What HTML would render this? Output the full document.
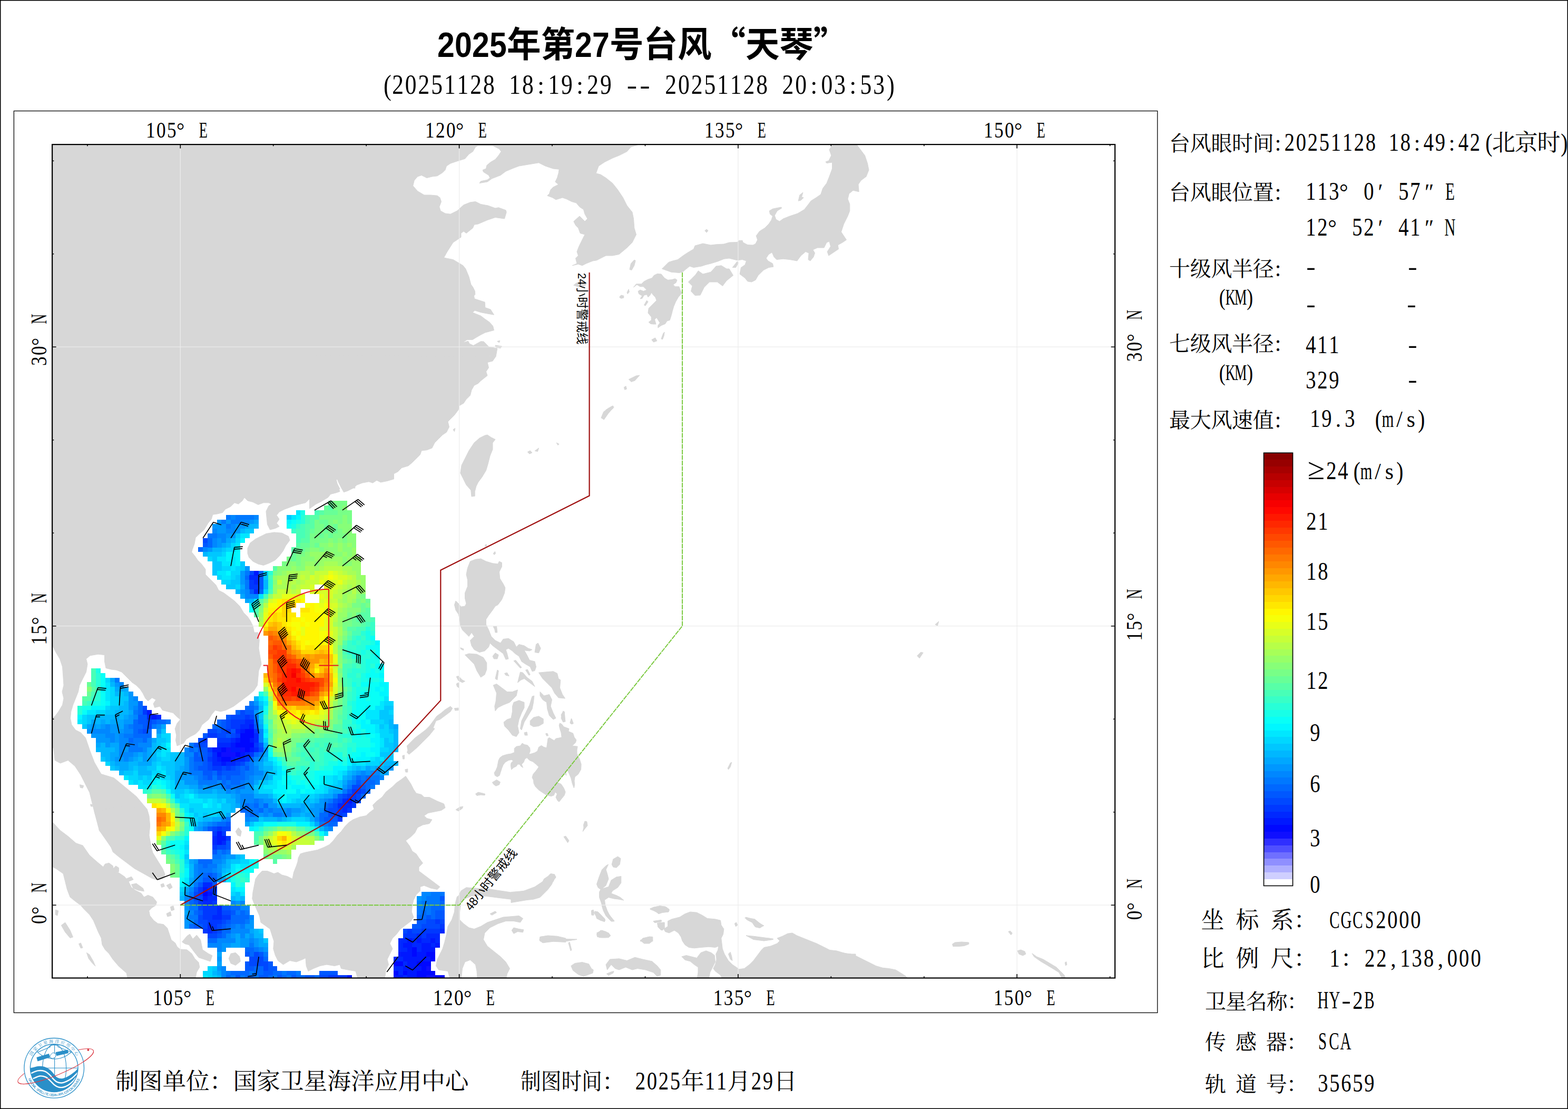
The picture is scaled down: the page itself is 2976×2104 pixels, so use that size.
<!DOCTYPE html><html lang="zh"><head><meta charset="utf-8"><title>2025年第27号台风“天琴”</title><style>html,body{margin:0;padding:0;background:#fff}body{width:2976px;height:2104px;overflow:hidden;position:relative;font-family:"Liberation Serif",serif}</style></head><body><svg width="2976" height="2104" viewBox="0 0 2976 2104" style="position:absolute;left:0;top:0"><rect x="0" y="0" width="2976" height="2104" fill="#fff"/>
<clipPath id="mc"><rect x="99.1" y="274.1" width="2017.1" height="1581.4"/></clipPath>
<g clip-path="url(#mc)">
<path fill="#d7d7d7" stroke="#d7d7d7" stroke-width="1" stroke-linejoin="round" d="M90 260 705 260 705 690 90 690zM700 260 1210 260 1210 275 1197.5 278.8 1190 287.5 1175 295 1162.5 300 1147.5 307.5 1136.2 315 1131.2 328.8 1140 331.2 1150 337.5 1162.5 347.5 1172.5 360 1182.5 375 1190 390 1200 402.5 1202.5 415 1203.8 432.5 1207.5 445 1200 460 1190 470 1175 482.5 1162.5 485 1150 485 1140 490 1132.5 493.8 1125 495 1112.5 500 1105 503.8 1097.5 501.2 1086.2 503.8 1095 500 1092.5 490 1097.5 485 1095 477.5 1098.8 467.5 1102.5 460 1106.2 452.5 1110 445 1101.2 442.5 1097.5 432.5 1092.5 427.5 1088.8 420 1100 410 1110 420 1115 415 1110 406.2 1107.5 397.5 1100 392.5 1093.8 385 1085 382.5 1075 377.5 1067.5 375 1055 378.8 1048.8 375 1038.8 371.2 1042.5 367.5 1045 360 1050 355 1060 350 1053.8 345 1057.5 337.5 1060 328.8 1061.2 321.2 1050 320 1035 315 1022.5 308.8 1000 312.5 985 315 975 318.8 960 325 950 332.5 933.8 338.8 925 345 910 347.5 912.5 343.8 925 341.2 930 337.5 927.5 332.5 917.5 326.2 916.2 322.5 922.5 320 923.8 313.8 931.2 307.5 940 302.5 946.2 295 951.2 287.5 947.5 282.5 935 276.2 907.5 276.2 902.5 278.8 897.5 287.5 890 292.5 882.5 301.2 870 305 855 310 847.5 315 845 322.5 840 327.5 830 333.8 820 335 810 337.5 800 332.5 792.5 335 786.2 342.5 783.8 352.5 792.5 362.5 805 370 817.5 370 830 371.2 835 375 837.5 382.5 833.8 392.5 836.2 400 845 405 855 406.2 867.5 400 880 388.8 892.5 383.8 902.5 382.5 912.5 387.5 926.2 390 940 395 946.2 393.8 960 398.8 961.2 402.5 957.5 415 940 412.5 925 417.5 907.5 425 900 426.2 897.5 432.5 885 442.5 880 438.8 875 442.5 875 450 860 460 848.8 477.5 842.5 488.8 847.5 490 860 492.5 878.8 503.8 883.8 510 890 525 894 540 897.5 544.5 901.2 552 901.8 558.5 899.5 561.2 900.5 566.8 920.2 573.2 920.8 583.5 931 587 937.5 597.2 925 595 913.2 592.8 901.2 589 896.8 592.8 903.2 595.5 912.5 599.2 919.8 604.8 929 611.2 935.5 618.5 937.5 626.5 920.8 631 912.5 635.2 903.8 640.2 896.8 644.5 886.5 644.5 877.2 650.5 888.5 647.2 891.2 652.2 898.5 655.5 912.5 647.8 918 648 928 658.2 943.8 661 941.2 675.8 700 675.8zM1624 272.5 1626.5 275 1634 285 1641.5 295 1646.5 310 1649 322.5 1644 335 1634 342.5 1629 350 1630.2 363.8 1619 361.2 1611.5 367.5 1609 377.5 1612.8 387.5 1612.8 400 1609 410 1601.5 425 1596.5 440 1606.5 455 1599 460 1590.2 465 1591.5 472.5 1584 477.5 1572.8 485 1570.2 477.5 1576.5 467.5 1574 458 1569 460 1564 470 1551.5 470 1542.8 473.8 1546.5 480 1544 487.5 1537.8 495 1534 492.5 1535.2 480 1529 477.5 1520.2 485 1512.8 495 1499 492.5 1486.5 491.2 1474 492.5 1469 487.5 1465.2 478.8 1459 482.5 1454 490 1457.8 495 1466.5 500 1467.8 506.2 1459 507.5 1449 512.5 1439 522.5 1434 531.2 1426.5 535 1419 533.8 1414 527.5 1404 520 1406.5 507.5 1414 502.5 1416.5 495 1409 492.5 1399 493.8 1384 490 1374 491.2 1361.5 496.2 1349 500 1339 502.5 1331.5 505 1316.5 507.5 1309 505 1302.8 510 1295.2 516.2 1289 517.5 1274 516.2 1256.5 510 1269 497.5 1276.5 495 1286.5 492.5 1296.5 485 1304 480 1316.5 472.5 1319 466.2 1334 462 1349 465 1359 463.8 1374 463 1384 460 1399 459.5 1402.8 456.2 1409 456.2 1410.2 460 1414 462 1419 464.5 1429 465 1434 462.5 1437.8 455 1435.2 447.5 1441.5 438.8 1451.5 432.5 1459 425 1464 417.5 1466.5 410 1461.5 406.2 1460.2 400 1466.5 396.2 1482.8 393 1483.5 395 1475.2 400 1470.2 408.8 1472.8 416.2 1479.5 420 1486.5 415 1499 410 1514 405 1526.5 397.5 1534 388 1539 381.2 1549 375 1557.8 368.8 1561.5 357.5 1569 347.5 1574 335 1579.5 320 1579.5 308 1569 309.5 1567 307 1572.8 305 1577.8 295 1574 283.8 1581.5 272.5zM1306.5 535 1320.2 521.2 1325.2 513.8 1334 520 1349 516.2 1359 505 1369 503.8 1379 510 1384 510 1391.5 522.5 1379 532.5 1371.5 542.5 1361.5 535 1346.5 535 1336.5 545 1329 560 1319 560.5 1311.5 552.5 1314 542.5zM1390.2 507.5 1399 496.2 1401.5 498.8 1396.5 507.5zM1515.2 381.2 1517.8 370 1524 365 1521.5 373.8 1525.2 375 1520.2 380zM1337.8 437.5 1341 435 1344 437.5 1341 441.2zM1241.2 522.5 1247.5 519.4 1255 520 1258.1 523.8 1261.2 527.5 1267.5 531.2 1275 530.6 1281.2 528.8 1285 531.2 1283.1 536.2 1277.5 540 1281.2 543.8 1288.8 543.8 1291.2 550 1293.8 556.2 1287.5 563.8 1282.5 572.5 1278.8 581.2 1276.2 590 1274.4 597.5 1271.2 607.5 1266.2 608.8 1262.5 614.4 1255 617.5 1248.8 621.9 1248.8 617.5 1252.5 612.5 1246.2 602.5 1242.5 606.2 1245 615 1240 615 1235 614.4 1231.2 611.2 1236.2 607.5 1236.2 601.2 1230 593.8 1231.2 585 1236.2 580 1241.2 575 1246.2 570 1243.8 563.8 1240 560 1236.2 555 1233.8 560 1230 563.8 1227.5 558.8 1222.5 560 1218.8 566.2 1215 566.9 1218.8 561.2 1212.5 557.5 1211.2 552.5 1215 550 1221.2 552.5 1227.5 550 1221.2 543.8 1215 543.8 1208.8 540 1202.5 545 1207.5 538.8 1217.5 538.8 1222.5 533.8 1230 530 1237.5 527.5zM1195 511.2 1197.5 500 1203.8 493.1 1206.2 494.4 1203.8 503.8 1198.8 512.5zM1088.8 541.2 1093.8 536.9 1105 535.6 1113.8 536.9 1111.2 541.2 1098.8 544.4zM1175.6 563.8 1178.8 560 1183.8 561.2 1183.8 565 1178.8 566.2zM1190 555 1193.1 548.8 1194.4 553.8 1191.2 557.5zM1222.5 578.8 1227.5 570 1230 572.5 1225 580zM1255 642.9 1258.8 632.5 1261.2 630 1260 637.5 1257.5 643.8zM941.2 676 935 685 925 687.5 927.5 697.5 922.5 705 925 712.5 912.5 722.5 907.5 727.5 900 731.2 895 740 892.5 750 885 757.5 880 765 871.2 770 870 777.5 862.5 787.5 855 795 850 800 852.5 810 847.5 820 840 825 832.5 832.5 825 840 820 850 810 853.8 800 855 797.5 862.5 790 870 782.5 877.5 775 883.8 762.5 887.5 755 895 747.5 898.8 747.5 908.8 735 912.5 722.5 915 715 911.2 707.5 916.2 700 913.8 687.5 916.2 677.5 920 670 926.2 660 931.2 652.5 933.8 647.5 925 642.5 915 640 908.8 637.5 911.2 642.5 925 645 932.5 637.5 935 627.5 937.5 622.5 943.8 610 951.2 600 956.2 587.5 965 587.5 675zM925 825 932.5 830 940 833.8 935 840 935 852.5 930 865 926.2 880 922.5 892.5 915 905 907.5 915 903.8 922.5 901.2 932.5 901.2 941.2 895 942 893.8 930 885 920 878.8 907.5 873.8 897.5 876.2 882.5 882.5 870 890 855 900 840 910 831.2 920 826.2zM1001.2 857.5 1006.2 855 1010 858.8 1005 861.2zM1015 855.5 1022.5 850 1020.5 856.5zM1056.2 840 1061.2 842.5 1058.8 844.5zM1141.2 792.5 1150 777.5 1162.5 770 1165 772.5 1155 783.8 1146.2 796.2zM943.8 647.5 948.8 646.2 947.5 650zM940 655 952.5 657 950 660.5 941.2 659zM860 815 863.8 812.5 862.5 818.8zM920.8 1033.8 923.2 1033 923.8 1036 921.2 1036.5zM673.8 926.2 662.5 925 650 915 642.5 905 637.5 907.5 640 917.5 645 927.5 635 932.5 625 937.5 615 942.5 600 943.8 587.5 946.2 580 953.8 570 956.2 560 958.8 550 962.5 540 966.2 530 971.2 525 977.5 530 985 525 992.5 530 998.8 522.5 1002.5 512.5 1005 507.5 995 506.2 982.5 505 970 510 960 515 956.2 510 953.8 500 953.8 490 957.5 480 952.5 470 950 463.8 943.8 460 950 452.5 956.2 445 953.8 437.5 961.2 427.5 966.2 422.5 972.5 412.5 975 403.8 976.2 401.2 985 395 992.5 387.5 1005 377.5 1013.8 371.2 1020 368.8 1032.5 365 1042.5 363.8 1047.5 370 1055 375 1062.5 382.5 1070 390 1080 390 1090 400 1100 410 1110 415 1120 425 1125 435 1132.5 445 1140 455 1150 462.5 1162.5 470 1170 475 1177.5 480 1187.5 482.5 1200 486.2 1212.5 87.5 1212.5 87.5 625 673.8 625 673.8 887.5zM470 1040 475 1030 485 1022.5 495 1017.5 505 1012.5 520 1010 535 1011.2 547.5 1017.5 550 1025 542.5 1035 537.5 1045 530 1055 522.5 1062.5 510 1068.8 500 1072.5 490 1070 480 1065 472.5 1057.5 470 1050zM99 1200 489.8 1200 492.2 1215 491 1230 493.5 1245 496 1260 491 1272.5 489.8 1285 488.5 1300 482.2 1310 473.5 1317.5 463.5 1325 453.5 1332.5 443.5 1340 428.5 1347.5 418.5 1350 408.5 1347.5 402.2 1355 396 1365 383.5 1375 378.5 1385 371 1392.5 361 1397.5 353.5 1402.5 348.5 1410 342.2 1412.5 336 1415 333.5 1405 334.8 1395 332.2 1382.5 336 1372.5 342.2 1365 336 1360 328.5 1352.5 318.5 1350 308.5 1347.5 303.5 1340 293.5 1342.5 291 1335 296 1327.5 288.5 1323.8 281 1330 276 1325 271 1315 266 1307.5 258.5 1300 251 1295 241 1285 231 1275 221 1271.2 211 1270 201 1267.5 198.5 1255 198.5 1242.5 186 1241.2 171 1243.8 163.5 1250 166 1260 163.5 1275 157.2 1287.5 151 1300 148.5 1312.5 143.5 1325 138.5 1337.5 134.8 1350 133.5 1362.5 136 1375 143.5 1385 153.5 1390 162.5 1400 171 1425 179.2 1446.2 192 1468.5 216.2 1475.8 236.5 1492.5 258.8 1511 279 1535 282.8 1547.8 284.5 1566.2 282.8 1584.8 287.2 1605.8 210.5 1607 188.5 1575.5 179.2 1540.5 170 1503.5 153.2 1470.2 142.2 1453.5 129.2 1442.5 114.5 1448 104.2 1442.5 101.5 1418.5 96 1420 96 1362.5 103.5 1360 111 1350 118.5 1337.5 121 1325 118 1312.5 121 1300 119.8 1282.5 118.5 1265 113.5 1250 106 1237.5 99 1223.8zM225.4 1529.4 279 1534.9 282.7 1547.9 284.5 1566.4 282.7 1584.8 284.5 1599.6 290.1 1618.1 299.3 1632.9 308.6 1647.7 313.2 1658.8 310.4 1666.2 299.3 1669.9 288.2 1666.2 271.6 1656.9 255 1647.7 240.2 1636.6 225.4 1625.5 214.3 1616.3 210.6 1607 199.5 1588.5 188.4 1575.6 186.6 1560.8 179.2 1540.5zM96 1559 100.6 1560.8 114.5 1575.6 129.3 1586.7 144.1 1599.6 157 1604 169.9 1622.5 184.7 1635.5 195.8 1644.7 199.5 1639.1 206.9 1637.3 214.3 1642.8 216.1 1653.9 225.4 1655.8 236.5 1663.2 243.9 1672.4 249.4 1683.5 256.8 1689.1 267.9 1694.6 273.4 1702 280.8 1698.3 290.1 1702 297.5 1711.2 295.6 1717.7 288.2 1722.3 282.7 1727.9 284.5 1737.1 291.9 1746.4 299.3 1751.9 310.4 1753.8 317.8 1761.1 321.5 1772.2 325.2 1783.3 332.6 1788.9 336.3 1796.3 341.8 1800.9 354.8 1801.8 364 1809.2 369.6 1818.4 377 1825.8 378.8 1835.1 373.3 1844.3 371.4 1853.6 373.3 1864.7 243.9 1864.7 240.2 1846.2 225.4 1833.2 214.3 1820.3 206.9 1809.2 199.5 1801.8 194 1792.6 192.1 1779.6 186.6 1768.5 177.3 1746.4 169.9 1735.3 158.8 1724.2 153.3 1717.7 142.2 1709.4 133 1702 127.4 1687.2 123.7 1672.4 120 1657.6 107.1 1648.4 96 1642.8zM116.3 1755.6 123.7 1750.1 133 1764.8 138.5 1777.8 133 1779.6 123.7 1768.5zM149.6 1790.7 153.3 1788.9 157 1798.1 153.3 1799zM164.4 1807.4 169.9 1811.1 177.3 1824 181 1833.2 175.5 1827.7 168.1 1818.4zM105.2 1726 110.8 1727.9 108.9 1737.1 105.2 1735.3zM345.5 1787 354.8 1775.9 360.3 1772.2 365.9 1781.5 373.3 1774.1 380.7 1783.3 384.4 1801.8 395.4 1809.2 402.8 1812.9 399.1 1824 388.1 1820.3 377 1816.6 369.6 1807.4 358.5 1792.6 351.1 1790.7zM438 1809.2 447.2 1807.4 454.6 1814.8 456.4 1824 447.2 1831.4 438 1827.7 434.3 1818.4zM304.9 1678 310.4 1676.1 312.3 1681.7 306.7 1683.5zM316 1679.8 323.4 1676.1 327.1 1683.5 321.5 1687.2zM316 1733.4 323.4 1729.7 325.2 1737.1 317.8 1739zM323.4 1720.5 328.9 1718.6 330.8 1726 325.2 1727.9zM214.3 1648.4 219.8 1642.8 225.4 1646.5 225.4 1653.9 218 1655.8zM240.2 1666.9 249.4 1663.2 253.1 1668.7 243.9 1672.4zM249.4 1678 258.7 1676.1 271.6 1685.4 273.4 1690.9 262.4 1689.1 253.1 1685.4zM447.2 1577.4 452.7 1570.1 458.3 1577.4 456.4 1586.7 450.9 1584.8zM151.5 1488.7 158.8 1490.6 157 1495.2 152.4 1494.3zM171.8 1525.7 175.5 1526.6 175.1 1530.3 172.2 1529.4zM892.5 1065 902.5 1061.2 912.5 1060 922.5 1065 935 1068.8 945 1070 947.5 1065 952.5 1067.5 952.5 1075 947.5 1085 948.8 1097.5 955 1107.5 958.8 1115 957.5 1125 952.5 1137.5 945 1147.5 940 1150 935 1157.5 927.5 1167.5 922.5 1175 922.5 1185 927.5 1195 932.5 1207.5 940 1215 950 1220 955 1212.5 965 1211.2 975 1217.5 980 1227.5 985 1222.5 995 1225 1002.5 1230 1010 1232.5 1005 1235 995 1233.8 1000 1242.5 1005 1252.5 1015 1255 1017.5 1265 1015 1272.5 1010 1273.8 1006.2 1265 997.5 1260 990 1255 985 1245 977.5 1240 972.5 1235 965 1230 960 1232.5 962.5 1240 965 1250 960 1251.2 955 1240 945 1232.5 935 1225 930 1220 927.5 1227.5 920 1235 910 1237.5 900 1232.5 895 1225 892.5 1215 900 1207.5 895 1200 890 1207.5 882.5 1200 877.5 1195 873.8 1187.5 872.5 1175 870 1165 865 1157.5 862.5 1147.5 865 1140 870 1145 875 1151.2 882.5 1150 885 1145 882.5 1135 882.5 1125 887.5 1112.5 887.5 1100 885 1090 887.5 1077.5zM1015 1237.5 1017.5 1222.5 1021.2 1220 1026.2 1230 1022.5 1238.8zM882.5 1242.5 890 1240 905 1241.2 917.5 1247.5 923.8 1257.5 923.8 1270 920 1280 912.5 1285 905 1272.5 900 1260 890 1250zM935 1245 940 1238.8 946.2 1242.5 943.8 1250 937.5 1250zM982.5 1295 987.5 1275 992.5 1276.2 1000 1285 1010 1292.5 1015 1302.5 1005 1295 995 1287.5 988.8 1290zM1022.5 1276.2 1035 1275 1050 1273.8 1057.5 1277.5 1060 1287.5 1063.8 1290 1062.5 1305 1067.5 1317.5 1072.5 1325 1060 1323.8 1052.5 1315 1047.5 1305 1040 1297.5 1030 1287.5zM1025 1312.5 1032.5 1320 1042.5 1317.5 1047.5 1327.5 1045 1340 1050 1352.5 1055 1362.5 1050 1365 1042.5 1357.5 1038.8 1345 1037.5 1332.5 1030 1327.5 1025 1320zM936.2 1300 942.5 1297.5 952.5 1305 962.5 1312.5 972.5 1312.5 982.5 1308.8 980 1320 972.5 1327.5 967.5 1332.5 955 1337.5 945 1342.5 940 1348.8 938.8 1340 941.2 1330 942.5 1315zM975 1332.5 985 1328.8 995 1332.5 995 1342.5 990 1352.5 985 1365 982.5 1377.5 985 1390 980 1397.5 972.5 1395 965 1385 957.5 1377.5 956.2 1370 962.5 1365 970 1362.5 972.5 1350 972.5 1340zM1010 1321.2 1013.8 1320 1012.5 1332.5 1010 1345 1002.5 1357.5 995 1370 990 1385 987.5 1382.5 990 1367.5 997.5 1352.5 1005 1337.5zM1006.2 1367.5 1012.5 1361.2 1022.5 1358.8 1031.2 1363.8 1031.2 1372.5 1022.5 1377.5 1012.5 1378.8 1006.2 1375zM772.5 1415 780 1407.5 787.5 1400 797.5 1392.5 807.5 1385 815 1377.5 822.5 1367.5 828.8 1358.8 837.5 1352.5 845 1346.2 855 1340 858.8 1343.8 855 1350 845 1357.5 835 1365 827.5 1367.5 822.5 1380 815 1390 805 1400 795 1407.5 785 1415 777.5 1421.2 773.8 1422.5zM866.2 1283.8 870 1282.5 877.5 1290 882.5 1292.5 877.5 1295 870 1291.2zM866.2 1297.5 870 1295 871.2 1305 867.5 1302.5zM862.5 1343.8 870 1343 870 1347.5 863.8 1348zM940 1287.5 943.8 1271.2 946.2 1272.5 943.8 1290zM957.5 1277.5 962.5 1276.2 966.2 1282.5 960 1281.2zM975 1253.8 978.8 1252.5 990 1266.2 987.5 1267.5zM997.5 1271.2 1001.2 1270 1006.2 1280 1003.8 1281.2zM1065 1362.5 1068.8 1348.8 1071.2 1351.2 1072.5 1367.5 1068.8 1370zM1082.5 1372.5 1085 1363.8 1088 1372.5 1085 1373.8zM995 1390 1000 1388.8 1001.2 1395 996.2 1395zM936.2 1188.8 942.5 1187.5 943.8 1200 940 1200 938.8 1193.8zM936.2 1050 939.5 1046.2 940.5 1050 938 1052.5zM873.8 1228.8 880 1231.2 879.5 1233.8 874.5 1231.2zM1062.5 1371.9 1066.2 1373.8 1070 1378.8 1080 1382.5 1078.8 1387.5 1087.5 1391.2 1090 1398.8 1093.8 1403.8 1092.5 1408.8 1086.2 1415 1096.2 1416.2 1095 1422.5 1095 1430 1100 1440 1103.1 1450 1102.5 1460 1097.5 1468.8 1091.2 1473.8 1090 1481.2 1090.6 1488.8 1089.4 1495 1086.2 1486.2 1083.8 1476.2 1080 1467.5 1076.2 1460 1073.8 1463.8 1075 1471.2 1071.2 1467.5 1066.2 1473.8 1061.2 1480 1058.8 1485 1065 1487.5 1070 1495 1073.1 1502.5 1071.2 1508.8 1066.2 1515 1061.2 1521.2 1058.1 1518.8 1055 1512.5 1057.5 1506.2 1053.8 1502.5 1051.2 1508.8 1046.2 1510.6 1037.5 1508.8 1030 1503.8 1022.5 1498.8 1016.2 1492.5 1013.1 1486.2 1012.5 1480 1010 1475 1011.9 1468.8 1016.2 1463.8 1020 1458.8 1022.5 1455 1017.5 1450 1011.2 1445 1005 1442.5 1000 1437.5 996.2 1440 993.8 1446.2 990 1450 992.5 1456.2 988.8 1453.8 986.2 1450 982.5 1450 980 1453.8 975 1456.2 970.6 1460 969.4 1452.5 970 1447.5 973.8 1443.8 971.2 1441.2 965 1442.5 958.8 1446.2 955 1451.2 952.5 1457.5 950 1465 948.1 1471.2 943.8 1473.8 939.4 1471.2 938.1 1466.2 941.2 1461.2 943.8 1455 945 1448.8 946.2 1442.5 948.8 1437.5 953.8 1433.8 962.5 1431.2 970 1430 976.2 1427.5 976.2 1420 980 1416.2 987.5 1415 991.2 1410 995 1412.5 1001.2 1413.8 1005.6 1418.8 1006.2 1425 1003.8 1431.2 1008.8 1430 1015 1428.1 1020 1425 1022.5 1417.5 1027.5 1414.4 1032.5 1417.5 1037.5 1418.8 1038.8 1410 1040 1401.2 1042.5 1399.4 1047.5 1402.5 1051.9 1405 1055 1401.2 1061.2 1400 1066.2 1398.8 1065 1390 1062.5 1382.5 1061.2 1376.2zM1035.6 1391.9 1038.8 1391.2 1040.6 1395.6 1037.5 1396.2zM934.4 1484.4 942.5 1479.4 949.4 1483.8 947.5 1488.8 941.2 1491.2 936.9 1488.1zM902.5 1506.2 907.5 1503.1 913.8 1504.4 920.6 1506.2 920 1508.8 912.5 1508.1 905 1509.4zM1065 1356.2 1068.8 1350 1071.2 1350 1071.9 1362.5 1073.1 1368.8 1068.8 1370 1066.9 1363.8zM1081.9 1371.2 1084.4 1363.1 1088.1 1372.5 1085 1373.8zM772.5 1427.5 776.2 1417.5 785 1407.5 795 1400 807.5 1390 820 1380 825 1382.5 815 1395 802.5 1407.5 792.5 1417.5 782.5 1426.2 776.2 1431.2zM763.8 1433.8 767.5 1432.5 767.5 1440 764.5 1440zM768.8 1460 773.8 1458.8 773.8 1465 770 1465zM865 1536.2 872.5 1531.2 878.8 1530 877.5 1533.8 870 1538.8zM1132.5 1677.5 1137.5 1662.5 1142.5 1650 1150 1642.5 1154.5 1640 1150 1650 1152.5 1657.5 1155 1667.5 1150 1680 1142.5 1686.2 1155 1682.5 1160 1670 1170 1663.8 1178.8 1662.5 1178.8 1675 1172.5 1683.8 1162.5 1690 1160 1695 1170 1698.8 1177.5 1702.5 1183.8 1708 1175 1706.2 1165 1705 1155 1702.5 1147.5 1707.5 1148.8 1717.5 1152.5 1730 1160 1740 1166.2 1747.5 1160 1747.5 1150 1735 1143.8 1722.5 1141.2 1712.5 1137.5 1702.5 1137.5 1692.5 1140 1687.5 1135 1683.8zM1161.2 1640 1163.8 1630 1172.5 1625 1178 1628.8 1176.2 1640 1170 1646.2 1163.8 1645zM1107.5 1565 1110 1558 1113.8 1558.8 1115 1566.2 1110 1572.5 1106.2 1577.5 1108 1570zM1070 1587.5 1073.8 1586.2 1080 1595 1077.5 1598.8zM1128.8 1728.8 1135 1730 1141.2 1737.5 1147.5 1742.5 1147.5 1747.5 1140 1746.2 1132.5 1742.5zM1122.5 1727.5 1126.2 1726.2 1127 1735 1123 1735zM1132.5 1772.5 1140 1765 1150 1767.5 1158.8 1775 1155 1778.8 1142.5 1778.8 1133.8 1777.5zM1025 1777.5 1037.5 1775.8 1050 1777.5 1062.5 1781.2 1095 1782 1075 1785.8 1025 1785.8zM1233.8 1725 1240 1721.2 1252.5 1718.8 1262.5 1720 1270 1725 1268.8 1730 1257.5 1731.2 1250 1732.5 1240 1727.5zM1240 1747.5 1255 1745.5 1255 1748.8 1242.5 1750.5zM1247.5 1751.2 1260 1750 1261.2 1761.2 1255 1765 1248.8 1758.8zM1215 1785.8 1220 1780 1232.5 1777 1238.8 1777.5 1238.8 1785.8zM1413.8 1741.2 1422.5 1742.5 1432.5 1745 1442.5 1752.5 1450 1756.2 1440 1760 1432.5 1757.5 1427.5 1750 1417.5 1745zM1394.5 1752 1397.5 1750 1399.5 1755 1396.2 1757.5zM1416.2 1775 1430 1777.5 1445 1780 1460 1780 1467.5 1782.5 1450 1785 1430 1782.5zM1381.2 1457.5 1386.2 1447.5 1388.8 1446.2 1386.2 1455 1382.5 1460zM770 1472.5 775 1480 780 1487.5 785 1497.5 790 1505 800 1507.5 805 1512.5 815 1512.5 830 1520 842.5 1525 845 1532.5 837.5 1537.5 825 1540 812.5 1542.5 805 1547.5 810 1552.5 820 1555 815 1562.5 802.5 1565 792.5 1570 787.5 1580 780 1587.5 770 1595 777.5 1605 782.5 1615 790 1620 795 1627.5 802.5 1637.5 795 1645 795 1652.5 805 1660 815 1667.5 825 1675 835 1682.5 830 1687.5 817.5 1685 805 1680 797.5 1682.5 797.5 1690 790 1697.5 785 1707.5 782.5 1717.5 781.2 1730 785 1740 780 1747.5 770 1755 760 1762.5 752.5 1772.5 745 1780 740 1790 745 1800 740 1810 735 1820 737.5 1830 732.5 1840 730 1860 680 1860 675 1842.5 660 1840 647.5 1837.5 645 1830 635 1832.5 620 1830 607.5 1832.5 595 1837.5 585 1842.5 581.2 1832.5 580 1817.5 575 1820 562.5 1825 550 1822.5 537.5 1830 527.5 1822.5 522.5 1812.5 518.8 1800 520 1785.8 512.5 1762.5 495 1750 492.5 1737.5 482.5 1715 478.8 1705 480 1692.5 482.5 1680 485 1667.5 490 1660 497.5 1652.5 507.5 1652.5 520 1657.5 527.5 1655 535 1660 545 1662.5 555 1667.5 557.5 1655 562.5 1642.5 565 1635 566.2 1627.5 570 1620 577.5 1617.5 590 1615 602.5 1612.5 615 1607.5 625 1602.5 632.5 1595 640 1585 647.5 1577.5 655 1567.5 662.5 1560 670 1555 682.5 1550 695 1547.5 700 1542.5 710 1535 707.5 1527.5 715 1520 725 1512.5 732.5 1502.5 745 1492.5 752.5 1485 760 1480zM870 1700 875 1690 885 1683.8 900 1685 925 1686.2 950 1690 975 1693.8 995 1690 1015 1682.5 1030 1672.5 1042.5 1662.5 1055 1662.5 1050 1672.5 1037.5 1685 1025 1695 1010 1702.5 990 1707.5 970 1706.2 950 1703.8 930 1701.2 910 1698.8 895 1700 882.5 1705 875 1712.5 872.5 1730 872.5 1745 880 1752.5 890 1760 900 1762.5 912.5 1757.5 925 1750 940 1745 955 1740 970 1738.8 985 1737.5 992.5 1742.5 987.5 1750 975 1747.5 960 1747.5 945 1752.5 930 1760 920 1770 917.5 1782.5 925 1795 937.5 1805 950 1815 960 1825 967.5 1837.5 962.5 1847.5 960 1860 906.2 1860 905 1842.5 902.5 1830 892.5 1821.2 882.5 1825 877.5 1837.5 875 1860 855 1860 850 1842.5 832.5 1840 827.5 1832.5 830 1820 835 1810 840 1800 843.8 1787.5 847.5 1772.5 850 1757.5 857.5 1745 862.5 1730 863.8 1715 867.5 1701.2zM1025 1777.5 1040 1775 1057.5 1776.2 1073.8 1780 1073.8 1787.5 1050 1786.2 1030 1788.8 1023.8 1783.8zM930 1733.8 940 1728.8 942.5 1731.2 933.8 1736.2zM971.2 1765 975 1760 985 1762.5 993.8 1763.8 992.5 1768.8 982.5 1767.5 975 1771.2zM970 1692.5 1000 1690 1012.5 1686.2 1022.5 1680 1030 1672.5 1032.5 1667.5 1040 1662.5 1045 1657.5 1052.5 1658.8 1055 1665 1050 1670 1047.5 1677.5 1040 1687.5 1032.5 1695 1025 1702.5 1012.5 1706.2 1000 1707.5 970 1712.5zM1267.5 1747.5 1275 1743.8 1290 1740 1300 1733.8 1310 1730 1322.5 1731.2 1332.5 1736.2 1342.5 1742.5 1357.5 1743.8 1367.5 1746.2 1368.8 1755 1373.8 1762.5 1372.5 1772.5 1368.8 1780 1370 1790 1371.2 1800 1375 1810 1382.5 1822.5 1390 1830 1397.5 1835 1402.5 1838.8 1412.5 1837.5 1422.5 1830 1430 1822.5 1437.5 1812.5 1445 1802.5 1450 1797.5 1462.5 1795 1475 1790 1480 1785 1475 1780 1485 1776.2 1495 1771.2 1503.8 1770 1512.5 1775 1525 1780 1537.5 1785 1550 1790 1562.5 1796.2 1575 1802.5 1587.5 1803.8 1600 1807.5 1610 1810 1624 1810 1624 1860 1372.5 1860 1367.5 1850 1357.5 1842.5 1353.8 1837.5 1357.5 1830 1360 1820 1358.8 1810 1362.5 1802.5 1363.8 1795 1357.5 1797.5 1345 1796.2 1330 1797.5 1317.5 1798.8 1307.5 1797.5 1300 1792.5 1295 1785 1292.5 1777.5 1287.5 1770 1280 1765 1270 1770 1262.5 1767.5 1260 1762.5 1267.5 1757.5zM1293.8 1815 1302.5 1812.5 1312.5 1815 1322.5 1817.5 1330 1807.5 1340 1803.8 1350 1807.5 1356.2 1812.5 1357.5 1825 1352.5 1835 1347.5 1845 1345 1860 1322.5 1860 1325 1845 1325 1835 1317.5 1830 1310 1823.8 1300 1821.2zM1150 1830 1157.5 1820 1175 1818.8 1190 1822.5 1205 1816.2 1220 1820 1237.5 1823.8 1247.5 1832.5 1253.8 1840 1253.8 1850 1247.5 1852.5 1240 1845 1225 1840 1210 1837.5 1200 1840 1187.5 1835 1175 1840 1167.5 1837.5 1160 1830 1152.5 1840zM1083.8 1832.5 1091.2 1827.5 1105 1825.5 1117.5 1828.8 1122.5 1837.5 1126.2 1840 1125 1846.2 1117.5 1848.8 1107.5 1852.5 1097.5 1848.8 1087.5 1841.2zM1151.2 1847.5 1160 1843.8 1165 1842.5 1163.8 1846.2 1155 1850.5zM1132.5 1770 1142.5 1765 1155 1770 1158.8 1775 1150 1778.8 1137.5 1778.8zM1215 1783.8 1225 1780 1237.5 1777.5 1238.8 1785 1232.5 1790 1222.5 1790zM1248.8 1752.5 1261.2 1750 1261.2 1760 1257.5 1765 1251.2 1760zM1240 1748 1255 1745.5 1255.5 1748 1242.5 1750.5zM1233.8 1723.8 1242.5 1721.2 1252.5 1718.8 1265 1721.2 1270.5 1726.2 1268.8 1730 1257.5 1731.2 1250 1733.8 1241.2 1726.2zM1125 1727.5 1130 1732.5 1136.2 1731.2 1141.2 1736.2 1148.8 1745 1147.5 1748.8 1140 1746.2 1132.5 1740zM1122.5 1727.5 1126.2 1727 1127 1736.2 1123 1736.2zM1142.5 1718.8 1148.8 1717.5 1152.5 1727.5 1157.5 1737.5 1165 1748 1160 1748 1150 1737.5 1145 1727.5zM1050 1778.8 1060 1782.5 1075 1782 1095 1782.5 1075 1785 1060 1785.5 1050 1783.8zM1078.8 1788.8 1081.2 1787.5 1085 1802.5 1083 1803.8zM1415 1740 1425 1742.5 1432.5 1743.8 1440 1750 1448.8 1756.2 1442.5 1760.5 1433.8 1758.8 1430 1751.2 1420 1746.2zM1394.5 1752.5 1397.5 1750.8 1399.5 1755 1397 1757.5zM1416.2 1775 1430 1776.2 1450 1778.8 1467.5 1781.2 1450 1783.8 1435 1780zM1382.5 1810 1386.2 1806.2 1388.8 1815 1390 1822.5 1386.2 1820zM1595 1807.5 1615 1810 1625 1813.8 1637.5 1820 1650 1826.2 1662.5 1832.5 1675 1836.2 1687.5 1837.5 1700 1840 1710 1846.2 1720 1852.5 1725 1860 1595 1860zM1807.5 1791.2 1812.5 1788 1825 1787 1838.8 1788 1838.8 1791.2 1830 1794.5 1820 1795.5 1808.8 1795.5zM1913.8 1767.5 1917.5 1766.2 1921.2 1770.5 1918.8 1773.8zM1931.2 1803.8 1937.5 1802 1945 1805 1947 1810 1941.2 1813 1933.8 1810zM1958.8 1808.8 1967.5 1815 1980 1820 1992.5 1827.5 2005 1835 2012.5 1842.5 2020 1850 2023.8 1860 2017.5 1860 2010 1845 2000 1838.8 1987.5 1831.2 1975 1823.8 1962.5 1815zM2021.2 1826.2 2023.8 1824.5 2025 1830 2022.5 1832zM1193.5 719.8 1207.2 713 1214 712 1204.9 722.1 1198 724.4zM1184.4 734.8 1188 732.6 1189.4 738 1185.7 739.4zM1141 792.8 1145.6 781.4 1154.7 774.5 1163.8 770 1163.8 774.5 1152.4 785 1145.6 795zM1774.9 1184.9 1781.7 1179 1779.4 1187.2zM1740.7 1244.2 1747.5 1237.4 1752.1 1238.3 1745.2 1248.8zM1236.8 644.6 1243.6 640.9 1246.8 646.8 1240.4 649.1z"/>
<line x1="342.3" y1="274.1" x2="342.3" y2="1855.5" stroke="#ececec" stroke-width="1.2"/>
<line x1="871.6" y1="274.1" x2="871.6" y2="1855.5" stroke="#ececec" stroke-width="1.2"/>
<line x1="1400.9" y1="274.1" x2="1400.9" y2="1855.5" stroke="#ececec" stroke-width="1.2"/>
<line x1="1930.2" y1="274.1" x2="1930.2" y2="1855.5" stroke="#ececec" stroke-width="1.2"/>
<line x1="99.1" y1="1717.2" x2="2116.2" y2="1717.2" stroke="#ececec" stroke-width="1.2"/>
<line x1="99.1" y1="1187.7" x2="2116.2" y2="1187.7" stroke="#ececec" stroke-width="1.2"/>
<line x1="99.1" y1="658.2" x2="2116.2" y2="658.2" stroke="#ececec" stroke-width="1.2"/>
<g shape-rendering="crispEdges"><path fill="#00e7ff" d="M147 1365H155.9V1373.9H147zM693.9 1356.1H720.5V1365H693.9zM164.6 1347.3H182.4V1356.2H164.6zM693.9 1347.3H720.5V1356.2H693.9zM711.6 1338.5H729.3V1347.4H711.6zM711.6 1373.8H720.5V1382.7H711.6zM499.8 1329.7H508.8V1338.6H499.8zM720.4 1329.7H729.3V1338.6H720.4zM199.9 1320.8H208.8V1329.8H199.9zM491 1320.8H499.9V1329.8H491zM729.2 1320.8H738.1V1329.8H729.2zM499.8 1382.6H508.8V1391.5H499.8zM711.6 1382.6H720.5V1391.5H711.6zM199.9 1312H208.8V1320.9H199.9zM199.9 1303.2H208.8V1312.1H199.9zM199.9 1294.4H208.8V1303.3H199.9zM305.8 1417.9H323.5V1426.8H305.8zM720.4 1409.1H729.3V1418H720.4zM720.4 1400.2H729.3V1409.2H720.4zM508.7 1435.6H517.6V1444.5H508.7zM702.7 1435.6H711.7V1444.5H702.7zM720.4 1435.6H729.3V1444.5H720.4zM305.8 1426.7H314.7V1435.7H305.8zM517.5 1444.4H526.4V1453.3H517.5zM676.3 1444.4H694V1453.3H676.3zM296.9 1453.2H305.9V1462.1H296.9zM526.3 1453.2H535.2V1462.1H526.3zM305.8 1462H314.7V1471H305.8zM526.3 1462H535.2V1471H526.3zM641 1462H649.9V1471H641zM235.2 1470.9H244.1V1479.8H235.2zM288.1 1470.9H305.9V1479.8H288.1zM517.5 1470.9H535.2V1479.8H517.5zM614.5 1470.9H632.3V1479.8H614.5zM641 1470.9H649.9V1479.8H641zM244 1479.7H252.9V1488.6H244zM261.7 1479.7H270.6V1488.6H261.7zM314.6 1479.7H323.5V1488.6H314.6zM517.5 1479.7H526.4V1488.6H517.5zM614.5 1479.7H632.3V1488.6H614.5zM261.7 1488.5H288.2V1497.4H261.7zM314.6 1488.5H323.5V1497.4H314.6zM499.8 1488.5H526.4V1497.4H499.8zM605.7 1488.5H614.6V1497.4H605.7zM561.6 1497.3H570.5V1506.2H561.6zM596.9 1497.3H614.6V1506.2H596.9zM332.2 1515H341.2V1523.9H332.2zM358.7 1515H385.3V1523.9H358.7zM394 1515H402.9V1523.9H394zM526.3 1515H535.2V1523.9H526.3zM544 1515H552.9V1523.9H544zM349.9 1506.2H358.8V1515.1H349.9zM526.3 1506.2H535.2V1515.1H526.3zM544 1506.2H570.5V1515.1H544zM341.1 1523.8H358.8V1532.7H341.1zM394 1523.8H402.9V1532.7H394zM411.6 1523.8H420.5V1532.7H411.6zM349.9 1594.4H358.8V1603.3H349.9zM358.7 1559.1H367.6V1568H358.7zM482.2 1559.1H499.9V1568H482.2zM358.7 1541.5H367.6V1550.4H358.7zM349.9 1532.6H358.8V1541.5H349.9zM349.9 1612H358.8V1621H349.9zM429.3 1656.2H438.2V1665.1H429.3zM438.1 1647.4H447V1656.3H438.1zM349.9 1638.5H358.8V1647.5H349.9zM438.1 1638.5H447V1647.5H438.1zM455.7 1638.5H473.5V1647.5H455.7zM455.7 1691.5H464.7V1700.4H455.7zM438.1 1682.7H447V1691.6H438.1zM349.9 1665H358.8V1673.9H349.9zM429.3 1665H438.2V1673.9H429.3zM385.2 1850.3H394.1V1859.2H385.2zM446.9 1029.6H455.8V1038.5H446.9zM411.6 1056.1H429.4V1065H411.6zM438.1 1056.1H447V1065H438.1zM455.7 1012H473.5V1020.9H455.7zM411.6 1082.6H429.4V1091.5H411.6zM438.1 1073.7H447V1082.7H438.1zM420.4 1064.9H447V1073.8H420.4zM420.4 1091.4H438.2V1100.3H420.4zM552.8 976.7H561.7V985.6H552.8zM491 1126.7H499.9V1135.6H491zM482.2 1135.5H491.1V1144.4H482.2zM561.6 967.8H570.5V976.8H561.6z"/><path fill="#00d7ff" d="M155.8 1365H164.7V1373.9H155.8zM702.7 1365H729.3V1373.9H702.7zM155.8 1356.1H164.7V1365H155.8zM182.3 1347.3H200V1356.2H182.3zM738 1347.3H747V1356.2H738zM199.9 1338.5H208.8V1347.4H199.9zM729.2 1373.8H738.1V1382.7H729.2zM208.7 1329.7H226.5V1338.6H208.7zM729.2 1329.7H747V1338.6H729.2zM208.7 1320.8H226.5V1329.8H208.7zM720.4 1382.6H738.1V1391.5H720.4zM208.7 1312H217.6V1320.9H208.7zM208.7 1303.2H217.6V1312.1H208.7zM305.8 1391.4H323.5V1400.3H305.8zM720.4 1391.4H747V1400.3H720.4zM199.9 1285.5H208.8V1294.5H199.9zM720.4 1417.9H738.1V1426.8H720.4zM305.8 1409.1H314.7V1418H305.8zM314.6 1400.2H323.5V1409.2H314.6zM499.8 1400.2H508.8V1409.2H499.8zM738 1400.2H747V1409.2H738zM305.8 1435.6H323.5V1444.5H305.8zM711.6 1435.6H720.5V1444.5H711.6zM296.9 1426.7H305.9V1435.7H296.9zM314.6 1426.7H323.5V1435.7H314.6zM199.9 1444.4H208.8V1453.3H199.9zM296.9 1444.4H305.9V1453.3H296.9zM667.5 1444.4H676.4V1453.3H667.5zM693.9 1444.4H720.5V1453.3H693.9zM305.8 1453.2H314.7V1462.1H305.8zM517.5 1453.2H526.4V1462.1H517.5zM658.6 1453.2H667.6V1462.1H658.6zM252.8 1462H261.8V1471H252.8zM288.1 1462H305.9V1471H288.1zM649.8 1462H658.7V1471H649.8zM244 1470.9H261.8V1479.8H244zM270.5 1470.9H279.4V1479.8H270.5zM305.8 1470.9H323.5V1479.8H305.8zM632.2 1470.9H641.1V1479.8H632.2zM252.8 1479.7H261.8V1488.6H252.8zM270.5 1479.7H288.2V1488.6H270.5zM323.4 1479.7H332.3V1488.6H323.4zM508.7 1479.7H517.6V1488.6H508.7zM632.2 1479.7H641.1V1488.6H632.2zM323.4 1488.5H332.3V1497.4H323.4zM491 1488.5H499.9V1497.4H491zM614.5 1488.5H623.4V1497.4H614.5zM323.4 1497.3H332.3V1506.2H323.4zM349.9 1497.3H358.8V1506.2H349.9zM491 1497.3H517.6V1506.2H491zM614.5 1497.3H623.4V1506.2H614.5zM341.1 1515H358.8V1523.9H341.1zM385.2 1515H394.1V1523.9H385.2zM402.8 1515H411.7V1523.9H402.8zM420.4 1515H429.4V1523.9H420.4zM552.8 1515H561.7V1523.9H552.8zM570.4 1515H579.3V1523.9H570.4zM341.1 1506.2H350V1515.1H341.1zM367.5 1506.2H376.4V1515.1H367.5zM517.5 1506.2H526.4V1515.1H517.5zM570.4 1506.2H597V1515.1H570.4zM358.7 1523.8H385.3V1532.7H358.7zM402.8 1523.8H411.7V1532.7H402.8zM614.5 1576.8H623.4V1585.7H614.5zM588.1 1559.1H597V1568H588.1zM367.5 1550.3H376.4V1559.2H367.5zM552.8 1550.3H579.3V1559.2H552.8zM376.3 1541.5H385.3V1550.4H376.3zM394 1541.5H411.7V1550.4H394zM367.5 1532.6H420.5V1541.5H367.5zM349.9 1603.2H358.8V1612.1H349.9zM349.9 1629.7H358.8V1638.6H349.9zM455.7 1629.7H473.5V1638.6H455.7zM438.1 1691.5H447V1700.4H438.1zM341.1 1682.7H350V1691.6H341.1zM349.9 1673.8H358.8V1682.8H349.9zM429.3 1038.4H447V1047.3H429.3zM394 1850.3H402.9V1859.2H394zM385.2 1841.5H402.9V1850.4H385.2zM420.4 1047.2H429.4V1056.2H420.4zM438.1 1029.6H447V1038.5H438.1zM446.9 1020.8H455.8V1029.7H446.9zM394 1832.7H402.9V1841.6H394zM394 1056.1H402.9V1065H394zM438.1 1082.6H455.8V1091.5H438.1zM499.8 1082.6H508.8V1091.5H499.8zM420.4 1073.7H438.2V1082.7H420.4zM446.9 1073.7H455.8V1082.7H446.9zM411.6 1091.4H420.5V1100.3H411.6zM438.1 1091.4H447V1100.3H438.1zM420.4 1100.2H438.2V1109.1H420.4zM446.9 1109H455.8V1118H446.9zM499.8 1117.9H508.8V1126.8H499.8z"/><path fill="#00c7ff" d="M164.6 1365H173.5V1373.9H164.6zM729.2 1365H738.1V1373.9H729.2zM164.6 1356.1H182.4V1365H164.6zM491 1356.1H499.9V1365H491zM720.4 1356.1H747V1365H720.4zM199.9 1347.3H217.6V1356.2H199.9zM491 1347.3H499.9V1356.2H491zM720.4 1347.3H738.1V1356.2H720.4zM208.7 1338.5H226.5V1347.4H208.7zM729.2 1338.5H747V1347.4H729.2zM155.8 1373.8H164.7V1382.7H155.8zM720.4 1373.8H729.3V1382.7H720.4zM226.4 1329.7H235.3V1338.6H226.4zM491 1329.7H499.9V1338.6H491zM226.4 1320.8H244.1V1329.8H226.4zM305.8 1382.6H314.7V1391.5H305.8zM738 1382.6H747V1391.5H738zM226.4 1312H235.3V1320.9H226.4zM296.9 1417.9H305.9V1426.8H296.9zM738 1417.9H747V1426.8H738zM296.9 1409.1H305.9V1418H296.9zM729.2 1409.1H747V1418H729.2zM296.9 1400.2H314.7V1409.2H296.9zM729.2 1400.2H738.1V1409.2H729.2zM191.1 1435.6H200V1444.5H191.1zM296.9 1435.6H305.9V1444.5H296.9zM323.4 1435.6H332.3V1444.5H323.4zM729.2 1435.6H747V1444.5H729.2zM323.4 1426.7H341.2V1435.7H323.4zM720.4 1426.7H747V1435.7H720.4zM288.1 1444.4H297V1453.3H288.1zM305.8 1444.4H332.3V1453.3H305.8zM499.8 1444.4H517.6V1453.3H499.8zM720.4 1444.4H729.3V1453.3H720.4zM208.7 1453.2H217.6V1462.1H208.7zM252.8 1453.2H261.8V1462.1H252.8zM279.3 1453.2H297V1462.1H279.3zM314.6 1453.2H332.3V1462.1H314.6zM667.5 1453.2H676.4V1462.1H667.5zM685.1 1453.2H694V1462.1H685.1zM235.2 1462H252.9V1471H235.2zM314.6 1462H332.3V1471H314.6zM508.7 1462H526.4V1471H508.7zM261.7 1470.9H270.6V1479.8H261.7zM279.3 1470.9H288.2V1479.8H279.3zM323.4 1470.9H332.3V1479.8H323.4zM491 1479.7H508.8V1488.6H491zM641 1479.7H649.9V1488.6H641zM482.2 1488.5H491.1V1497.4H482.2zM623.3 1488.5H649.9V1497.4H623.3zM332.2 1497.3H350V1506.2H332.2zM358.7 1497.3H367.6V1506.2H358.7zM411.6 1515H420.5V1523.9H411.6zM561.6 1515H570.5V1523.9H561.6zM588.1 1515H597V1523.9H588.1zM332.2 1506.2H341.2V1515.1H332.2zM376.3 1506.2H411.7V1515.1H376.3zM596.9 1506.2H605.8V1515.1H596.9zM420.4 1523.8H438.2V1532.7H420.4zM367.5 1559.1H376.4V1568H367.5zM473.4 1559.1H482.3V1568H473.4zM376.3 1550.3H385.3V1559.2H376.3zM491 1550.3H499.9V1559.2H491zM544 1550.3H552.9V1559.2H544zM579.2 1550.3H588.2V1559.2H579.2zM367.5 1541.5H376.4V1550.4H367.5zM385.2 1541.5H394.1V1550.4H385.2zM411.6 1541.5H429.4V1550.4H411.6zM358.7 1532.6H367.6V1541.5H358.7zM420.4 1532.6H438.2V1541.5H420.4zM438.1 1629.7H455.8V1638.6H438.1zM349.9 1620.9H358.8V1629.8H349.9zM455.7 1620.9H464.7V1629.8H455.7zM420.4 1656.2H429.4V1665.1H420.4zM429.3 1647.4H438.2V1656.3H429.3zM446.9 1700.3H455.8V1709.2H446.9zM341.1 1691.5H350V1700.4H341.1zM446.9 1691.5H455.8V1700.4H446.9zM420.4 1038.4H429.4V1047.3H420.4zM402.8 1850.3H411.7V1859.2H402.8zM491 1762.1H499.9V1771H491zM394 1047.2H420.5V1056.2H394zM402.8 1832.7H411.7V1841.6H402.8zM499.8 1779.7H508.8V1788.6H499.8zM402.8 1056.1H411.7V1065H402.8zM446.9 1012H455.8V1020.9H446.9zM402.8 1082.6H411.7V1091.5H402.8zM402.8 1073.7H420.5V1082.7H402.8zM455.7 1073.7H464.7V1082.7H455.7zM402.8 1064.9H420.5V1073.8H402.8zM455.7 1064.9H464.7V1073.8H455.7zM464.6 1003.1H482.3V1012H464.6zM446.9 1091.4H455.8V1100.3H446.9zM499.8 1091.4H508.8V1100.3H499.8zM438.1 1100.2H455.8V1109.1H438.1zM429.3 1109H447V1118H429.3zM544 976.7H552.9V985.6H544z"/><path fill="#00a7ff" d="M173.4 1365H182.4V1373.9H173.4zM191.1 1365H200V1373.9H191.1zM208.7 1365H235.3V1373.9H208.7zM217.5 1356.1H226.5V1365H217.5zM235.2 1356.1H244.1V1365H235.2zM244 1347.3H252.9V1356.2H244zM164.6 1373.8H173.5V1382.7H164.6zM182.3 1373.8H191.2V1382.7H182.3zM226.4 1373.8H235.3V1382.7H226.4zM305.8 1373.8H314.7V1382.7H305.8zM491 1373.8H499.9V1382.7H491zM746.9 1373.8H755.8V1382.7H746.9zM217.5 1303.2H244.1V1312.1H217.5zM208.7 1285.5H217.6V1294.5H208.7zM217.5 1417.9H226.5V1426.8H217.5zM279.3 1417.9H288.2V1426.8H279.3zM182.3 1409.1H191.2V1418H182.3zM208.7 1409.1H226.5V1418H208.7zM288.1 1400.2H297V1409.2H288.1zM208.7 1435.6H217.6V1444.5H208.7zM252.8 1435.6H261.8V1444.5H252.8zM279.3 1435.6H288.2V1444.5H279.3zM208.7 1426.7H226.5V1435.7H208.7zM261.7 1426.7H270.6V1435.7H261.7zM279.3 1426.7H288.2V1435.7H279.3zM499.8 1426.7H508.8V1435.7H499.8zM217.5 1444.4H244.1V1453.3H217.5zM261.7 1444.4H288.2V1453.3H261.7zM491 1444.4H499.9V1453.3H491zM226.4 1453.2H244.1V1462.1H226.4zM341.1 1453.2H350V1462.1H341.1zM491 1453.2H499.9V1462.1H491zM693.9 1453.2H702.8V1462.1H693.9zM711.6 1453.2H720.5V1462.1H711.6zM729.2 1453.2H738.1V1462.1H729.2zM332.2 1462H350V1471H332.2zM499.8 1462H508.8V1471H499.8zM667.5 1462H676.4V1471H667.5zM720.4 1462H738.1V1471H720.4zM332.2 1470.9H341.2V1479.8H332.2zM499.8 1470.9H508.8V1479.8H499.8zM658.6 1470.9H667.6V1479.8H658.6zM332.2 1479.7H341.2V1488.6H332.2zM482.2 1479.7H491.1V1488.6H482.2zM649.8 1479.7H658.7V1488.6H649.8zM358.7 1488.5H376.4V1497.4H358.7zM376.3 1497.3H402.9V1506.2H376.3zM411.6 1497.3H429.4V1506.2H411.6zM632.2 1497.3H649.9V1506.2H632.2zM438.1 1506.2H447V1515.1H438.1zM482.2 1506.2H508.8V1515.1H482.2zM614.5 1506.2H632.3V1515.1H614.5zM446.9 1523.8H455.8V1532.7H446.9zM570.4 1523.8H579.3V1532.7H570.4zM588.1 1523.8H597V1532.7H588.1zM367.5 1567.9H376.4V1576.8H367.5zM376.3 1559.1H385.3V1568H376.3zM464.6 1559.1H473.5V1568H464.6zM596.9 1559.1H605.8V1568H596.9zM402.8 1550.3H420.5V1559.2H402.8zM526.3 1550.3H535.2V1559.2H526.3zM588.1 1550.3H597V1559.2H588.1zM429.3 1541.5H438.2V1550.4H429.3zM552.8 1541.5H570.5V1550.4H552.8zM579.2 1541.5H597V1550.4H579.2zM570.4 1532.6H579.3V1541.5H570.4zM358.7 1629.7H367.6V1638.6H358.7zM420.4 1638.5H429.4V1647.5H420.4zM349.9 1682.7H358.8V1691.6H349.9zM358.7 1673.8H367.6V1682.8H358.7zM358.7 1665H367.6V1673.9H358.7zM420.4 1665H429.4V1673.9H420.4zM349.9 1726.8H358.8V1735.7H349.9zM411.6 1841.5H420.5V1850.4H411.6zM473.4 1762.1H482.3V1771H473.4zM420.4 1029.6H429.4V1038.5H420.4zM429.3 1020.8H438.2V1029.7H429.3zM438.1 1788.5H455.8V1797.5H438.1zM491 1788.5H508.8V1797.5H491zM446.9 1779.7H455.8V1788.6H446.9zM491 1779.7H499.9V1788.6H491zM446.9 1770.9H455.8V1779.8H446.9zM464.6 1770.9H473.5V1779.8H464.6zM464.6 994.3H473.5V1003.2H464.6zM411.6 1823.9H420.5V1832.8H411.6zM411.6 1806.2H420.5V1815.1H411.6zM482.2 985.5H491.1V994.4H482.2zM455.7 1109H464.7V1118H455.7zM455.7 1126.7H464.7V1135.6H455.7zM464.6 1135.5H473.5V1144.4H464.6z"/><path fill="#00b7ff" d="M182.3 1365H191.2V1373.9H182.3zM199.9 1365H208.8V1373.9H199.9zM491 1365H499.9V1373.9H491zM738 1365H747V1373.9H738zM182.3 1356.1H217.6V1365H182.3zM226.4 1356.1H235.3V1365H226.4zM217.5 1347.3H244.1V1356.2H217.5zM226.4 1338.5H244.1V1347.4H226.4zM491 1338.5H499.9V1347.4H491zM738 1373.8H747V1382.7H738zM235.2 1329.7H244.1V1338.6H235.2zM482.2 1320.8H491.1V1329.8H482.2zM746.9 1382.6H755.8V1391.5H746.9zM217.5 1312H226.5V1320.9H217.5zM235.2 1312H244.1V1320.9H235.2zM208.7 1294.4H217.6V1303.3H208.7zM296.9 1391.4H305.9V1400.3H296.9zM746.9 1391.4H755.8V1400.3H746.9zM182.3 1417.9H217.6V1426.8H182.3zM288.1 1417.9H297V1426.8H288.1zM746.9 1417.9H755.8V1426.8H746.9zM191.1 1409.1H200V1418H191.1zM288.1 1409.1H297V1418H288.1zM499.8 1409.1H508.8V1418H499.8zM746.9 1409.1H755.8V1418H746.9zM746.9 1400.2H755.8V1409.2H746.9zM199.9 1435.6H208.8V1444.5H199.9zM261.7 1435.6H270.6V1444.5H261.7zM288.1 1435.6H297V1444.5H288.1zM332.2 1435.6H350V1444.5H332.2zM499.8 1435.6H508.8V1444.5H499.8zM191.1 1426.7H208.8V1435.7H191.1zM288.1 1426.7H297V1435.7H288.1zM341.1 1426.7H350V1435.7H341.1zM208.7 1444.4H217.6V1453.3H208.7zM244 1444.4H261.8V1453.3H244zM332.2 1444.4H350V1453.3H332.2zM729.2 1444.4H755.8V1453.3H729.2zM217.5 1453.2H226.5V1462.1H217.5zM244 1453.2H252.9V1462.1H244zM261.7 1453.2H279.4V1462.1H261.7zM332.2 1453.2H341.2V1462.1H332.2zM499.8 1453.2H517.6V1462.1H499.8zM676.3 1453.2H685.2V1462.1H676.3zM702.7 1453.2H711.7V1462.1H702.7zM720.4 1453.2H729.3V1462.1H720.4zM226.4 1462H235.3V1471H226.4zM261.7 1462H288.2V1471H261.7zM658.6 1462H667.6V1471H658.6zM508.7 1470.9H517.6V1479.8H508.7zM649.8 1470.9H658.7V1479.8H649.8zM341.1 1479.7H350V1488.6H341.1zM332.2 1488.5H358.8V1497.4H332.2zM367.5 1497.3H376.4V1506.2H367.5zM402.8 1497.3H411.7V1506.2H402.8zM482.2 1497.3H491.1V1506.2H482.2zM623.3 1497.3H632.3V1506.2H623.3zM429.3 1515H447V1523.9H429.3zM517.5 1515H526.4V1523.9H517.5zM579.2 1515H588.2V1523.9H579.2zM596.9 1515H605.8V1523.9H596.9zM411.6 1506.2H438.2V1515.1H411.6zM508.7 1506.2H517.6V1515.1H508.7zM605.7 1506.2H614.6V1515.1H605.7zM438.1 1523.8H447V1532.7H438.1zM526.3 1523.8H570.5V1532.7H526.3zM579.2 1523.8H588.2V1532.7H579.2zM605.7 1567.9H614.6V1576.8H605.7zM385.2 1550.3H402.9V1559.2H385.2zM499.8 1550.3H526.4V1559.2H499.8zM535.1 1550.3H544.1V1559.2H535.1zM570.4 1541.5H579.3V1550.4H570.4zM438.1 1532.6H447V1541.5H438.1zM579.2 1532.6H588.2V1541.5H579.2zM429.3 1629.7H438.2V1638.6H429.3zM446.9 1620.9H455.8V1629.8H446.9zM358.7 1656.2H367.6V1665.1H358.7zM358.7 1647.4H367.6V1656.3H358.7zM420.4 1647.4H429.4V1656.3H420.4zM358.7 1638.5H367.6V1647.5H358.7zM429.3 1638.5H438.2V1647.5H429.3zM341.1 1700.3H350V1709.2H341.1zM438.1 1700.3H447V1709.2H438.1zM455.7 1700.3H464.7V1709.2H455.7zM402.8 1038.4H420.5V1047.3H402.8zM411.6 1850.3H420.5V1859.2H411.6zM402.8 1841.5H411.7V1850.4H402.8zM482.2 1762.1H491.1V1771H482.2zM385.2 1047.2H394.1V1056.2H385.2zM429.3 1029.6H438.2V1038.5H429.3zM438.1 1020.8H447V1029.7H438.1zM482.2 1770.9H499.9V1779.8H482.2zM455.7 1003.1H464.7V1012H455.7zM473.4 994.3H491.1V1003.2H473.4zM499.8 1100.2H508.8V1109.1H499.8zM499.8 1109H508.8V1118H499.8zM446.9 1117.9H455.8V1126.8H446.9zM473.4 1135.5H482.3V1144.4H473.4z"/><path fill="#0097ff" d="M235.2 1365H252.9V1373.9H235.2zM244 1356.1H252.9V1365H244zM482.2 1347.3H491.1V1356.2H482.2zM244 1338.5H252.9V1347.4H244zM173.4 1373.8H182.4V1382.7H173.4zM191.1 1373.8H200V1382.7H191.1zM208.7 1373.8H226.5V1382.7H208.7zM244 1329.7H261.8V1338.6H244zM482.2 1329.7H491.1V1338.6H482.2zM244 1320.8H252.9V1329.8H244zM164.6 1382.6H173.5V1391.5H164.6zM208.7 1382.6H235.3V1391.5H208.7zM296.9 1382.6H305.9V1391.5H296.9zM244 1312H252.9V1320.9H244zM217.5 1294.4H226.5V1303.3H217.5zM173.4 1391.4H200V1400.3H173.4zM217.5 1391.4H226.5V1400.3H217.5zM235.2 1417.9H244.1V1426.8H235.2zM499.8 1417.9H508.8V1426.8H499.8zM199.9 1409.1H208.8V1418H199.9zM182.3 1400.2H208.8V1409.2H182.3zM217.5 1400.2H226.5V1409.2H217.5zM217.5 1435.6H235.3V1444.5H217.5zM244 1435.6H252.9V1444.5H244zM270.5 1435.6H279.4V1444.5H270.5zM349.9 1435.6H358.8V1444.5H349.9zM491 1435.6H499.9V1444.5H491zM252.8 1426.7H261.8V1435.7H252.8zM270.5 1426.7H279.4V1435.7H270.5zM349.9 1444.4H358.8V1453.3H349.9zM482.2 1444.4H491.1V1453.3H482.2zM349.9 1453.2H358.8V1462.1H349.9zM738 1453.2H747V1462.1H738zM349.9 1462H358.8V1471H349.9zM676.3 1462H685.2V1471H676.3zM693.9 1462H702.8V1471H693.9zM341.1 1470.9H367.6V1479.8H341.1zM482.2 1470.9H499.9V1479.8H482.2zM349.9 1479.7H376.4V1488.6H349.9zM385.2 1488.5H394.1V1497.4H385.2zM402.8 1488.5H420.5V1497.4H402.8zM464.6 1488.5H482.3V1497.4H464.6zM649.8 1488.5H658.7V1497.4H649.8zM438.1 1497.3H447V1506.2H438.1zM455.7 1497.3H482.3V1506.2H455.7zM446.9 1515H455.8V1523.9H446.9zM499.8 1515H517.6V1523.9H499.8zM605.7 1515H614.6V1523.9H605.7zM446.9 1506.2H455.8V1515.1H446.9zM508.7 1523.8H526.4V1532.7H508.7zM596.9 1523.8H614.6V1532.7H596.9zM376.3 1567.9H385.3V1576.8H376.3zM614.5 1567.9H623.4V1576.8H614.5zM385.2 1559.1H394.1V1568H385.2zM473.4 1550.3H491.1V1559.2H473.4zM491 1541.5H499.9V1550.4H491zM508.7 1541.5H517.6V1550.4H508.7zM596.9 1541.5H605.8V1550.4H596.9zM535.1 1532.6H544.1V1541.5H535.1zM552.8 1532.6H570.5V1541.5H552.8zM588.1 1532.6H605.8V1541.5H588.1zM367.5 1629.7H376.4V1638.6H367.5zM420.4 1629.7H429.4V1638.6H420.4zM429.3 1620.9H447V1629.8H429.3zM411.6 1647.4H420.5V1656.3H411.6zM411.6 1638.5H420.5V1647.5H411.6zM791 1700.3H799.9V1709.2H791zM349.9 1691.5H358.8V1700.4H349.9zM411.6 1665H420.5V1673.9H411.6zM349.9 1753.2H358.8V1762.2H349.9zM464.6 1753.2H482.3V1762.2H464.6zM349.9 1744.4H358.8V1753.3H349.9zM473.4 1744.4H482.3V1753.3H473.4zM349.9 1735.6H358.8V1744.5H349.9zM349.9 1718H358.8V1726.9H349.9zM446.9 1709.1H455.8V1718H446.9zM394 1038.4H402.9V1047.3H394zM411.6 1029.6H420.5V1038.5H411.6zM411.6 1020.8H420.5V1029.7H411.6zM411.6 1832.7H420.5V1841.6H411.6zM420.4 1788.5H438.2V1797.5H420.4zM455.7 1788.5H473.5V1797.5H455.7zM482.2 1788.5H491.1V1797.5H482.2zM455.7 1779.7H473.5V1788.6H455.7zM482.2 1779.7H491.1V1788.6H482.2zM438.1 1770.9H447V1779.8H438.1zM473.4 1770.9H482.3V1779.8H473.4zM429.3 1012H447V1020.9H429.3zM455.7 1082.6H464.7V1091.5H455.7zM464.6 1073.7H473.5V1082.7H464.6zM411.6 1003.1H429.4V1012H411.6zM446.9 1003.1H455.8V1012H446.9zM402.8 994.3H429.4V1003.2H402.8zM446.9 994.3H464.7V1003.2H446.9zM411.6 1815H420.5V1824H411.6zM420.4 1797.4H429.4V1806.3H420.4zM499.8 1797.4H508.8V1806.3H499.8zM455.7 1091.4H464.7V1100.3H455.7zM411.6 985.5H420.5V994.4H411.6zM429.3 985.5H438.2V994.4H429.3zM473.4 985.5H482.3V994.4H473.4zM455.7 1100.2H464.7V1109.1H455.7zM455.7 1117.9H464.7V1126.8H455.7z"/><path fill="#0068ff" d="M252.8 1365H261.8V1373.9H252.8zM296.9 1365H314.7V1373.9H296.9zM411.6 1365H420.5V1373.9H411.6zM482.2 1365H491.1V1373.9H482.2zM261.7 1347.3H270.6V1356.2H261.7zM446.9 1347.3H455.8V1356.2H446.9zM261.7 1338.5H270.6V1347.4H261.7zM464.6 1338.5H482.3V1347.4H464.6zM252.8 1373.8H270.6V1382.7H252.8zM402.8 1373.8H420.5V1382.7H402.8zM261.7 1329.7H270.6V1338.6H261.7zM252.8 1382.6H261.8V1391.5H252.8zM279.3 1382.6H288.2V1391.5H279.3zM252.8 1391.4H288.2V1400.3H252.8zM358.7 1417.9H367.6V1426.8H358.7zM244 1400.2H252.9V1409.2H244zM270.5 1400.2H279.4V1409.2H270.5zM473.4 1435.6H482.3V1444.5H473.4zM376.3 1426.7H385.3V1435.7H376.3zM482.2 1426.7H491.1V1435.7H482.2zM367.5 1444.4H385.3V1453.3H367.5zM464.6 1444.4H473.5V1453.3H464.6zM367.5 1453.2H376.4V1462.1H367.5zM455.7 1453.2H464.7V1462.1H455.7zM402.8 1462H411.7V1471H402.8zM455.7 1462H464.7V1471H455.7zM385.2 1470.9H394.1V1479.8H385.2zM420.4 1470.9H429.4V1479.8H420.4zM438.1 1470.9H464.7V1479.8H438.1zM676.3 1470.9H685.2V1479.8H676.3zM693.9 1470.9H702.8V1479.8H693.9zM420.4 1479.7H429.4V1488.6H420.4zM438.1 1479.7H455.8V1488.6H438.1zM685.1 1479.7H711.7V1488.6H685.1zM429.3 1488.5H438.2V1497.4H429.3zM693.9 1488.5H702.8V1497.4H693.9zM693.9 1497.3H702.8V1506.2H693.9zM685.1 1506.2H694V1515.1H685.1zM464.6 1523.8H473.5V1532.7H464.6zM482.2 1523.8H491.1V1532.7H482.2zM499.8 1523.8H508.8V1532.7H499.8zM614.5 1523.8H623.4V1532.7H614.5zM411.6 1559.1H429.4V1568H411.6zM623.3 1559.1H641.1V1568H623.3zM605.7 1550.3H614.6V1559.2H605.7zM473.4 1541.5H482.3V1550.4H473.4zM605.7 1541.5H623.4V1550.4H605.7zM455.7 1532.6H473.5V1541.5H455.7zM491 1532.6H499.9V1541.5H491zM420.4 1612H429.4V1621H420.4zM376.3 1629.7H402.9V1638.6H376.3zM385.2 1656.2H394.1V1665.1H385.2zM402.8 1656.2H411.7V1665.1H402.8zM385.2 1638.5H394.1V1647.5H385.2zM358.7 1700.3H367.6V1709.2H358.7zM358.7 1753.2H367.6V1762.2H358.7zM429.3 1753.2H438.2V1762.2H429.3zM367.5 1744.4H376.4V1753.3H367.5zM438.1 1744.4H464.7V1753.3H438.1zM438.1 1735.6H473.5V1744.5H438.1zM791 1735.6H808.7V1744.5H791zM817.4 1735.6H826.3V1744.5H817.4zM367.5 1726.8H376.4V1735.7H367.5zM455.7 1726.8H464.7V1735.7H455.7zM799.8 1726.8H808.7V1735.7H799.8zM817.4 1726.8H826.3V1735.7H817.4zM438.1 1718H455.8V1726.9H438.1zM817.4 1718H844V1726.9H817.4zM358.7 1709.1H367.6V1718H358.7zM835.1 1709.1H844V1718H835.1zM376.3 1038.4H385.3V1047.3H376.3zM429.3 1850.3H438.2V1859.2H429.3zM464.6 1850.3H482.3V1859.2H464.6zM508.7 1850.3H517.6V1859.2H508.7zM535.1 1850.3H544.1V1859.2H535.1zM561.6 1850.3H579.3V1859.2H561.6zM596.9 1850.3H605.8V1859.2H596.9zM438.1 1841.5H473.5V1850.4H438.1zM482.2 1841.5H499.9V1850.4H482.2zM517.5 1841.5H535.2V1850.4H517.5zM544 1841.5H561.7V1850.4H544zM420.4 1762.1H438.2V1771H420.4zM394 1029.6H402.9V1038.5H394zM394 1020.8H402.9V1029.7H394zM482.2 1832.7H499.9V1841.6H482.2zM394 1779.7H411.7V1788.6H394zM420.4 1770.9H429.4V1779.8H420.4zM491 1082.6H499.9V1091.5H491zM499.8 1815H508.8V1824H499.8zM473.4 1806.2H482.3V1815.1H473.4zM464.6 1797.4H482.3V1806.3H464.6zM464.6 1091.4H473.5V1100.3H464.6zM491 1117.9H499.9V1126.8H491z"/><path fill="#0058ff" d="M261.7 1365H279.4V1373.9H261.7zM288.1 1365H297V1373.9H288.1zM420.4 1365H429.4V1373.9H420.4zM261.7 1356.1H279.4V1365H261.7zM429.3 1356.1H438.2V1365H429.3zM464.6 1347.3H482.3V1356.2H464.6zM270.5 1373.8H279.4V1382.7H270.5zM420.4 1373.8H429.4V1382.7H420.4zM482.2 1373.8H491.1V1382.7H482.2zM261.7 1382.6H270.6V1391.5H261.7zM411.6 1382.6H420.5V1391.5H411.6zM438.1 1382.6H447V1391.5H438.1zM385.2 1391.4H394.1V1400.3H385.2zM429.3 1391.4H438.2V1400.3H429.3zM376.3 1417.9H394.1V1426.8H376.3zM367.5 1409.1H376.4V1418H367.5zM491 1409.1H499.9V1418H491zM367.5 1435.6H394.1V1444.5H367.5zM367.5 1426.7H376.4V1435.7H367.5zM385.2 1426.7H394.1V1435.7H385.2zM385.2 1444.4H394.1V1453.3H385.2zM376.3 1453.2H394.1V1462.1H376.3zM446.9 1453.2H455.8V1462.1H446.9zM464.6 1453.2H473.5V1462.1H464.6zM385.2 1462H402.9V1471H385.2zM420.4 1462H455.8V1471H420.4zM394 1470.9H402.9V1479.8H394zM411.6 1470.9H420.5V1479.8H411.6zM429.3 1470.9H438.2V1479.8H429.3zM676.3 1479.7H685.2V1488.6H676.3zM685.1 1488.5H694V1497.4H685.1zM658.6 1497.3H667.6V1506.2H658.6zM632.2 1515H641.1V1523.9H632.2zM641 1506.2H649.9V1515.1H641zM623.3 1523.8H632.3V1532.7H623.3zM429.3 1594.4H438.2V1603.3H429.3zM394 1567.9H402.9V1576.8H394zM429.3 1559.1H438.2V1568H429.3zM614.5 1550.3H641.1V1559.2H614.5zM614.5 1532.6H623.4V1541.5H614.5zM402.8 1612H411.7V1621H402.8zM429.3 1603.2H438.2V1612.1H429.3zM394 1656.2H402.9V1665.1H394zM835.1 1700.3H844V1709.2H835.1zM367.5 1682.7H376.4V1691.6H367.5zM376.3 1673.8H385.3V1682.8H376.3zM402.8 1673.8H411.7V1682.8H402.8zM385.2 1665H411.7V1673.9H385.2zM367.5 1753.2H385.3V1762.2H367.5zM420.4 1753.2H429.4V1762.2H420.4zM782.1 1753.2H799.9V1762.2H782.1zM429.3 1744.4H438.2V1753.3H429.3zM791 1744.4H808.7V1753.3H791zM808.6 1735.6H817.5V1744.5H808.6zM826.2 1735.6H844V1744.5H826.2zM376.3 1726.8H385.3V1735.7H376.3zM438.1 1726.8H447V1735.7H438.1zM826.2 1726.8H844V1735.7H826.2zM420.4 1718H438.2V1726.9H420.4zM367.5 1709.1H376.4V1718H367.5zM446.9 1850.3H455.8V1859.2H446.9zM491 1850.3H508.8V1859.2H491zM526.3 1850.3H535.2V1859.2H526.3zM552.8 1850.3H561.7V1859.2H552.8zM579.2 1850.3H597V1859.2H579.2zM499.8 1841.5H517.6V1850.4H499.8zM605.7 1841.5H641.1V1850.4H605.7zM385.2 1029.6H394.1V1038.5H385.2zM464.6 1832.7H482.3V1841.6H464.6zM508.7 1832.7H526.4V1841.6H508.7zM411.6 1770.9H420.5V1779.8H411.6zM464.6 1823.9H473.5V1832.8H464.6zM508.7 1823.9H517.6V1832.8H508.7zM464.6 1806.2H473.5V1815.1H464.6zM491 1806.2H499.9V1815.1H491zM491 1091.4H499.9V1100.3H491zM491 1100.2H499.9V1109.1H491zM491 1109H499.9V1118H491zM473.4 1117.9H482.3V1126.8H473.4z"/><path fill="#0048ff" d="M279.3 1365H288.2V1373.9H279.3zM429.3 1365H438.2V1373.9H429.3zM438.1 1356.1H464.7V1365H438.1zM473.4 1356.1H482.3V1365H473.4zM455.7 1347.3H464.7V1356.2H455.7zM270.5 1338.5H279.4V1347.4H270.5zM279.3 1373.8H288.2V1382.7H279.3zM429.3 1373.8H438.2V1382.7H429.3zM270.5 1382.6H279.4V1391.5H270.5zM394 1382.6H411.7V1391.5H394zM420.4 1382.6H429.4V1391.5H420.4zM411.6 1391.4H429.4V1400.3H411.6zM438.1 1391.4H447V1400.3H438.1zM491 1417.9H499.9V1426.8H491zM376.3 1409.1H394.1V1418H376.3zM376.3 1400.2H385.3V1409.2H376.3zM394 1426.7H402.9V1435.7H394zM394 1444.4H402.9V1453.3H394zM455.7 1444.4H464.7V1453.3H455.7zM394 1453.2H402.9V1462.1H394zM420.4 1453.2H429.4V1462.1H420.4zM438.1 1453.2H447V1462.1H438.1zM411.6 1462H420.5V1471H411.6zM667.5 1488.5H685.2V1497.4H667.5zM685.1 1497.3H694V1506.2H685.1zM641 1515H649.9V1523.9H641zM676.3 1515H685.2V1523.9H676.3zM649.8 1506.2H658.7V1515.1H649.8zM676.3 1506.2H685.2V1515.1H676.3zM632.2 1523.8H641.1V1532.7H632.2zM402.8 1567.9H411.7V1576.8H402.8zM420.4 1567.9H438.2V1576.8H420.4zM623.3 1541.5H641.1V1550.4H623.3zM649.8 1541.5H658.7V1550.4H649.8zM623.3 1532.6H641.1V1541.5H623.3zM411.6 1603.2H429.4V1612.1H411.6zM367.5 1700.3H385.3V1709.2H367.5zM367.5 1691.5H376.4V1700.4H367.5zM402.8 1691.5H411.7V1700.4H402.8zM385.2 1753.2H394.1V1762.2H385.2zM411.6 1753.2H420.5V1762.2H411.6zM799.8 1753.2H835.2V1762.2H799.8zM376.3 1744.4H394.1V1753.3H376.3zM420.4 1744.4H429.4V1753.3H420.4zM808.6 1744.4H826.3V1753.3H808.6zM835.1 1744.4H844V1753.3H835.1zM376.3 1735.6H385.3V1744.5H376.3zM420.4 1726.8H438.2V1735.7H420.4zM376.3 1718H385.3V1726.9H376.3zM605.7 1850.3H623.4V1859.2H605.7zM411.6 1762.1H420.5V1771H411.6zM764.5 1762.1H773.4V1771H764.5zM782.1 1762.1H799.9V1771H782.1zM385.2 1020.8H394.1V1029.7H385.2zM499.8 1832.7H508.8V1841.6H499.8zM394 1770.9H411.7V1779.8H394zM473.4 1082.6H482.3V1091.5H473.4zM473.4 1823.9H508.8V1832.8H473.4zM473.4 1815H499.9V1824H473.4zM482.2 1806.2H491.1V1815.1H482.2z"/><path fill="#0078ff" d="M314.6 1365H323.5V1373.9H314.6zM482.2 1356.1H491.1V1365H482.2zM252.8 1347.3H261.8V1356.2H252.8zM482.2 1338.5H491.1V1347.4H482.2zM244 1373.8H252.9V1382.7H244zM288.1 1373.8H297V1382.7H288.1zM473.4 1329.7H482.3V1338.6H473.4zM235.2 1391.4H252.9V1400.3H235.2zM217.5 1285.5H226.5V1294.5H217.5zM244 1417.9H270.6V1426.8H244zM367.5 1417.9H376.4V1426.8H367.5zM244 1409.1H261.8V1418H244zM358.7 1409.1H367.6V1418H358.7zM252.8 1400.2H270.6V1409.2H252.8zM358.7 1435.6H367.6V1444.5H358.7zM491 1426.7H499.9V1435.7H491zM358.7 1444.4H367.6V1453.3H358.7zM473.4 1444.4H482.3V1453.3H473.4zM358.7 1453.2H367.6V1462.1H358.7zM473.4 1453.2H482.3V1462.1H473.4zM358.7 1462H385.3V1471H358.7zM464.6 1462H482.3V1471H464.6zM376.3 1470.9H385.3V1479.8H376.3zM402.8 1470.9H411.7V1479.8H402.8zM464.6 1470.9H473.5V1479.8H464.6zM685.1 1470.9H694V1479.8H685.1zM702.7 1470.9H720.5V1479.8H702.7zM376.3 1479.7H411.7V1488.6H376.3zM429.3 1479.7H438.2V1488.6H429.3zM455.7 1479.7H464.7V1488.6H455.7zM667.5 1479.7H676.4V1488.6H667.5zM711.6 1479.7H720.5V1488.6H711.6zM420.4 1488.5H429.4V1497.4H420.4zM438.1 1488.5H464.7V1497.4H438.1zM658.6 1488.5H667.6V1497.4H658.6zM702.7 1488.5H711.7V1497.4H702.7zM649.8 1497.3H658.7V1506.2H649.8zM482.2 1515H491.1V1523.9H482.2zM623.3 1515H632.3V1523.9H623.3zM473.4 1523.8H482.3V1532.7H473.4zM385.2 1567.9H394.1V1576.8H385.2zM402.8 1559.1H411.7V1568H402.8zM605.7 1559.1H623.4V1568H605.7zM429.3 1550.3H438.2V1559.2H429.3zM464.6 1541.5H473.5V1550.4H464.6zM482.2 1541.5H491.1V1550.4H482.2zM517.5 1541.5H535.2V1550.4H517.5zM473.4 1532.6H491.1V1541.5H473.4zM508.7 1532.6H517.6V1541.5H508.7zM411.6 1612H420.5V1621H411.6zM429.3 1612H438.2V1621H429.3zM402.8 1620.9H420.5V1629.8H402.8zM376.3 1656.2H385.3V1665.1H376.3zM376.3 1647.4H402.9V1656.3H376.3zM376.3 1638.5H385.3V1647.5H376.3zM394 1638.5H411.7V1647.5H394zM808.6 1700.3H835.2V1709.2H808.6zM358.7 1691.5H367.6V1700.4H358.7zM817.4 1691.5H844V1700.4H817.4zM367.5 1673.8H376.4V1682.8H367.5zM376.3 1665H385.3V1673.9H376.3zM438.1 1753.2H447V1762.2H438.1zM455.7 1753.2H464.7V1762.2H455.7zM464.6 1744.4H473.5V1753.3H464.6zM358.7 1735.6H376.4V1744.5H358.7zM446.9 1726.8H455.8V1735.7H446.9zM464.6 1726.8H473.5V1735.7H464.6zM791 1726.8H799.9V1735.7H791zM808.6 1726.8H817.5V1735.7H808.6zM358.7 1718H376.4V1726.9H358.7zM791 1718H817.5V1726.9H791zM799.8 1709.1H835.2V1718H799.8zM438.1 1850.3H447V1859.2H438.1zM455.7 1850.3H464.7V1859.2H455.7zM482.2 1850.3H491.1V1859.2H482.2zM517.5 1850.3H526.4V1859.2H517.5zM544 1850.3H552.9V1859.2H544zM429.3 1841.5H438.2V1850.4H429.3zM473.4 1841.5H482.3V1850.4H473.4zM535.1 1841.5H544.1V1850.4H535.1zM561.6 1841.5H570.5V1850.4H561.6zM473.4 1788.5H482.3V1797.5H473.4zM394 1012H411.7V1020.9H394zM464.6 1082.6H473.5V1091.5H464.6zM429.3 994.3H438.2V1003.2H429.3zM499.8 1806.2H508.8V1815.1H499.8zM482.2 1797.4H491.1V1806.3H482.2zM420.4 985.5H429.4V994.4H420.4zM438.1 985.5H455.8V994.4H438.1zM464.6 1100.2H473.5V1109.1H464.6zM464.6 1109H473.5V1118H464.6zM429.3 976.7H438.2V985.6H429.3zM446.9 976.7H482.3V985.6H446.9z"/><path fill="#0038ff" d="M438.1 1365H464.7V1373.9H438.1zM464.6 1356.1H473.5V1365H464.6zM270.5 1347.3H279.4V1356.2H270.5zM438.1 1373.8H455.8V1382.7H438.1zM429.3 1382.6H438.2V1391.5H429.3zM482.2 1382.6H491.1V1391.5H482.2zM394 1391.4H411.7V1400.3H394zM446.9 1391.4H455.8V1400.3H446.9zM394 1417.9H402.9V1426.8H394zM482.2 1409.1H491.1V1418H482.2zM385.2 1400.2H394.1V1409.2H385.2zM411.6 1400.2H438.2V1409.2H411.6zM394 1435.6H402.9V1444.5H394zM464.6 1435.6H473.5V1444.5H464.6zM473.4 1426.7H482.3V1435.7H473.4zM446.9 1444.4H455.8V1453.3H446.9zM402.8 1453.2H420.5V1462.1H402.8zM429.3 1453.2H438.2V1462.1H429.3zM667.5 1497.3H685.2V1506.2H667.5zM667.5 1515H676.4V1523.9H667.5zM658.6 1506.2H676.4V1515.1H658.6zM667.5 1523.8H676.4V1532.7H667.5zM429.3 1585.6H438.2V1594.5H429.3zM402.8 1576.8H411.7V1585.7H402.8zM420.4 1576.8H429.4V1585.7H420.4zM411.6 1567.9H420.5V1576.8H411.6zM641 1550.3H649.9V1559.2H641zM641 1541.5H649.9V1550.4H641zM641 1532.6H649.9V1541.5H641zM658.6 1532.6H667.6V1541.5H658.6zM402.8 1603.2H411.7V1612.1H402.8zM376.3 1691.5H385.3V1700.4H376.3zM376.3 1682.7H385.3V1691.6H376.3zM402.8 1682.7H411.7V1691.6H402.8zM402.8 1753.2H411.7V1762.2H402.8zM835.1 1753.2H844V1762.2H835.1zM394 1744.4H420.5V1753.3H394zM826.2 1744.4H835.2V1753.3H826.2zM385.2 1735.6H402.9V1744.5H385.2zM420.4 1735.6H438.2V1744.5H420.4zM385.2 1726.8H411.7V1735.7H385.2zM385.2 1718H411.7V1726.9H385.2zM376.3 1709.1H385.3V1718H376.3zM402.8 1709.1H411.7V1718H402.8zM623.3 1850.3H658.7V1859.2H623.3zM385.2 1762.1H394.1V1771H385.2zM402.8 1762.1H411.7V1771H402.8zM773.3 1762.1H782.2V1771H773.3zM799.8 1762.1H835.2V1771H799.8zM764.5 1770.9H791.1V1779.8H764.5zM799.8 1770.9H808.7V1779.8H799.8zM473.4 1100.2H482.3V1109.1H473.4zM473.4 1109H491.1V1118H473.4z"/><path fill="#0028ff" d="M464.6 1365H482.3V1373.9H464.6zM279.3 1356.1H288.2V1365H279.3zM296.9 1356.1H305.9V1365H296.9zM455.7 1373.8H473.5V1382.7H455.7zM446.9 1382.6H455.8V1391.5H446.9zM482.2 1391.4H491.1V1400.3H482.2zM482.2 1417.9H491.1V1426.8H482.2zM411.6 1409.1H438.2V1418H411.6zM438.1 1400.2H447V1409.2H438.1zM482.2 1400.2H491.1V1409.2H482.2zM402.8 1435.6H411.7V1444.5H402.8zM446.9 1435.6H464.7V1444.5H446.9zM402.8 1426.7H411.7V1435.7H402.8zM464.6 1426.7H473.5V1435.7H464.6zM402.8 1444.4H420.5V1453.3H402.8zM429.3 1444.4H447V1453.3H429.3zM649.8 1515H658.7V1523.9H649.8zM641 1523.8H667.6V1532.7H641zM402.8 1594.4H411.7V1603.3H402.8zM420.4 1594.4H429.4V1603.3H420.4zM402.8 1585.6H411.7V1594.5H402.8zM649.8 1532.6H658.7V1541.5H649.8zM394 1700.3H411.7V1709.2H394zM394 1682.7H402.9V1691.6H394zM385.2 1673.8H402.9V1682.8H385.2zM394 1753.2H402.9V1762.2H394zM402.8 1735.6H420.5V1744.5H402.8zM411.6 1726.8H420.5V1735.7H411.6zM411.6 1718H420.5V1726.9H411.6zM385.2 1709.1H402.9V1718H385.2zM764.5 1850.3H773.4V1859.2H764.5zM755.7 1841.5H764.6V1850.4H755.7zM394 1762.1H402.9V1771H394zM835.1 1762.1H844V1771H835.1zM746.9 1832.7H764.6V1841.6H746.9zM755.7 1788.5H764.6V1797.5H755.7zM782.1 1788.5H799.9V1797.5H782.1zM817.4 1788.5H826.3V1797.5H817.4zM755.7 1779.7H773.4V1788.6H755.7zM782.1 1779.7H791.1V1788.6H782.1zM799.8 1779.7H817.5V1788.6H799.8zM826.2 1779.7H835.2V1788.6H826.2zM791 1770.9H799.9V1779.8H791zM808.6 1770.9H835.2V1779.8H808.6zM764.5 1823.9H773.4V1832.8H764.5zM746.9 1815H764.6V1824H746.9zM755.7 1797.4H773.4V1806.3H755.7zM791 1797.4H799.9V1806.3H791zM473.4 1091.4H491.1V1100.3H473.4zM482.2 1100.2H491.1V1109.1H482.2zM482.2 1117.9H491.1V1126.8H482.2z"/><path fill="#28ffd7" d="M499.8 1365H508.8V1373.9H499.8zM658.6 1356.1H667.6V1365H658.6zM147 1347.3H155.9V1356.2H147zM147 1338.5H155.9V1347.4H147zM658.6 1373.8H676.4V1382.7H658.6zM658.6 1329.7H667.6V1338.6H658.6zM182.3 1320.8H191.2V1329.8H182.3zM667.5 1320.8H676.4V1329.8H667.5zM182.3 1312H191.2V1320.9H182.3zM667.5 1312H676.4V1320.9H667.5zM667.5 1303.2H676.4V1312.1H667.5zM693.9 1303.2H702.8V1312.1H693.9zM182.3 1294.4H191.2V1303.3H182.3zM676.3 1294.4H685.2V1303.3H676.3zM649.8 1391.4H667.6V1400.3H649.8zM182.3 1285.5H191.2V1294.5H182.3zM667.5 1285.5H685.2V1294.5H667.5zM182.3 1276.7H191.2V1285.6H182.3zM658.6 1276.7H676.4V1285.6H658.6zM667.5 1267.9H694V1276.8H667.5zM667.5 1417.9H676.4V1426.8H667.5zM658.6 1409.1H676.4V1418H658.6zM526.3 1435.6H535.2V1444.5H526.3zM614.5 1435.6H632.3V1444.5H614.5zM649.8 1435.6H658.7V1444.5H649.8zM614.5 1426.7H641.1V1435.7H614.5zM588.1 1444.4H597V1453.3H588.1zM614.5 1444.4H623.4V1453.3H614.5zM570.4 1453.2H579.3V1462.1H570.4zM588.1 1453.2H597V1462.1H588.1zM605.7 1453.2H614.6V1462.1H605.7zM544 1462H552.9V1471H544zM561.6 1462H588.2V1471H561.6zM570.4 1470.9H579.3V1479.8H570.4zM288.1 1488.5H297V1497.4H288.1zM270.5 1497.3H279.4V1506.2H270.5zM314.6 1594.4H323.5V1603.3H314.6zM332.2 1585.6H350V1594.5H332.2zM349.9 1576.8H358.8V1585.7H349.9zM349.9 1567.9H358.8V1576.8H349.9zM491 1567.9H499.9V1576.8H491zM588.1 1567.9H597V1576.8H588.1zM341.1 1532.6H350V1541.5H341.1zM323.4 1612H332.3V1621H323.4zM341.1 1629.7H350V1638.6H341.1zM455.7 1656.2H464.7V1665.1H455.7zM341.1 1647.4H350V1656.3H341.1zM341.1 1638.5H350V1647.5H341.1zM446.9 1673.8H455.8V1682.8H446.9zM446.9 1665H455.8V1673.9H446.9zM464.6 1665H473.5V1673.9H464.6zM508.7 1082.6H517.6V1091.5H508.7zM570.4 985.5H579.3V994.4H570.4zM570.4 976.7H579.3V985.6H570.4zM482.2 1144.3H491.1V1153.2H482.2zM685.1 1197.3H694V1206.2H685.1zM702.7 1197.3H711.7V1206.2H702.7zM693.9 1188.5H702.8V1197.4H693.9zM685.1 1259.1H694V1268H685.1zM702.7 1259.1H711.7V1268H702.7zM685.1 1250.2H694V1259.2H685.1zM667.5 1241.4H702.8V1250.3H667.5zM658.6 1232.6H685.2V1241.5H658.6zM693.9 1232.6H711.7V1241.5H693.9zM676.3 1223.8H694V1232.7H676.3zM667.5 1214.9H676.4V1223.8H667.5zM685.1 1214.9H702.8V1223.8H685.1zM676.3 1206.1H685.2V1215H676.3z"/><path fill="#58ffa7" d="M508.7 1365H517.6V1373.9H508.7zM641 1356.1H649.9V1365H641zM632.2 1373.8H649.9V1382.7H632.2zM649.8 1329.7H658.7V1338.6H649.8zM155.8 1320.8H173.5V1329.8H155.8zM649.8 1320.8H658.7V1329.8H649.8zM508.7 1382.6H517.6V1391.5H508.7zM632.2 1382.6H649.9V1391.5H632.2zM649.8 1312H658.7V1320.9H649.8zM173.4 1303.2H182.4V1312.1H173.4zM614.5 1391.4H641.1V1400.3H614.5zM561.6 1417.9H570.5V1426.8H561.6zM508.7 1409.1H517.6V1418H508.7zM579.2 1409.1H588.2V1418H579.2zM632.2 1409.1H641.1V1418H632.2zM508.7 1400.2H517.6V1409.2H508.7zM579.2 1400.2H597V1409.2H579.2zM552.8 1426.7H561.7V1435.7H552.8zM544 1444.4H561.7V1453.3H544zM288.1 1497.3H305.9V1506.2H288.1zM305.8 1594.4H314.7V1603.3H305.8zM482.2 1594.4H491.1V1603.3H482.2zM605.7 1585.6H614.6V1594.5H605.7zM508.7 1567.9H517.6V1576.8H508.7zM561.6 1567.9H579.3V1576.8H561.6zM341.1 1550.3H350V1559.2H341.1zM305.8 1612H314.7V1621H305.8zM517.5 1629.7H526.4V1638.6H517.5zM323.4 1620.9H332.3V1629.8H323.4zM552.8 1038.4H561.7V1047.3H552.8zM561.6 1029.6H570.5V1038.5H561.6zM570.4 1020.8H588.2V1029.7H570.4zM579.2 1012H588.2V1020.9H579.2zM517.5 1073.7H526.4V1082.7H517.5zM579.2 1003.1H588.2V1012H579.2zM579.2 994.3H597V1003.2H579.2zM588.1 985.5H597V994.4H588.1zM588.1 976.7H605.8V985.6H588.1zM491 1135.5H499.9V1144.4H491zM693.9 1153.2H702.8V1162.1H693.9zM482.2 1162H491.1V1170.9H482.2zM685.1 1162H702.8V1170.9H685.1zM685.1 1179.6H694V1188.5H685.1zM676.3 1170.8H702.8V1179.7H676.3zM658.6 1188.5H676.4V1197.4H658.6zM658.6 1250.2H667.6V1259.2H658.6zM649.8 1241.4H658.7V1250.3H649.8zM649.8 1214.9H658.7V1223.8H649.8zM658.6 1206.1H667.6V1215H658.6zM605.7 967.8H614.6V976.8H605.7zM623.3 959H632.3V967.9H623.3z"/><path fill="#a7ff58" d="M517.5 1365H526.4V1373.9H517.5zM623.3 1356.1H632.3V1365H623.3zM623.3 1347.3H632.3V1356.2H623.3zM588.1 1373.8H597V1382.7H588.1zM605.7 1373.8H614.6V1382.7H605.7zM526.3 1382.6H535.2V1391.5H526.3zM552.8 1382.6H579.3V1391.5H552.8zM588.1 1382.6H597V1391.5H588.1zM641 1303.2H649.9V1312.1H641zM526.3 1391.4H552.9V1400.3H526.3zM517.5 1409.1H526.4V1418H517.5zM535.1 1400.2H544.1V1409.2H535.1zM499.8 1594.4H508.8V1603.3H499.8zM499.8 1585.6H508.8V1594.5H499.8zM332.2 1550.3H341.2V1559.2H332.2zM517.5 1612H526.4V1621H517.5zM544 1612H552.9V1621H544zM552.8 1603.2H561.7V1612.1H552.8zM544 1082.6H570.5V1091.5H544zM588.1 1082.6H597V1091.5H588.1zM658.6 1082.6H676.4V1091.5H658.6zM579.2 1073.7H597V1082.7H579.2zM605.7 1073.7H614.6V1082.7H605.7zM649.8 1073.7H667.6V1082.7H649.8zM614.5 1064.9H641.1V1073.8H614.5zM526.3 1091.4H552.9V1100.3H526.3zM535.1 1100.2H544.1V1109.1H535.1zM561.6 1100.2H570.5V1109.1H561.6zM676.3 1100.2H685.2V1109.1H676.3zM526.3 1109H544.1V1118H526.3zM552.8 1109H561.7V1118H552.8zM658.6 1109H667.6V1118H658.6zM649.8 1117.9H658.7V1126.8H649.8zM658.6 1126.7H676.4V1135.6H658.6zM641 1135.5H649.9V1144.4H641zM658.6 1135.5H667.6V1144.4H658.6zM641 1153.2H649.9V1162.1H641zM649.8 1144.3H658.7V1153.2H649.8zM632.2 1179.6H641.1V1188.5H632.2zM491 1170.8H499.9V1179.7H491zM641 1197.3H649.9V1206.2H641zM641 1188.5H649.9V1197.4H641z"/><path fill="#b7ff48" d="M526.3 1365H535.2V1373.9H526.3zM526.3 1373.8H535.2V1382.7H526.3zM544 1373.8H552.9V1382.7H544zM579.2 1373.8H588.2V1382.7H579.2zM632.2 1320.8H641.1V1329.8H632.2zM535.1 1382.6H552.9V1391.5H535.1zM526.3 1409.1H535.2V1418H526.3zM526.3 1400.2H535.2V1409.2H526.3zM305.8 1515H314.7V1523.9H305.8zM588.1 1594.4H597V1603.3H588.1zM579.2 1585.6H597V1594.5H579.2zM552.8 1576.8H561.7V1585.7H552.8zM332.2 1567.9H341.2V1576.8H332.2zM323.4 1532.6H332.3V1541.5H323.4zM508.7 1603.2H526.4V1612.1H508.7zM570.4 1082.6H588.2V1091.5H570.4zM649.8 1082.6H658.7V1091.5H649.8zM614.5 1073.7H649.9V1082.7H614.5zM561.6 1091.4H570.5V1100.3H561.6zM579.2 1091.4H588.2V1100.3H579.2zM667.5 1091.4H676.4V1100.3H667.5zM544 1100.2H561.7V1109.1H544zM570.4 1100.2H579.3V1109.1H570.4zM658.6 1100.2H676.4V1109.1H658.6zM544 1109H552.9V1118H544zM561.6 1109H570.5V1118H561.6zM649.8 1109H658.7V1118H649.8zM667.5 1109H676.4V1118H667.5zM552.8 1117.9H561.7V1126.8H552.8zM641 1117.9H649.9V1126.8H641zM667.5 1117.9H676.4V1126.8H667.5zM632.2 1126.7H649.9V1135.6H632.2zM499.8 1144.3H508.8V1153.2H499.8zM641 1144.3H649.9V1153.2H641zM491 1179.6H499.9V1188.5H491zM632.2 1170.8H641.1V1179.7H632.2zM632.2 1232.6H641.1V1241.5H632.2zM632.2 1223.8H641.1V1232.7H632.2zM632.2 1214.9H641.1V1223.8H632.2z"/><path fill="#c7ff38" d="M535.1 1365H544.1V1373.9H535.1zM596.9 1365H614.6V1373.9H596.9zM526.3 1356.1H535.2V1365H526.3zM614.5 1356.1H623.4V1365H614.5zM517.5 1347.3H526.4V1356.2H517.5zM623.3 1338.5H632.3V1347.4H623.3zM535.1 1373.8H544.1V1382.7H535.1zM552.8 1373.8H579.3V1382.7H552.8zM623.3 1329.7H632.3V1338.6H623.3zM508.7 1312H517.6V1320.9H508.7zM279.3 1515H305.9V1523.9H279.3zM314.6 1523.8H323.5V1532.7H314.6zM552.8 1594.4H588.2V1603.3H552.8zM508.7 1585.6H517.6V1594.5H508.7zM561.6 1585.6H579.3V1594.5H561.6zM314.6 1576.8H323.5V1585.7H314.6zM517.5 1576.8H526.4V1585.7H517.5zM332.2 1559.1H341.2V1568H332.2zM544 1603.2H552.9V1612.1H544zM596.9 1082.6H623.4V1091.5H596.9zM641 1082.6H649.9V1091.5H641zM570.4 1091.4H579.3V1100.3H570.4zM596.9 1091.4H605.8V1100.3H596.9zM658.6 1091.4H667.6V1100.3H658.6zM526.3 1100.2H535.2V1109.1H526.3zM579.2 1100.2H605.8V1109.1H579.2zM649.8 1100.2H658.7V1109.1H649.8zM570.4 1109H588.2V1118H570.4zM641 1109H649.9V1118H641zM526.3 1117.9H552.9V1126.8H526.3zM561.6 1117.9H570.5V1126.8H561.6zM632.2 1117.9H641.1V1126.8H632.2zM517.5 1126.7H535.2V1135.6H517.5zM623.3 1135.5H641.1V1144.4H623.3zM632.2 1153.2H641.1V1162.1H632.2zM632.2 1162H641.1V1170.9H632.2zM632.2 1197.3H641.1V1206.2H632.2zM632.2 1188.5H641.1V1197.4H632.2zM632.2 1259.1H641.1V1268H632.2zM632.2 1206.1H641.1V1215H632.2z"/><path fill="#d7ff28" d="M544 1365H552.9V1373.9H544zM561.6 1365H570.5V1373.9H561.6zM579.2 1365H597V1373.9H579.2zM605.7 1356.1H614.6V1365H605.7zM614.5 1347.3H623.4V1356.2H614.5zM614.5 1338.5H623.4V1347.4H614.5zM623.3 1320.8H632.3V1329.8H623.3zM632.2 1312H641.1V1320.9H632.2zM632.2 1303.2H641.1V1312.1H632.2zM499.8 1294.4H508.8V1303.3H499.8zM632.2 1267.9H641.1V1276.8H632.2zM508.7 1594.4H517.6V1603.3H508.7zM552.8 1585.6H561.7V1594.5H552.8zM535.1 1603.2H544.1V1612.1H535.1zM632.2 1082.6H641.1V1091.5H632.2zM588.1 1091.4H597V1100.3H588.1zM605.7 1091.4H614.6V1100.3H605.7zM641 1091.4H658.7V1100.3H641zM614.5 1100.2H641.1V1109.1H614.5zM588.1 1109H597V1118H588.1zM623.3 1109H641.1V1118H623.3zM588.1 1117.9H597V1126.8H588.1zM605.7 1117.9H632.3V1126.8H605.7zM614.5 1126.7H632.3V1135.6H614.5zM508.7 1135.5H517.6V1144.4H508.7zM605.7 1135.5H614.6V1144.4H605.7zM499.8 1153.2H508.8V1162.1H499.8zM623.3 1144.3H641.1V1153.2H623.3zM623.3 1162H632.3V1170.9H623.3zM623.3 1179.6H632.3V1188.5H623.3zM623.3 1170.8H632.3V1179.7H623.3zM623.3 1188.5H632.3V1197.4H623.3zM623.3 1206.1H632.3V1215H623.3z"/><path fill="#e7ff18" d="M552.8 1365H561.7V1373.9H552.8zM570.4 1365H579.3V1373.9H570.4zM579.2 1356.1H605.8V1365H579.2zM605.7 1347.3H614.6V1356.2H605.7zM517.5 1338.5H526.4V1347.4H517.5zM632.2 1294.4H641.1V1303.3H632.2zM632.2 1276.7H641.1V1285.6H632.2zM517.5 1594.4H526.4V1603.3H517.5zM296.9 1585.6H305.9V1594.5H296.9zM517.5 1585.6H526.4V1594.5H517.5zM544 1576.8H552.9V1585.7H544zM323.4 1541.5H332.3V1550.4H323.4zM526.3 1603.2H535.2V1612.1H526.3zM623.3 1082.6H632.3V1091.5H623.3zM614.5 1091.4H623.4V1100.3H614.5zM632.2 1091.4H641.1V1100.3H632.2zM605.7 1100.2H614.6V1109.1H605.7zM641 1100.2H649.9V1109.1H641zM614.5 1109H623.4V1118H614.5zM596.9 1117.9H605.8V1126.8H596.9zM535.1 1126.7H579.3V1135.6H535.1zM605.7 1126.7H614.6V1135.6H605.7zM517.5 1135.5H526.4V1144.4H517.5zM614.5 1135.5H623.4V1144.4H614.5zM614.5 1153.2H632.3V1162.1H614.5zM605.7 1144.3H614.6V1153.2H605.7zM499.8 1162H508.8V1170.9H499.8zM614.5 1179.6H623.4V1188.5H614.5zM499.8 1170.8H508.8V1179.7H499.8zM614.5 1170.8H623.4V1179.7H614.5zM570.4 1197.3H579.3V1206.2H570.4zM623.3 1197.3H632.3V1206.2H623.3zM570.4 1188.5H579.3V1197.4H570.4zM605.7 1188.5H623.4V1197.4H605.7zM632.2 1250.2H641.1V1259.2H632.2zM632.2 1241.4H641.1V1250.3H632.2zM623.3 1214.9H632.3V1223.8H623.3z"/><path fill="#97ff68" d="M614.5 1365H623.4V1373.9H614.5zM517.5 1356.1H526.4V1365H517.5zM517.5 1373.8H526.4V1382.7H517.5zM596.9 1373.8H605.8V1382.7H596.9zM632.2 1329.7H641.1V1338.6H632.2zM508.7 1320.8H517.6V1329.8H508.7zM579.2 1382.6H588.2V1391.5H579.2zM499.8 1303.2H508.8V1312.1H499.8zM641 1294.4H649.9V1303.3H641zM517.5 1391.4H526.4V1400.3H517.5zM526.3 1417.9H544.1V1426.8H526.3zM535.1 1409.1H544.1V1418H535.1zM517.5 1400.2H526.4V1409.2H517.5zM296.9 1594.4H305.9V1603.3H296.9zM508.7 1576.8H517.6V1585.7H508.7zM561.6 1576.8H570.5V1585.7H561.6zM508.7 1612H517.6V1621H508.7zM526.3 1612H544.1V1621H526.3zM499.8 1603.2H508.8V1612.1H499.8zM641 1038.4H649.9V1047.3H641zM667.5 1038.4H676.4V1047.3H667.5zM588.1 1047.2H632.3V1056.2H588.1zM649.8 1047.2H658.7V1056.2H649.8zM667.5 1047.2H676.4V1056.2H667.5zM623.3 1029.6H632.3V1038.5H623.3zM641 1029.6H649.9V1038.5H641zM658.6 1029.6H667.6V1038.5H658.6zM596.9 1056.1H649.9V1065H596.9zM658.6 1056.1H685.2V1065H658.6zM535.1 1082.6H544.1V1091.5H535.1zM676.3 1082.6H685.2V1091.5H676.3zM552.8 1073.7H561.7V1082.7H552.8zM596.9 1073.7H605.8V1082.7H596.9zM667.5 1073.7H685.2V1082.7H667.5zM579.2 1064.9H597V1073.8H579.2zM605.7 1064.9H614.6V1073.8H605.7zM641 1064.9H649.9V1073.8H641zM667.5 1064.9H685.2V1073.8H667.5zM517.5 1091.4H526.4V1100.3H517.5zM552.8 1091.4H561.7V1100.3H552.8zM676.3 1091.4H694V1100.3H676.3zM685.1 1100.2H694V1109.1H685.1zM517.5 1109H526.4V1118H517.5zM676.3 1109H694V1118H676.3zM517.5 1117.9H526.4V1126.8H517.5zM658.6 1117.9H667.6V1126.8H658.6zM676.3 1117.9H694V1126.8H676.3zM508.7 1126.7H517.6V1135.6H508.7zM649.8 1126.7H658.7V1135.6H649.8zM649.8 1135.5H658.7V1144.4H649.8zM667.5 1135.5H676.4V1144.4H667.5zM649.8 1153.2H658.7V1162.1H649.8zM658.6 1144.3H667.6V1153.2H658.6zM491 1162H499.9V1170.9H491zM641 1162H658.7V1170.9H641zM641 1179.6H649.9V1188.5H641zM641 1170.8H649.9V1179.7H641zM641 1259.1H649.9V1268H641zM641 1214.9H649.9V1223.8H641zM641 1206.1H649.9V1215H641z"/><path fill="#87ff78" d="M623.3 1365H632.3V1373.9H623.3zM508.7 1356.1H517.6V1365H508.7zM508.7 1347.3H517.6V1356.2H508.7zM632.2 1338.5H641.1V1347.4H632.2zM614.5 1373.8H632.3V1382.7H614.5zM517.5 1382.6H526.4V1391.5H517.5zM605.7 1382.6H614.6V1391.5H605.7zM641 1312H649.9V1320.9H641zM164.6 1303.2H173.5V1312.1H164.6zM552.8 1391.4H570.5V1400.3H552.8zM641 1285.5H649.9V1294.5H641zM641 1276.7H649.9V1285.6H641zM517.5 1417.9H526.4V1426.8H517.5zM544 1417.9H552.9V1426.8H544zM544 1409.1H552.9V1418H544zM544 1400.2H552.9V1409.2H544zM535.1 1426.7H544.1V1435.7H535.1zM288.1 1506.2H305.9V1515.1H288.1zM305.8 1585.6H314.7V1594.5H305.8zM596.9 1585.6H605.8V1594.5H596.9zM323.4 1576.8H332.3V1585.7H323.4zM570.4 1576.8H579.3V1585.7H570.4zM526.3 1567.9H535.2V1576.8H526.3zM544 1567.9H552.9V1576.8H544zM341.1 1559.1H350V1568H341.1zM499.8 1612H508.8V1621H499.8zM508.7 1620.9H517.6V1629.8H508.7zM544 1620.9H552.9V1629.8H544zM323.4 1647.4H332.3V1656.3H323.4zM323.4 1638.5H332.3V1647.5H323.4zM588.1 1038.4H605.8V1047.3H588.1zM614.5 1038.4H641.1V1047.3H614.5zM649.8 1038.4H667.6V1047.3H649.8zM579.2 1047.2H588.2V1056.2H579.2zM632.2 1047.2H649.9V1056.2H632.2zM658.6 1047.2H667.6V1056.2H658.6zM605.7 1029.6H623.4V1038.5H605.7zM632.2 1029.6H641.1V1038.5H632.2zM649.8 1029.6H658.7V1038.5H649.8zM667.5 1029.6H676.4V1038.5H667.5zM623.3 1020.8H632.3V1029.7H623.3zM641 1020.8H649.9V1029.7H641zM658.6 1020.8H676.4V1029.7H658.6zM570.4 1056.1H597V1065H570.4zM649.8 1056.1H658.7V1065H649.8zM658.6 1012H676.4V1020.9H658.6zM526.3 1082.6H535.2V1091.5H526.3zM526.3 1073.7H552.9V1082.7H526.3zM561.6 1073.7H579.3V1082.7H561.6zM544 1064.9H561.7V1073.8H544zM570.4 1064.9H579.3V1073.8H570.4zM596.9 1064.9H605.8V1073.8H596.9zM649.8 1064.9H667.6V1073.8H649.8zM649.8 1003.1H667.6V1012H649.8zM641 994.3H667.6V1003.2H641zM632.2 985.5H641.1V994.4H632.2zM649.8 985.5H658.7V994.4H649.8zM517.5 1100.2H526.4V1109.1H517.5zM649.8 976.7H658.7V985.6H649.8zM676.3 1126.7H685.2V1135.6H676.3zM499.8 1135.5H508.8V1144.4H499.8zM685.1 1135.5H694V1144.4H685.1zM491 1153.2H499.9V1162.1H491zM658.6 1153.2H685.2V1162.1H658.6zM667.5 1162H676.4V1170.9H667.5zM649.8 1170.8H658.7V1179.7H649.8zM649.8 1197.3H658.7V1206.2H649.8zM641 1250.2H649.9V1259.2H641zM641 1241.4H649.9V1250.3H641zM641 1232.6H649.9V1241.5H641zM649.8 959H658.7V967.9H649.8z"/><path fill="#78ff87" d="M632.2 1365H641.1V1373.9H632.2zM632.2 1356.1H641.1V1365H632.2zM632.2 1347.3H641.1V1356.2H632.2zM508.7 1338.5H517.6V1347.4H508.7zM641 1338.5H649.9V1347.4H641zM641 1329.7H649.9V1338.6H641zM641 1320.8H649.9V1329.8H641zM596.9 1382.6H605.8V1391.5H596.9zM614.5 1382.6H632.3V1391.5H614.5zM570.4 1391.4H588.2V1400.3H570.4zM596.9 1391.4H605.8V1400.3H596.9zM641 1267.9H649.9V1276.8H641zM552.8 1409.1H561.7V1418H552.8zM552.8 1400.2H570.5V1409.2H552.8zM526.3 1426.7H535.2V1435.7H526.3zM544 1426.7H552.9V1435.7H544zM314.6 1515H323.5V1523.9H314.6zM279.3 1506.2H288.2V1515.1H279.3zM305.8 1506.2H314.7V1515.1H305.8zM323.4 1523.8H332.3V1532.7H323.4zM491 1594.4H499.9V1603.3H491zM491 1585.6H499.9V1594.5H491zM499.8 1576.8H508.8V1585.7H499.8zM579.2 1576.8H597V1585.7H579.2zM341.1 1567.9H350V1576.8H341.1zM535.1 1567.9H544.1V1576.8H535.1zM552.8 1567.9H561.7V1576.8H552.8zM332.2 1541.5H341.2V1550.4H332.2zM332.2 1532.6H341.2V1541.5H332.2zM314.6 1629.7H323.5V1638.6H314.6zM535.1 1620.9H544.1V1629.8H535.1zM323.4 1656.2H332.3V1665.1H323.4zM579.2 1038.4H588.2V1047.3H579.2zM605.7 1038.4H614.6V1047.3H605.7zM561.6 1047.2H579.3V1056.2H561.6zM588.1 1029.6H597V1038.5H588.1zM588.1 1020.8H623.4V1029.7H588.1zM632.2 1020.8H641.1V1029.7H632.2zM649.8 1020.8H658.7V1029.7H649.8zM544 1056.1H552.9V1065H544zM561.6 1056.1H570.5V1065H561.6zM588.1 1012H605.8V1020.9H588.1zM614.5 1012H623.4V1020.9H614.5zM632.2 1012H658.7V1020.9H632.2zM517.5 1082.6H526.4V1091.5H517.5zM535.1 1064.9H544.1V1073.8H535.1zM561.6 1064.9H570.5V1073.8H561.6zM596.9 1003.1H614.6V1012H596.9zM623.3 1003.1H632.3V1012H623.3zM641 1003.1H649.9V1012H641zM596.9 994.3H614.6V1003.2H596.9zM623.3 994.3H632.3V1003.2H623.3zM596.9 985.5H605.8V994.4H596.9zM623.3 985.5H632.3V994.4H623.3zM641 985.5H649.9V994.4H641zM658.6 985.5H667.6V994.4H658.6zM605.7 976.7H649.9V985.6H605.7zM658.6 976.7H667.6V985.6H658.6zM685.1 1126.7H694V1135.6H685.1zM676.3 1135.5H685.2V1144.4H676.3zM491 1144.3H499.9V1153.2H491zM667.5 1144.3H685.2V1153.2H667.5zM693.9 1144.3H702.8V1153.2H693.9zM658.6 1162H667.6V1170.9H658.6zM649.8 1179.6H667.6V1188.5H649.8zM658.6 1170.8H667.6V1179.7H658.6zM649.8 1188.5H658.7V1197.4H649.8zM641 1223.8H649.9V1232.7H641zM649.8 1206.1H658.7V1215H649.8zM641 967.8H667.6V976.8H641zM632.2 959H649.9V967.9H632.2zM632.2 950.2H658.7V959.1H632.2z"/><path fill="#68ff97" d="M641 1365H649.9V1373.9H641zM641 1347.3H649.9V1356.2H641zM508.7 1373.8H517.6V1382.7H508.7zM508.7 1329.7H517.6V1338.6H508.7zM164.6 1312H173.5V1320.9H164.6zM649.8 1303.2H658.7V1312.1H649.8zM164.6 1294.4H173.5V1303.3H164.6zM588.1 1391.4H597V1400.3H588.1zM605.7 1391.4H614.6V1400.3H605.7zM552.8 1417.9H561.7V1426.8H552.8zM570.4 1400.2H579.3V1409.2H570.4zM544 1435.6H570.5V1444.5H544zM517.5 1426.7H526.4V1435.7H517.5zM332.2 1576.8H341.2V1585.7H332.2zM517.5 1567.9H526.4V1576.8H517.5zM323.4 1629.7H332.3V1638.6H323.4zM314.6 1620.9H323.5V1629.8H314.6zM499.8 1620.9H508.8V1629.8H499.8zM517.5 1620.9H535.2V1629.8H517.5zM332.2 1656.2H341.2V1665.1H332.2zM332.2 1647.4H341.2V1656.3H332.2zM332.2 1638.5H341.2V1647.5H332.2zM561.6 1038.4H579.3V1047.3H561.6zM552.8 1047.2H561.7V1056.2H552.8zM570.4 1029.6H588.2V1038.5H570.4zM596.9 1029.6H605.8V1038.5H596.9zM552.8 1056.1H561.7V1065H552.8zM605.7 1012H614.6V1020.9H605.7zM623.3 1012H632.3V1020.9H623.3zM588.1 1003.1H597V1012H588.1zM614.5 1003.1H623.4V1012H614.5zM632.2 1003.1H641.1V1012H632.2zM614.5 994.3H623.4V1003.2H614.5zM632.2 994.3H641.1V1003.2H632.2zM605.7 985.5H623.4V994.4H605.7zM693.9 1135.5H702.8V1144.4H693.9zM685.1 1153.2H694V1162.1H685.1zM685.1 1144.3H694V1153.2H685.1zM676.3 1162H685.2V1170.9H676.3zM667.5 1179.6H685.2V1188.5H667.5zM667.5 1170.8H676.4V1179.7H667.5zM658.6 1197.3H667.6V1206.2H658.6zM649.8 1250.2H658.7V1259.2H649.8zM614.5 967.8H641.1V976.8H614.5zM614.5 959H623.4V967.9H614.5zM623.3 950.2H632.3V959.1H623.3z"/><path fill="#38ffc7" d="M649.8 1365H667.6V1373.9H649.8zM499.8 1356.1H508.8V1365H499.8zM658.6 1347.3H667.6V1356.2H658.6zM658.6 1338.5H667.6V1347.4H658.6zM649.8 1373.8H658.7V1382.7H649.8zM164.6 1329.7H173.5V1338.6H164.6zM173.4 1320.8H182.4V1329.8H173.4zM658.6 1320.8H667.6V1329.8H658.6zM658.6 1382.6H667.6V1391.5H658.6zM658.6 1312H667.6V1320.9H658.6zM182.3 1303.2H191.2V1312.1H182.3zM658.6 1294.4H667.6V1303.3H658.6zM641 1391.4H649.9V1400.3H641zM658.6 1285.5H667.6V1294.5H658.6zM676.3 1276.7H685.2V1285.6H676.3zM658.6 1267.9H667.6V1276.8H658.6zM588.1 1417.9H597V1426.8H588.1zM605.7 1417.9H614.6V1426.8H605.7zM632.2 1417.9H658.7V1426.8H632.2zM596.9 1409.1H605.8V1418H596.9zM614.5 1409.1H623.4V1418H614.5zM649.8 1409.1H658.7V1418H649.8zM641 1400.2H649.9V1409.2H641zM658.6 1400.2H667.6V1409.2H658.6zM579.2 1435.6H597V1444.5H579.2zM605.7 1435.6H614.6V1444.5H605.7zM632.2 1435.6H641.1V1444.5H632.2zM570.4 1426.7H579.3V1435.7H570.4zM605.7 1426.7H614.6V1435.7H605.7zM649.8 1426.7H658.7V1435.7H649.8zM535.1 1444.4H544.1V1453.3H535.1zM596.9 1444.4H614.6V1453.3H596.9zM544 1453.2H552.9V1462.1H544zM561.6 1453.2H570.5V1462.1H561.6zM579.2 1453.2H588.2V1462.1H579.2zM596.9 1453.2H605.8V1462.1H596.9zM552.8 1462H561.7V1471H552.8zM279.3 1497.3H288.2V1506.2H279.3zM323.4 1515H332.3V1523.9H323.4zM579.2 1567.9H588.2V1576.8H579.2zM349.9 1559.1H358.8V1568H349.9zM314.6 1612H323.5V1621H314.6zM332.2 1620.9H341.2V1629.8H332.2zM446.9 1656.2H455.8V1665.1H446.9zM455.7 1665H464.7V1673.9H455.7zM552.8 1003.1H561.7V1012H552.8zM561.6 994.3H570.5V1003.2H561.6zM508.7 1100.2H517.6V1109.1H508.7zM508.7 1109H517.6V1118H508.7zM702.7 1179.6H711.7V1188.5H702.7zM702.7 1188.5H711.7V1197.4H702.7zM667.5 1259.1H676.4V1268H667.5zM676.3 1250.2H685.2V1259.2H676.3zM658.6 1223.8H676.4V1232.7H658.6zM658.6 1214.9H667.6V1223.8H658.6zM676.3 1214.9H685.2V1223.8H676.3zM667.5 1206.1H676.4V1215H667.5zM685.1 1206.1H694V1215H685.1z"/><path fill="#18ffe7" d="M667.5 1365H676.4V1373.9H667.5zM499.8 1347.3H508.8V1356.2H499.8zM155.8 1338.5H173.5V1347.4H155.8zM667.5 1338.5H676.4V1347.4H667.5zM676.3 1373.8H685.2V1382.7H676.3zM173.4 1329.7H191.2V1338.6H173.4zM667.5 1329.7H676.4V1338.6H667.5zM693.9 1320.8H702.8V1329.8H693.9zM667.5 1382.6H676.4V1391.5H667.5zM685.1 1382.6H694V1391.5H685.1zM491 1312H499.9V1320.9H491zM676.3 1312H685.2V1320.9H676.3zM676.3 1303.2H694V1312.1H676.3zM667.5 1294.4H676.4V1303.3H667.5zM667.5 1391.4H676.4V1400.3H667.5zM685.1 1391.4H694V1400.3H685.1zM685.1 1285.5H720.5V1294.5H685.1zM685.1 1276.7H694V1285.6H685.1zM182.3 1267.9H191.2V1276.8H182.3zM693.9 1267.9H702.8V1276.8H693.9zM711.6 1267.9H720.5V1276.8H711.6zM508.7 1417.9H517.6V1426.8H508.7zM658.6 1417.9H667.6V1426.8H658.6zM676.3 1409.1H702.8V1418H676.3zM667.5 1400.2H702.8V1409.2H667.5zM641 1435.6H649.9V1444.5H641zM641 1426.7H649.9V1435.7H641zM658.6 1426.7H667.6V1435.7H658.6zM623.3 1444.4H641.1V1453.3H623.3zM649.8 1444.4H658.7V1453.3H649.8zM535.1 1453.2H544.1V1462.1H535.1zM614.5 1453.2H632.3V1462.1H614.5zM588.1 1462H597V1471H588.1zM552.8 1470.9H570.5V1479.8H552.8zM579.2 1470.9H597V1479.8H579.2zM561.6 1479.7H570.5V1488.6H561.6zM579.2 1479.7H588.2V1488.6H579.2zM296.9 1488.5H305.9V1497.4H296.9zM526.3 1559.1H561.7V1568H526.3zM349.9 1550.3H358.8V1559.2H349.9zM332.2 1612H341.2V1621H332.2zM314.6 1603.2H323.5V1612.1H314.6zM482.2 1629.7H491.1V1638.6H482.2zM341.1 1656.2H350V1665.1H341.1zM438.1 1656.2H447V1665.1H438.1zM464.6 1656.2H473.5V1665.1H464.6zM482.2 1638.5H491.1V1647.5H482.2zM455.7 1673.8H464.7V1682.8H455.7zM438.1 1665H447V1673.9H438.1zM552.8 994.3H561.7V1003.2H552.8zM561.6 985.5H570.5V994.4H561.6zM693.9 1197.3H702.8V1206.2H693.9zM693.9 1259.1H702.8V1268H693.9zM693.9 1250.2H720.5V1259.2H693.9zM702.7 1241.4H711.7V1250.3H702.7zM685.1 1232.6H694V1241.5H685.1zM702.7 1214.9H711.7V1223.8H702.7zM693.9 1206.1H702.8V1215H693.9zM570.4 967.8H579.3V976.8H570.4z"/><path fill="#08fff7" d="M676.3 1365H685.2V1373.9H676.3zM693.9 1365H702.8V1373.9H693.9zM667.5 1356.1H694V1365H667.5zM155.8 1347.3H164.7V1356.2H155.8zM667.5 1347.3H694V1356.2H667.5zM499.8 1338.5H508.8V1347.4H499.8zM676.3 1338.5H694V1347.4H676.3zM702.7 1338.5H711.7V1347.4H702.7zM499.8 1373.8H508.8V1382.7H499.8zM191.1 1329.7H200V1338.6H191.1zM676.3 1329.7H720.5V1338.6H676.3zM191.1 1320.8H200V1329.8H191.1zM499.8 1320.8H508.8V1329.8H499.8zM676.3 1320.8H694V1329.8H676.3zM702.7 1320.8H729.3V1329.8H702.7zM676.3 1382.6H685.2V1391.5H676.3zM191.1 1312H200V1320.9H191.1zM685.1 1312H720.5V1320.9H685.1zM702.7 1303.2H711.7V1312.1H702.7zM720.4 1303.2H729.3V1312.1H720.4zM191.1 1294.4H200V1303.3H191.1zM685.1 1294.4H720.5V1303.3H685.1zM676.3 1391.4H685.2V1400.3H676.3zM693.9 1391.4H711.7V1400.3H693.9zM191.1 1285.5H200V1294.5H191.1zM720.4 1285.5H729.3V1294.5H720.4zM191.1 1276.7H200V1285.6H191.1zM693.9 1276.7H720.5V1285.6H693.9zM702.7 1267.9H711.7V1276.8H702.7zM720.4 1267.9H729.3V1276.8H720.4zM676.3 1417.9H702.8V1426.8H676.3zM702.7 1409.1H711.7V1418H702.7zM667.5 1435.6H676.4V1444.5H667.5zM508.7 1426.7H517.6V1435.7H508.7zM667.5 1426.7H685.2V1435.7H667.5zM693.9 1426.7H711.7V1435.7H693.9zM526.3 1444.4H535.2V1453.3H526.3zM641 1444.4H649.9V1453.3H641zM596.9 1462H632.3V1471H596.9zM535.1 1470.9H552.9V1479.8H535.1zM596.9 1470.9H605.8V1479.8H596.9zM296.9 1479.7H305.9V1488.6H296.9zM535.1 1479.7H544.1V1488.6H535.1zM552.8 1479.7H561.7V1488.6H552.8zM570.4 1479.7H579.3V1488.6H570.4zM588.1 1479.7H605.8V1488.6H588.1zM305.8 1488.5H314.7V1497.4H305.8zM544 1488.5H552.9V1497.4H544zM579.2 1488.5H588.2V1497.4H579.2zM314.6 1497.3H323.5V1506.2H314.6zM544 1497.3H561.7V1506.2H544zM570.4 1497.3H579.3V1506.2H570.4zM323.4 1506.2H332.3V1515.1H323.4zM535.1 1506.2H544.1V1515.1H535.1zM323.4 1594.4H350V1603.3H323.4zM605.7 1576.8H614.6V1585.7H605.7zM358.7 1567.9H367.6V1576.8H358.7zM482.2 1567.9H491.1V1576.8H482.2zM499.8 1559.1H526.4V1568H499.8zM341.1 1612H350V1621H341.1zM323.4 1603.2H341.2V1612.1H323.4zM341.1 1620.9H350V1629.8H341.1zM446.9 1647.4H482.3V1656.3H446.9zM473.4 1638.5H482.3V1647.5H473.4zM341.1 1665H350V1673.9H341.1zM544 994.3H552.9V1003.2H544zM552.8 985.5H561.7V994.4H552.8zM473.4 1153.2H482.3V1162.1H473.4zM711.6 1259.1H720.5V1268H711.6zM711.6 1241.4H720.5V1250.3H711.6zM711.6 1232.6H720.5V1241.5H711.6zM693.9 1223.8H720.5V1232.7H693.9zM702.7 1206.1H711.7V1215H702.7z"/><path fill="#00f7ff" d="M685.1 1365H694V1373.9H685.1zM147 1356.1H155.9V1365H147zM173.4 1338.5H200V1347.4H173.4zM693.9 1338.5H702.8V1347.4H693.9zM685.1 1373.8H711.7V1382.7H685.1zM199.9 1329.7H208.8V1338.6H199.9zM693.9 1382.6H711.7V1391.5H693.9zM720.4 1312H738.1V1320.9H720.4zM191.1 1303.2H200V1312.1H191.1zM711.6 1303.2H720.5V1312.1H711.6zM729.2 1303.2H738.1V1312.1H729.2zM720.4 1294.4H738.1V1303.3H720.4zM499.8 1391.4H508.8V1400.3H499.8zM711.6 1391.4H720.5V1400.3H711.6zM720.4 1276.7H729.3V1285.6H720.4zM702.7 1417.9H720.5V1426.8H702.7zM314.6 1409.1H323.5V1418H314.6zM711.6 1409.1H720.5V1418H711.6zM702.7 1400.2H720.5V1409.2H702.7zM517.5 1435.6H526.4V1444.5H517.5zM658.6 1435.6H667.6V1444.5H658.6zM676.3 1435.6H702.8V1444.5H676.3zM685.1 1426.7H694V1435.7H685.1zM711.6 1426.7H720.5V1435.7H711.6zM658.6 1444.4H667.6V1453.3H658.6zM632.2 1453.2H658.7V1462.1H632.2zM535.1 1462H544.1V1471H535.1zM632.2 1462H641.1V1471H632.2zM605.7 1470.9H614.6V1479.8H605.7zM288.1 1479.7H297V1488.6H288.1zM305.8 1479.7H314.7V1488.6H305.8zM526.3 1479.7H535.2V1488.6H526.3zM544 1479.7H552.9V1488.6H544zM605.7 1479.7H614.6V1488.6H605.7zM526.3 1488.5H544.1V1497.4H526.3zM552.8 1488.5H579.3V1497.4H552.8zM588.1 1488.5H605.8V1497.4H588.1zM517.5 1497.3H544.1V1506.2H517.5zM579.2 1497.3H597V1506.2H579.2zM535.1 1515H544.1V1523.9H535.1zM358.7 1506.2H367.6V1515.1H358.7zM385.2 1523.8H394.1V1532.7H385.2zM349.9 1585.6H358.8V1594.5H349.9zM473.4 1567.9H482.3V1576.8H473.4zM596.9 1567.9H605.8V1576.8H596.9zM561.6 1559.1H588.2V1568H561.6zM358.7 1550.3H367.6V1559.2H358.7zM349.9 1541.5H358.8V1550.4H349.9zM341.1 1603.2H350V1612.1H341.1zM473.4 1629.7H482.3V1638.6H473.4zM349.9 1656.2H358.8V1665.1H349.9zM349.9 1647.4H358.8V1656.3H349.9zM446.9 1638.5H455.8V1647.5H446.9zM446.9 1682.7H464.7V1691.6H446.9zM341.1 1673.8H350V1682.8H341.1zM438.1 1673.8H447V1682.8H438.1zM446.9 1038.4H455.8V1047.3H446.9zM429.3 1047.2H455.8V1056.2H429.3zM455.7 1020.8H464.7V1029.7H455.7zM429.3 1056.1H438.2V1065H429.3zM446.9 1056.1H455.8V1065H446.9zM429.3 1082.6H438.2V1091.5H429.3zM446.9 1064.9H455.8V1073.8H446.9zM544 985.5H552.9V994.4H544zM561.6 976.7H570.5V985.6H561.6zM473.4 1144.3H482.3V1153.2H473.4zM720.4 1259.1H729.3V1268H720.4zM711.6 1214.9H720.5V1223.8H711.6z"/><path fill="#0087ff" d="M252.8 1356.1H261.8V1365H252.8zM252.8 1338.5H261.8V1347.4H252.8zM199.9 1373.8H208.8V1382.7H199.9zM235.2 1373.8H244.1V1382.7H235.2zM296.9 1373.8H305.9V1382.7H296.9zM252.8 1320.8H261.8V1329.8H252.8zM173.4 1382.6H208.8V1391.5H173.4zM235.2 1382.6H252.9V1391.5H235.2zM491 1382.6H499.9V1391.5H491zM226.4 1294.4H235.3V1303.3H226.4zM199.9 1391.4H217.6V1400.3H199.9zM226.4 1391.4H235.3V1400.3H226.4zM491 1391.4H499.9V1400.3H491zM226.4 1417.9H235.3V1426.8H226.4zM270.5 1417.9H279.4V1426.8H270.5zM349.9 1417.9H358.8V1426.8H349.9zM226.4 1409.1H244.1V1418H226.4zM261.7 1409.1H288.2V1418H261.7zM208.7 1400.2H217.6V1409.2H208.7zM226.4 1400.2H244.1V1409.2H226.4zM279.3 1400.2H288.2V1409.2H279.3zM491 1400.2H499.9V1409.2H491zM235.2 1435.6H244.1V1444.5H235.2zM482.2 1435.6H491.1V1444.5H482.2zM226.4 1426.7H252.9V1435.7H226.4zM349.9 1426.7H367.6V1435.7H349.9zM482.2 1453.2H491.1V1462.1H482.2zM482.2 1462H499.9V1471H482.2zM685.1 1462H694V1471H685.1zM702.7 1462H720.5V1471H702.7zM367.5 1470.9H376.4V1479.8H367.5zM473.4 1470.9H482.3V1479.8H473.4zM667.5 1470.9H676.4V1479.8H667.5zM720.4 1470.9H729.3V1479.8H720.4zM411.6 1479.7H420.5V1488.6H411.6zM464.6 1479.7H482.3V1488.6H464.6zM658.6 1479.7H667.6V1488.6H658.6zM376.3 1488.5H385.3V1497.4H376.3zM394 1488.5H402.9V1497.4H394zM429.3 1497.3H438.2V1506.2H429.3zM446.9 1497.3H455.8V1506.2H446.9zM455.7 1515H482.3V1523.9H455.7zM491 1515H499.9V1523.9H491zM614.5 1515H623.4V1523.9H614.5zM455.7 1506.2H482.3V1515.1H455.7zM632.2 1506.2H641.1V1515.1H632.2zM455.7 1523.8H464.7V1532.7H455.7zM491 1523.8H499.9V1532.7H491zM623.3 1567.9H632.3V1576.8H623.3zM394 1559.1H402.9V1568H394zM420.4 1550.3H429.4V1559.2H420.4zM464.6 1550.3H473.5V1559.2H464.6zM596.9 1550.3H605.8V1559.2H596.9zM499.8 1541.5H508.8V1550.4H499.8zM535.1 1541.5H552.9V1550.4H535.1zM499.8 1532.6H508.8V1541.5H499.8zM517.5 1532.6H535.2V1541.5H517.5zM544 1532.6H552.9V1541.5H544zM605.7 1532.6H614.6V1541.5H605.7zM402.8 1629.7H420.5V1638.6H402.8zM420.4 1620.9H429.4V1629.8H420.4zM367.5 1656.2H376.4V1665.1H367.5zM411.6 1656.2H420.5V1665.1H411.6zM367.5 1647.4H376.4V1656.3H367.5zM402.8 1647.4H411.7V1656.3H402.8zM367.5 1638.5H376.4V1647.5H367.5zM349.9 1700.3H358.8V1709.2H349.9zM799.8 1700.3H808.7V1709.2H799.8zM799.8 1691.5H817.5V1700.4H799.8zM358.7 1682.7H367.6V1691.6H358.7zM367.5 1665H376.4V1673.9H367.5zM446.9 1753.2H455.8V1762.2H446.9zM358.7 1744.4H367.6V1753.3H358.7zM473.4 1735.6H482.3V1744.5H473.4zM358.7 1726.8H367.6V1735.7H358.7zM455.7 1718H473.5V1726.9H455.7zM349.9 1709.1H358.8V1718H349.9zM438.1 1709.1H447V1718H438.1zM455.7 1709.1H464.7V1718H455.7zM791 1709.1H799.9V1718H791zM385.2 1038.4H394.1V1047.3H385.2zM420.4 1850.3H429.4V1859.2H420.4zM420.4 1841.5H429.4V1850.4H420.4zM438.1 1762.1H473.5V1771H438.1zM402.8 1029.6H411.7V1038.5H402.8zM402.8 1020.8H411.7V1029.7H402.8zM420.4 1020.8H429.4V1029.7H420.4zM420.4 1832.7H429.4V1841.6H420.4zM394 1788.5H420.5V1797.5H394zM411.6 1779.7H447V1788.6H411.6zM473.4 1779.7H482.3V1788.6H473.4zM429.3 1770.9H438.2V1779.8H429.3zM455.7 1770.9H464.7V1779.8H455.7zM411.6 1012H429.4V1020.9H411.6zM402.8 1003.1H411.7V1012H402.8zM429.3 1003.1H447V1012H429.3zM438.1 994.3H447V1003.2H438.1zM411.6 1797.4H420.5V1806.3H411.6zM491 1797.4H499.9V1806.3H491zM455.7 985.5H473.5V994.4H455.7zM438.1 976.7H447V985.6H438.1zM482.2 976.7H491.1V985.6H482.2zM464.6 1117.9H473.5V1126.8H464.6zM464.6 1126.7H491.1V1135.6H464.6z"/><path fill="#0018ff" d="M288.1 1356.1H297V1365H288.1zM279.3 1347.3H288.2V1356.2H279.3zM473.4 1373.8H482.3V1382.7H473.4zM455.7 1382.6H464.7V1391.5H455.7zM402.8 1417.9H420.5V1426.8H402.8zM438.1 1417.9H455.8V1426.8H438.1zM473.4 1417.9H482.3V1426.8H473.4zM438.1 1409.1H447V1418H438.1zM446.9 1400.2H455.8V1409.2H446.9zM473.4 1400.2H482.3V1409.2H473.4zM411.6 1435.6H420.5V1444.5H411.6zM438.1 1435.6H447V1444.5H438.1zM455.7 1426.7H464.7V1435.7H455.7zM420.4 1444.4H429.4V1453.3H420.4zM658.6 1515H667.6V1523.9H658.6zM411.6 1594.4H420.5V1603.3H411.6zM411.6 1585.6H429.4V1594.5H411.6zM411.6 1576.8H420.5V1585.7H411.6zM385.2 1700.3H394.1V1709.2H385.2zM394 1691.5H402.9V1700.4H394zM385.2 1682.7H394.1V1691.6H385.2zM658.6 1850.3H667.6V1859.2H658.6zM746.9 1850.3H764.6V1859.2H746.9zM773.3 1850.3H791.1V1859.2H773.3zM773.3 1841.5H791.1V1850.4H773.3zM764.5 1832.7H799.9V1841.6H764.5zM764.5 1788.5H782.2V1797.5H764.5zM799.8 1788.5H817.5V1797.5H799.8zM826.2 1788.5H835.2V1797.5H826.2zM773.3 1779.7H782.2V1788.6H773.3zM791 1779.7H799.9V1788.6H791zM817.4 1779.7H826.3V1788.6H817.4zM482.2 1082.6H491.1V1091.5H482.2zM773.3 1823.9H791.1V1832.8H773.3zM764.5 1815H817.5V1824H764.5zM755.7 1806.2H782.2V1815.1H755.7zM791 1806.2H808.7V1815.1H791zM773.3 1797.4H782.2V1806.3H773.3zM799.8 1797.4H826.3V1806.3H799.8z"/><path fill="#f7ff08" d="M535.1 1356.1H579.3V1365H535.1zM526.3 1347.3H535.2V1356.2H526.3zM517.5 1329.7H526.4V1338.6H517.5zM614.5 1329.7H623.4V1338.6H614.5zM508.7 1303.2H517.6V1312.1H508.7zM632.2 1285.5H641.1V1294.5H632.2zM305.8 1523.8H314.7V1532.7H305.8zM544 1594.4H552.9V1603.3H544zM305.8 1576.8H314.7V1585.7H305.8zM526.3 1576.8H544.1V1585.7H526.3zM323.4 1567.9H332.3V1576.8H323.4zM623.3 1091.4H632.3V1100.3H623.3zM596.9 1153.2H614.6V1162.1H596.9zM508.7 1144.3H526.4V1153.2H508.7zM579.2 1144.3H588.2V1153.2H579.2zM596.9 1144.3H605.8V1153.2H596.9zM614.5 1144.3H623.4V1153.2H614.5zM605.7 1162H623.4V1170.9H605.7zM499.8 1179.6H508.8V1188.5H499.8zM552.8 1179.6H570.5V1188.5H552.8zM579.2 1179.6H588.2V1188.5H579.2zM570.4 1170.8H579.3V1179.7H570.4zM552.8 1197.3H561.7V1206.2H552.8zM605.7 1197.3H623.4V1206.2H605.7zM561.6 1188.5H570.5V1197.4H561.6zM623.3 1223.8H632.3V1232.7H623.3zM579.2 1214.9H588.2V1223.8H579.2zM614.5 1214.9H623.4V1223.8H614.5zM561.6 1206.1H570.5V1215H561.6zM605.7 1206.1H614.6V1215H605.7z"/><path fill="#48ffb7" d="M649.8 1356.1H658.7V1365H649.8zM649.8 1347.3H658.7V1356.2H649.8zM649.8 1338.5H658.7V1347.4H649.8zM155.8 1329.7H164.7V1338.6H155.8zM649.8 1382.6H658.7V1391.5H649.8zM173.4 1312H182.4V1320.9H173.4zM499.8 1312H508.8V1320.9H499.8zM658.6 1303.2H667.6V1312.1H658.6zM173.4 1294.4H182.4V1303.3H173.4zM649.8 1294.4H658.7V1303.3H649.8zM508.7 1391.4H517.6V1400.3H508.7zM173.4 1285.5H182.4V1294.5H173.4zM649.8 1285.5H658.7V1294.5H649.8zM173.4 1276.7H182.4V1285.6H173.4zM649.8 1276.7H658.7V1285.6H649.8zM173.4 1267.9H182.4V1276.8H173.4zM649.8 1267.9H658.7V1276.8H649.8zM570.4 1417.9H588.2V1426.8H570.4zM596.9 1417.9H605.8V1426.8H596.9zM614.5 1417.9H632.3V1426.8H614.5zM561.6 1409.1H579.3V1418H561.6zM588.1 1409.1H597V1418H588.1zM605.7 1409.1H614.6V1418H605.7zM623.3 1409.1H632.3V1418H623.3zM641 1409.1H649.9V1418H641zM596.9 1400.2H641.1V1409.2H596.9zM649.8 1400.2H658.7V1409.2H649.8zM535.1 1435.6H544.1V1444.5H535.1zM570.4 1435.6H579.3V1444.5H570.4zM596.9 1435.6H605.8V1444.5H596.9zM561.6 1426.7H570.5V1435.7H561.6zM579.2 1426.7H605.8V1435.7H579.2zM561.6 1444.4H588.2V1453.3H561.6zM552.8 1453.2H561.7V1462.1H552.8zM305.8 1497.3H314.7V1506.2H305.8zM314.6 1506.2H323.5V1515.1H314.6zM332.2 1523.8H341.2V1532.7H332.2zM314.6 1585.6H332.3V1594.5H314.6zM482.2 1585.6H491.1V1594.5H482.2zM341.1 1576.8H350V1585.7H341.1zM482.2 1576.8H499.9V1585.7H482.2zM596.9 1576.8H605.8V1585.7H596.9zM499.8 1567.9H508.8V1576.8H499.8zM341.1 1541.5H350V1550.4H341.1zM305.8 1603.2H314.7V1612.1H305.8zM332.2 1629.7H341.2V1638.6H332.2zM561.6 1020.8H570.5V1029.7H561.6zM561.6 1012H579.3V1020.9H561.6zM561.6 1003.1H579.3V1012H561.6zM570.4 994.3H579.3V1003.2H570.4zM508.7 1091.4H517.6V1100.3H508.7zM579.2 985.5H588.2V994.4H579.2zM579.2 976.7H588.2V985.6H579.2zM508.7 1117.9H517.6V1126.8H508.7zM499.8 1126.7H508.8V1135.6H499.8zM482.2 1153.2H491.1V1162.1H482.2zM693.9 1179.6H702.8V1188.5H693.9zM702.7 1170.8H711.7V1179.7H702.7zM667.5 1197.3H685.2V1206.2H667.5zM676.3 1188.5H694V1197.4H676.3zM649.8 1259.1H667.6V1268H649.8zM676.3 1259.1H685.2V1268H676.3zM667.5 1250.2H676.4V1259.2H667.5zM658.6 1241.4H667.6V1250.3H658.6zM649.8 1232.6H658.7V1241.5H649.8zM649.8 1223.8H658.7V1232.7H649.8zM596.9 967.8H605.8V976.8H596.9z"/><path fill="#fff700" d="M535.1 1347.3H544.1V1356.2H535.1zM561.6 1347.3H570.5V1356.2H561.6zM588.1 1347.3H597V1356.2H588.1zM605.7 1338.5H614.6V1347.4H605.7zM614.5 1320.8H623.4V1329.8H614.5zM596.9 1267.9H605.8V1276.8H596.9zM296.9 1523.8H305.9V1532.7H296.9zM526.3 1594.4H535.2V1603.3H526.3zM544 1585.6H552.9V1594.5H544zM314.6 1567.9H323.5V1576.8H314.6zM323.4 1550.3H332.3V1559.2H323.4zM314.6 1532.6H323.5V1541.5H314.6zM526.3 1135.5H535.2V1144.4H526.3zM552.8 1135.5H561.7V1144.4H552.8zM570.4 1135.5H579.3V1144.4H570.4zM508.7 1153.2H535.2V1162.1H508.7zM588.1 1153.2H597V1162.1H588.1zM526.3 1144.3H535.2V1153.2H526.3zM588.1 1144.3H597V1153.2H588.1zM570.4 1162H605.8V1170.9H570.4zM544 1179.6H552.9V1188.5H544zM570.4 1179.6H579.3V1188.5H570.4zM588.1 1179.6H614.6V1188.5H588.1zM552.8 1170.8H570.5V1179.7H552.8zM579.2 1170.8H614.6V1179.7H579.2zM561.6 1197.3H570.5V1206.2H561.6zM579.2 1197.3H605.8V1206.2H579.2zM552.8 1188.5H561.7V1197.4H552.8zM579.2 1188.5H605.8V1197.4H579.2zM623.3 1232.6H632.3V1241.5H623.3zM570.4 1223.8H579.3V1232.7H570.4zM596.9 1223.8H605.8V1232.7H596.9zM570.4 1214.9H579.3V1223.8H570.4zM588.1 1214.9H614.6V1223.8H588.1zM570.4 1206.1H605.8V1215H570.4zM614.5 1206.1H623.4V1215H614.5z"/><path fill="#ffe700" d="M544 1347.3H561.7V1356.2H544zM579.2 1347.3H588.2V1356.2H579.2zM596.9 1347.3H605.8V1356.2H596.9zM623.3 1312H632.3V1320.9H623.3zM288.1 1523.8H297V1532.7H288.1zM535.1 1594.4H544.1V1603.3H535.1zM323.4 1559.1H332.3V1568H323.4zM535.1 1135.5H552.9V1144.4H535.1zM561.6 1135.5H570.5V1144.4H561.6zM570.4 1153.2H588.2V1162.1H570.4zM508.7 1162H517.6V1170.9H508.7zM526.3 1162H535.2V1170.9H526.3zM544 1162H561.7V1170.9H544zM535.1 1179.6H544.1V1188.5H535.1zM508.7 1170.8H517.6V1179.7H508.7zM526.3 1170.8H552.9V1179.7H526.3zM544 1188.5H552.9V1197.4H544zM623.3 1259.1H632.3V1268H623.3zM579.2 1223.8H597V1232.7H579.2zM561.6 1214.9H570.5V1223.8H561.6zM552.8 1206.1H561.7V1215H552.8z"/><path fill="#ffd700" d="M570.4 1347.3H579.3V1356.2H570.4zM526.3 1338.5H535.2V1347.4H526.3zM552.8 1338.5H561.7V1347.4H552.8zM605.7 1329.7H614.6V1338.6H605.7zM508.7 1294.4H517.6V1303.3H508.7zM499.8 1285.5H508.8V1294.5H499.8zM623.3 1267.9H632.3V1276.8H623.3zM526.3 1585.6H535.2V1594.5H526.3zM296.9 1576.8H305.9V1585.7H296.9zM535.1 1153.2H552.9V1162.1H535.1zM535.1 1144.3H552.9V1153.2H535.1zM517.5 1162H526.4V1170.9H517.5zM535.1 1162H544.1V1170.9H535.1zM517.5 1170.8H526.4V1179.7H517.5zM544 1197.3H552.9V1206.2H544zM499.8 1188.5H508.8V1197.4H499.8zM596.9 1259.1H605.8V1268H596.9zM570.4 1232.6H597V1241.5H570.4zM561.6 1223.8H570.5V1232.7H561.6zM605.7 1223.8H623.4V1232.7H605.7z"/><path fill="#ffb700" d="M535.1 1338.5H544.1V1347.4H535.1zM561.6 1338.5H588.2V1347.4H561.6zM517.5 1312H526.4V1320.9H517.5zM614.5 1312H623.4V1320.9H614.5zM623.3 1285.5H632.3V1294.5H623.3zM499.8 1276.7H508.8V1285.6H499.8zM623.3 1276.7H632.3V1285.6H623.3zM588.1 1267.9H597V1276.8H588.1zM535.1 1585.6H544.1V1594.5H535.1zM305.8 1567.9H314.7V1576.8H305.8zM314.6 1550.3H323.5V1559.2H314.6zM314.6 1541.5H323.5V1550.4H314.6zM305.8 1532.6H314.7V1541.5H305.8zM517.5 1179.6H526.4V1188.5H517.5zM614.5 1259.1H623.4V1268H614.5zM605.7 1250.2H614.6V1259.2H605.7zM605.7 1232.6H614.6V1241.5H605.7zM552.8 1223.8H561.7V1232.7H552.8z"/><path fill="#ffc700" d="M544 1338.5H552.9V1347.4H544zM596.9 1338.5H605.8V1347.4H596.9zM517.5 1320.8H526.4V1329.8H517.5zM605.7 1320.8H614.6V1329.8H605.7zM623.3 1303.2H632.3V1312.1H623.3zM605.7 1267.9H614.6V1276.8H605.7zM552.8 1144.3H561.7V1153.2H552.8zM508.7 1179.6H517.6V1188.5H508.7zM526.3 1179.6H535.2V1188.5H526.3zM526.3 1188.5H544.1V1197.4H526.3zM605.7 1259.1H614.6V1268H605.7zM623.3 1250.2H632.3V1259.2H623.3zM623.3 1241.4H632.3V1250.3H623.3zM596.9 1232.6H605.8V1241.5H596.9zM614.5 1232.6H623.4V1241.5H614.5zM552.8 1214.9H561.7V1223.8H552.8zM544 1206.1H552.9V1215H544z"/><path fill="#ffa700" d="M588.1 1338.5H597V1347.4H588.1zM596.9 1329.7H605.8V1338.6H596.9zM623.3 1294.4H632.3V1303.3H623.3zM596.9 1276.7H605.8V1285.6H596.9zM296.9 1567.9H305.9V1576.8H296.9zM314.6 1559.1H323.5V1568H314.6zM296.9 1532.6H305.9V1541.5H296.9zM535.1 1197.3H544.1V1206.2H535.1zM508.7 1188.5H526.4V1197.4H508.7zM588.1 1259.1H597V1268H588.1zM614.5 1250.2H623.4V1259.2H614.5zM570.4 1241.4H579.3V1250.3H570.4zM588.1 1241.4H597V1250.3H588.1zM561.6 1232.6H570.5V1241.5H561.6zM544 1214.9H552.9V1223.8H544z"/><path fill="#ff8700" d="M526.3 1329.7H535.2V1338.6H526.3zM579.2 1329.7H597V1338.6H579.2zM614.5 1303.2H623.4V1312.1H614.5zM508.7 1285.5H517.6V1294.5H508.7zM588.1 1276.7H597V1285.6H588.1zM296.9 1541.5H314.7V1550.4H296.9zM517.5 1197.3H526.4V1206.2H517.5zM579.2 1250.2H588.2V1259.2H579.2zM535.1 1206.1H544.1V1215H535.1z"/><path fill="#ff7800" d="M535.1 1329.7H579.3V1338.6H535.1zM588.1 1320.8H605.8V1329.8H588.1zM517.5 1294.4H526.4V1303.3H517.5zM614.5 1294.4H623.4V1303.3H614.5zM508.7 1276.7H517.6V1285.6H508.7zM614.5 1276.7H623.4V1285.6H614.5zM508.7 1267.9H517.6V1276.8H508.7zM579.2 1267.9H588.2V1276.8H579.2zM296.9 1559.1H305.9V1568H296.9zM305.8 1550.3H314.7V1559.2H305.8zM508.7 1197.3H517.6V1206.2H508.7zM508.7 1259.1H517.6V1268H508.7zM579.2 1259.1H588.2V1268H579.2zM508.7 1250.2H517.6V1259.2H508.7zM544 1232.6H552.9V1241.5H544zM544 1223.8H552.9V1232.7H544zM535.1 1214.9H544.1V1223.8H535.1zM526.3 1206.1H535.2V1215H526.3z"/><path fill="#ff6800" d="M526.3 1320.8H535.2V1329.8H526.3zM579.2 1320.8H588.2V1329.8H579.2zM605.7 1303.2H614.6V1312.1H605.7zM517.5 1285.5H526.4V1294.5H517.5zM614.5 1285.5H623.4V1294.5H614.5zM517.5 1276.7H526.4V1285.6H517.5zM296.9 1550.3H305.9V1559.2H296.9zM570.4 1259.1H579.3V1268H570.4zM570.4 1250.2H579.3V1259.2H570.4zM552.8 1241.4H561.7V1250.3H552.8zM535.1 1223.8H544.1V1232.7H535.1zM508.7 1214.9H517.6V1223.8H508.7zM517.5 1206.1H526.4V1215H517.5z"/><path fill="#ff3800" d="M535.1 1320.8H552.9V1329.8H535.1zM561.6 1320.8H570.5V1329.8H561.6zM596.9 1303.2H605.8V1312.1H596.9zM526.3 1285.5H535.2V1294.5H526.3zM579.2 1285.5H588.2V1294.5H579.2zM570.4 1276.7H579.3V1285.6H570.4zM526.3 1267.9H544.1V1276.8H526.3zM526.3 1259.1H544.1V1268H526.3zM544 1250.2H552.9V1259.2H544zM517.5 1241.4H544.1V1250.3H517.5zM526.3 1232.6H544.1V1241.5H526.3zM517.5 1223.8H526.4V1232.7H517.5z"/><path fill="#ff4800" d="M552.8 1320.8H561.7V1329.8H552.8zM526.3 1312H535.2V1320.9H526.3zM588.1 1312H597V1320.9H588.1zM605.7 1294.4H614.6V1303.3H605.7zM588.1 1285.5H614.6V1294.5H588.1zM526.3 1276.7H535.2V1285.6H526.3zM570.4 1267.9H579.3V1276.8H570.4zM561.6 1259.1H570.5V1268H561.6zM517.5 1250.2H535.2V1259.2H517.5zM552.8 1250.2H561.7V1259.2H552.8zM508.7 1232.6H526.4V1241.5H508.7zM526.3 1223.8H535.2V1232.7H526.3z"/><path fill="#ff5800" d="M570.4 1320.8H579.3V1329.8H570.4zM596.9 1312H605.8V1320.9H596.9zM526.3 1303.2H535.2V1312.1H526.3zM526.3 1294.4H535.2V1303.3H526.3zM579.2 1276.7H588.2V1285.6H579.2zM517.5 1267.9H526.4V1276.8H517.5zM517.5 1259.1H526.4V1268H517.5zM561.6 1250.2H570.5V1259.2H561.6zM508.7 1241.4H517.6V1250.3H508.7zM544 1241.4H552.9V1250.3H544zM508.7 1223.8H517.6V1232.7H508.7zM517.5 1214.9H535.2V1223.8H517.5zM508.7 1206.1H517.6V1215H508.7z"/><path fill="#0008ff" d="M464.6 1382.6H482.3V1391.5H464.6zM455.7 1391.4H482.3V1400.3H455.7zM420.4 1417.9H429.4V1426.8H420.4zM464.6 1417.9H473.5V1426.8H464.6zM446.9 1409.1H482.3V1418H446.9zM455.7 1400.2H473.5V1409.2H455.7zM420.4 1435.6H438.2V1444.5H420.4zM411.6 1426.7H420.5V1435.7H411.6zM446.9 1426.7H455.8V1435.7H446.9zM385.2 1691.5H394.1V1700.4H385.2zM791 1850.3H808.7V1859.2H791zM826.2 1850.3H844V1859.2H826.2zM746.9 1841.5H755.8V1850.4H746.9zM764.5 1841.5H773.4V1850.4H764.5zM791 1841.5H826.3V1850.4H791zM799.8 1832.7H808.7V1841.6H799.8zM746.9 1823.9H764.6V1832.8H746.9zM791 1823.9H817.5V1832.8H791zM817.4 1815H826.3V1824H817.4zM782.1 1806.2H791.1V1815.1H782.1zM808.6 1806.2H826.3V1815.1H808.6zM782.1 1797.4H791.1V1806.3H782.1z"/><path fill="#ff2800" d="M535.1 1312H552.9V1320.9H535.1zM570.4 1312H588.2V1320.9H570.4zM561.6 1303.2H570.5V1312.1H561.6zM588.1 1303.2H597V1312.1H588.1zM596.9 1294.4H605.8V1303.3H596.9zM535.1 1285.5H544.1V1294.5H535.1zM570.4 1285.5H579.3V1294.5H570.4zM535.1 1276.7H544.1V1285.6H535.1zM561.6 1276.7H570.5V1285.6H561.6zM544 1259.1H561.7V1268H544zM535.1 1250.2H544.1V1259.2H535.1z"/><path fill="#ff1800" d="M552.8 1312H570.5V1320.9H552.8zM535.1 1303.2H552.9V1312.1H535.1zM570.4 1303.2H588.2V1312.1H570.4zM535.1 1294.4H597V1303.3H535.1zM544 1285.5H561.7V1294.5H544zM544 1276.7H552.9V1285.6H544zM544 1267.9H552.9V1276.8H544zM561.6 1267.9H570.5V1276.8H561.6z"/><path fill="#ff9700" d="M605.7 1312H614.6V1320.9H605.7zM517.5 1303.2H526.4V1312.1H517.5zM605.7 1276.7H614.6V1285.6H605.7zM614.5 1267.9H623.4V1276.8H614.5zM305.8 1559.1H314.7V1568H305.8zM499.8 1197.3H508.8V1206.2H499.8zM526.3 1197.3H535.2V1206.2H526.3zM588.1 1250.2H605.8V1259.2H588.1zM561.6 1241.4H570.5V1250.3H561.6zM579.2 1241.4H588.2V1250.3H579.2zM596.9 1241.4H623.4V1250.3H596.9zM552.8 1232.6H561.7V1241.5H552.8z"/><path fill="#ff0800" d="M552.8 1303.2H561.7V1312.1H552.8zM561.6 1285.5H570.5V1294.5H561.6zM552.8 1267.9H561.7V1276.8H552.8z"/><path fill="#f70000" d="M552.8 1276.7H561.7V1285.6H552.8z"/><path fill="#0f0fff" d="M429.3 1417.9H438.2V1426.8H429.3zM455.7 1417.9H464.7V1426.8H455.7zM420.4 1426.7H447V1435.7H420.4zM808.6 1850.3H826.3V1859.2H808.6zM808.6 1832.7H817.5V1841.6H808.6z"/></g>
<polyline fill="none" stroke="#a01010" stroke-width="2.2" points="1118.6,517 1118.6,940.6 836.3,1081.8 836.3,1328.9 624.6,1558.4 342.3,1717.2"/>
<polyline fill="none" stroke="#78c83c" stroke-width="1.9" stroke-dasharray="9 1.5" points="1295,517 1295,1187.7 871.6,1717.2 342.3,1717.2"/>
<path d="M596.9 967.9L628.3 950.1M628.3 950.1L639.5 961.5M625.1 951.9L636.3 963.3M622 953.7L633.2 965.1M649.9 967.9L679.5 947.4M679.5 947.4L691.7 957.8M676.5 949.5L688.7 959.9M673.6 951.5L685.8 961.9M385.2 1020.8L404.9 990.7M404.9 990.7L420.1 995.7M438.1 1020.8L457.6 990.5M457.6 990.5L472.8 995.4M455.6 993.6L470.9 998.4M596.9 1020.8L624 997M624 997L637.3 1005.9M621.3 999.4L634.6 1008.3M618.6 1001.8L631.9 1010.7M649.9 1020.8L676.4 996.5M676.4 996.5L689.9 1005M673.7 998.9L687.2 1007.5M671.1 1001.3L684.6 1009.9M438.1 1073.8L444.8 1038.4M444.8 1038.4L460.8 1037.2M444.2 1041.9L460.1 1040.8M544 1073.8L558.9 1041M558.9 1041L574.7 1043.6M557.4 1044.3L573.2 1046.9M555.9 1047.6L571.7 1050.2M596.9 1073.8L620.3 1046.4M620.3 1046.4L634.7 1053.3M618 1049.1L632.4 1056M615.6 1051.9L630.1 1058.7M613.3 1054.6L620.5 1058M649.9 1073.8L678.1 1051.4M678.1 1051.4L690.9 1061M675.3 1053.7L688.1 1063.2M672.4 1055.9L685.3 1065.4M669.6 1058.1L676 1062.9M491.1 1126.7L491.1 1090.7M491.1 1090.7L506.5 1086.6M491.1 1094.3L506.5 1090.2M544 1126.7L549 1091.1M549 1091.1L564.9 1089.1M548.5 1094.6L564.4 1092.7M548 1098.2L563.9 1096.3M547.5 1101.8L555.4 1100.8M596.9 1126.7L622.6 1101.5M622.6 1101.5L636.4 1109.6M620 1104L633.8 1112.1M617.5 1106.5L631.3 1114.6M614.9 1109.1L628.7 1117.2M649.9 1126.7L682 1110.5M682 1110.5L692.7 1122.5M678.8 1112.1L689.4 1124.1M675.6 1113.8L686.2 1125.7M491.1 1179.7L477.7 1146.3M477.7 1146.3L490.5 1136.7M479 1149.6L491.8 1140M480.3 1152.9L493.1 1143.3M481.7 1156.3L494.5 1146.7M544 1179.7L544 1143.7M544 1143.7L559.5 1139.5M544 1147.3L559.5 1143.1M544 1150.9L559.5 1146.7M544 1154.5L559.5 1150.3M596.9 1179.7L622.7 1154.5M622.7 1154.5L636.5 1162.7M620.1 1157.1L633.9 1165.2M617.6 1159.6L631.3 1167.7M615 1162.1L628.7 1170.3M649.9 1179.7L683.4 1166.5M683.4 1166.5L692.9 1179.4M680 1167.8L689.5 1180.7M676.7 1169.1L686.2 1182M544 1232.6L528.4 1200.2M528.4 1200.2L540.6 1189.7M530 1203.4L542.2 1193M531.6 1206.7L543.7 1196.2M533.1 1209.9L545.3 1199.5M534.7 1213.1L546.8 1202.7M596.9 1232.6L622.7 1207.5M622.7 1207.5L636.5 1215.7M620.1 1210L633.9 1218.2M617.6 1212.5L631.3 1220.7M615 1215L628.7 1223.2M649.9 1232.6L684.1 1243.6M684.1 1243.6L683.4 1259.6M680.7 1242.5L680 1258.5M677.3 1241.4L676.5 1257.4M702.8 1232.6L729 1257.3M729 1257.3L721.4 1271.4M726.4 1254.9L718.8 1268.9M544 1285.6L526.8 1254M526.8 1254L538.3 1242.9M528.5 1257.1L540.1 1246.1M530.2 1260.3L541.8 1249.3M531.9 1263.5L543.5 1252.4M533.7 1266.6L545.2 1255.6M596.9 1285.6L570 1261.7M570 1261.7L577.1 1247.4M572.7 1264.1L579.8 1249.8M575.4 1266.5L582.5 1252.2M578.1 1268.9L585.2 1254.6M580.8 1271.3L587.9 1256.9M649.9 1285.6L650.9 1321.6M650.9 1321.6L635.5 1326.1M650.8 1318L635.4 1322.5M650.7 1314.4L635.3 1318.9M702.8 1285.6L698.6 1321.3M698.6 1321.3L682.8 1323.7M699 1317.8L683.2 1320.1M699.5 1314.2L691.6 1315.3M544 1338.5L527.1 1306.7M527.1 1306.7L538.8 1295.8M528.8 1309.9L540.5 1299M530.5 1313.1L542.2 1302.2M532.2 1316.3L543.9 1305.4M533.9 1319.4L545.6 1308.5M596.9 1338.5L565.2 1321.6M565.2 1321.6L568.8 1306M568.3 1323.3L572 1307.7M571.5 1325L575.1 1309.4M574.7 1326.7L578.3 1311.1M649.9 1338.5L614.5 1345.2M614.5 1345.2L607.6 1330.8M618 1344.5L611.1 1330.1M621.6 1343.9L614.6 1329.4M702.8 1338.5L677 1363.7M677 1363.7L663.3 1355.5M679.6 1361.1L665.8 1353M438.1 1391.5L407 1373.4M407 1373.4L411.2 1358M491.1 1391.5L485.1 1356M485.1 1356L499.6 1349.3M544 1391.5L531.5 1357.7M531.5 1357.7L544.6 1348.5M532.7 1361.1L545.8 1351.8M534 1364.5L540.5 1359.8M596.9 1391.5L569.2 1368.5M569.2 1368.5L575.9 1354M572 1370.8L578.7 1356.2M574.8 1373.1L578.1 1365.8M649.9 1391.5L614.7 1383.8M614.7 1383.8L613.9 1367.8M618.2 1384.6L617.4 1368.6M621.7 1385.4L621.3 1377.4M702.8 1391.5L666.9 1394.1M666.9 1394.1L661.6 1379M670.5 1393.9L665.2 1378.8M332.3 1444.4L351.2 1413.8M351.2 1413.8L366.5 1418.4M385.2 1444.4L377.6 1409.2M377.6 1409.2L391.8 1401.9M438.1 1444.4L472.1 1432.5M472.1 1432.5L481.1 1445.8M491.1 1444.4L510 1413.8M510 1413.8L525.3 1418.4M544 1444.4L537.4 1409M537.4 1409L551.8 1402.1M538.1 1412.6L552.5 1405.7M596.9 1444.4L576.1 1415.1M576.1 1415.1L586.3 1402.7M578.2 1418L588.4 1405.7M649.9 1444.4L620.3 1423.8M620.3 1423.8L625.8 1408.8M623.3 1425.9L628.7 1410.9M702.8 1444.4L666.8 1446.3M666.8 1446.3L661.9 1431.1M670.4 1446.1L668 1438.5M755.7 1444.4L728.2 1467.7M728.2 1467.7L715.1 1458.5M731 1465.3L717.8 1456.2M332.3 1497.4L347.9 1464.9M347.9 1464.9L363.6 1467.9M346.3 1468.2L354.2 1469.7M385.2 1497.4L419.6 1486.7M419.6 1486.7L428.1 1500.3M438.1 1497.4L472.2 1485.8M472.2 1485.8L481.1 1499.1M491.1 1497.4L506.7 1464.9M506.7 1464.9L522.4 1467.9M544 1497.4L544 1461.4M544 1461.4L559.5 1457.2M544 1465L551.7 1462.9M596.9 1497.4L576.6 1467.7M576.6 1467.7L587 1455.5M578.6 1470.6L583.8 1464.6M649.9 1497.4L615.1 1488M615.1 1488L615.2 1472M702.8 1497.4L678.3 1523.7M678.3 1523.7L664.1 1516.2M680.7 1521.1L673.7 1517.4M385.2 1550.3L419.6 1539.6M419.6 1539.6L428.1 1553.1M416.1 1540.7L424.7 1554.2M438.1 1550.3L467.4 1529.3M467.4 1529.3L479.7 1539.4M491.1 1550.3L460.5 1531.3M460.5 1531.3L465.1 1516M544 1550.3L527.9 1518.1M527.9 1518.1L539.9 1507.5M596.9 1550.3L576.5 1520.7M576.5 1520.7L586.9 1508.5M649.9 1550.3L616.2 1537.5M616.2 1537.5L617.9 1521.6M332.3 1550.3L368.2 1552.2M368.2 1552.2L371.5 1567.9M364.6 1552.1L367.9 1567.7M361 1551.9L364.3 1567.5M491.1 1603.3L456.1 1611.8M456.1 1611.8L448.4 1597.7M459.6 1610.9L451.9 1596.9M463.1 1610.1L459.2 1603M544 1603.3L508.2 1607.3M508.2 1607.3L502.4 1592.3M511.8 1606.9L506 1592M515.4 1606.5L509.6 1591.6M332.3 1603.3L298 1614.2M298 1614.2L289.3 1600.8M301.4 1613.1L292.8 1599.7M332.3 1656.2L298.6 1668.9M298.6 1668.9L289.3 1655.8M385.2 1656.2L359.4 1681.4M359.4 1681.4L345.7 1673.2M438.1 1656.2L406.3 1673M406.3 1673L395.4 1661.3M409.5 1671.3L404 1665.5M385.2 1709.2L350.9 1698.4M350.9 1698.4L351.6 1682.4M438.1 1709.2L404.6 1696.2M404.6 1696.2L406.3 1680.3M407.9 1697.5L409.7 1681.6M385.2 1762.1L354.8 1742.9M354.8 1742.9L359.6 1727.6M438.1 1762.1L402.3 1765.3M402.3 1765.3L396.8 1750.3M405.9 1765L403.1 1757.5M491.1 1815.1L486 1850.7M486 1850.7L470.1 1852.6M486.5 1847.2L478.6 1848.1M808.7 1709.2L801 1744.4M801 1744.4L785 1745.1M808.7 1762.1L783.2 1787.6M783.2 1787.6L769.3 1779.6M808.7 1815.1L783.2 1840.5M783.2 1840.5L769.3 1832.5M755.7 1815.1L734.3 1844M173.5 1338.5L185.8 1304.7M185.8 1304.7L201.7 1306.1M184.6 1308.1L200.5 1309.5M226.4 1338.5L228.5 1302.6M228.5 1302.6L244.1 1299.3M228.3 1306.2L243.9 1302.9M173.5 1391.5L182.9 1356.7M182.9 1356.7L198.9 1356.7M181.9 1360.2L189.9 1360.2M226.4 1391.5L218.8 1356.3M218.8 1356.3L233 1349M219.6 1359.8L226.7 1356.1M279.3 1391.5L284.5 1355.8M284.5 1355.8L300.4 1354M226.4 1444.4L239.9 1411M239.9 1411L255.8 1413M238.5 1414.4L246.5 1415.4M279.3 1444.4L301.3 1415.9M301.3 1415.9L316.1 1422.1M299.1 1418.8L306.5 1421.9M279.3 1497.4L299.5 1467.5M299.5 1467.5L314.6 1472.7M297.5 1470.5L312.6 1475.7M295.4 1473.5L303 1476.1" stroke="#000" stroke-width="1.7" fill="none"/>
<g transform="translate(1096.5 518) rotate(90)">
<g fill="#000"><text x="6.3 18.8" y="0" font-size="22.6" font-family="Liberation Sans" font-weight="normal" text-anchor="middle" transform="scale(0.900 1.000)">24</text><text x="22.6 45.2 67.8 90.4 113" y="0" font-size="22.6" font-family="'Liberation Sans','Noto Sans CJK SC',sans-serif" font-weight="normal">小时警戒线</text></g>
</g>
<g transform="translate(894 1729) rotate(-51.35)">
<g fill="#000"><text x="6.6 19.7" y="0" font-size="23.6" font-family="Liberation Sans" font-weight="normal" text-anchor="middle" transform="scale(0.900 1.000)">48</text><text x="23.6 47.2 70.8 94.4 118" y="0" font-size="23.6" font-family="'Liberation Sans','Noto Sans CJK SC',sans-serif" font-weight="normal">小时警戒线</text></g>
</g>
<g fill="none" stroke="#e8141c" stroke-width="2">
<line x1="624" y1="1117.7" x2="624" y2="1378.8"/>
<line x1="605.5" y1="1262.5" x2="642.5" y2="1262.5"/>
<path d="M624 1117.7A144.8 144.8 0 0 0 488.5 1211.6"/>
<path d="M499.7 1262.5H507.7A116.3 116.3 0 0 0 624 1378.8"/>
</g>
</g>
<rect x="26.4" y="210.5" width="2170.4" height="1710.9" fill="none" stroke="#000" stroke-width="1.3"/>
<rect x="99.1" y="274.1" width="2017.1" height="1581.4" fill="none" stroke="#000" stroke-width="2.2"/>
<rect x="0.75" y="0.75" width="2974.5" height="2102.5" fill="none" stroke="#000" stroke-width="1.5"/>
<path d="M165.9 274.1v3.2M165.9 1855.5v-3.2M342.3 274.1v7.5M342.3 1855.5v-7.5M518.7 274.1v3.2M518.7 1855.5v-3.2M695.2 274.1v3.2M695.2 1855.5v-3.2M871.6 274.1v7.5M871.6 1855.5v-7.5M1048 274.1v3.2M1048 1855.5v-3.2M1224.5 274.1v3.2M1224.5 1855.5v-3.2M1400.9 274.1v7.5M1400.9 1855.5v-7.5M1577.3 274.1v3.2M1577.3 1855.5v-3.2M1753.8 274.1v3.2M1753.8 1855.5v-3.2M1930.2 274.1v7.5M1930.2 1855.5v-7.5M2106.7 274.1v3.2M2106.7 1855.5v-3.2M99.1 1717.2h7.5M2116.2 1717.2h-7.5M99.1 1540.7h3.2M2116.2 1540.7h-3.2M99.1 1364.2h3.2M2116.2 1364.2h-3.2M99.1 1187.7h7.5M2116.2 1187.7h-7.5M99.1 1011.2h3.2M2116.2 1011.2h-3.2M99.1 834.7h3.2M2116.2 834.7h-3.2M99.1 658.2h7.5M2116.2 658.2h-7.5M99.1 481.7h3.2M2116.2 481.7h-3.2M99.1 305.2h3.2M2116.2 305.2h-3.2" stroke="#000" stroke-width="1.6" fill="none"/>
<g fill="#000"><text x="324.8 347.5 370.2" y="242.1" font-size="40" font-family="Liberation Serif" font-weight="normal" text-anchor="middle" transform="scale(0.880 1.080)">105</text><text x="360.6" y="261.5" font-size="40" font-family="Liberation Serif" font-weight="normal" text-anchor="middle" transform="scale(0.950 1.000)">°</text><text x="584.5" y="251.4" font-size="40" font-family="Liberation Serif" font-weight="normal" text-anchor="middle" transform="scale(0.660 1.040)">E</text></g>
<g fill="#000"><text x="339.7 362.4 385.1" y="1766.2" font-size="40" font-family="Liberation Serif" font-weight="normal" text-anchor="middle" transform="scale(0.880 1.080)">105</text><text x="374.4" y="1907.5" font-size="40" font-family="Liberation Serif" font-weight="normal" text-anchor="middle" transform="scale(0.950 1.000)">°</text><text x="604.4" y="1834.1" font-size="40" font-family="Liberation Serif" font-weight="normal" text-anchor="middle" transform="scale(0.660 1.040)">E</text></g>
<g fill="#000"><text x="927 949.8 972.5" y="242.1" font-size="40" font-family="Liberation Serif" font-weight="normal" text-anchor="middle" transform="scale(0.880 1.080)">120</text><text x="918.5" y="261.5" font-size="40" font-family="Liberation Serif" font-weight="normal" text-anchor="middle" transform="scale(0.950 1.000)">°</text><text x="1387.5" y="251.4" font-size="40" font-family="Liberation Serif" font-weight="normal" text-anchor="middle" transform="scale(0.660 1.040)">E</text></g>
<g fill="#000"><text x="944 966.8 989.5" y="1766.2" font-size="40" font-family="Liberation Serif" font-weight="normal" text-anchor="middle" transform="scale(0.880 1.080)">120</text><text x="934.3" y="1907.5" font-size="40" font-family="Liberation Serif" font-weight="normal" text-anchor="middle" transform="scale(0.950 1.000)">°</text><text x="1410.2" y="1834.1" font-size="40" font-family="Liberation Serif" font-weight="normal" text-anchor="middle" transform="scale(0.660 1.040)">E</text></g>
<g fill="#000"><text x="1529.3 1552 1574.7" y="242.1" font-size="40" font-family="Liberation Serif" font-weight="normal" text-anchor="middle" transform="scale(0.880 1.080)">135</text><text x="1476.4" y="261.5" font-size="40" font-family="Liberation Serif" font-weight="normal" text-anchor="middle" transform="scale(0.950 1.000)">°</text><text x="2190.5" y="251.4" font-size="40" font-family="Liberation Serif" font-weight="normal" text-anchor="middle" transform="scale(0.660 1.040)">E</text></g>
<g fill="#000"><text x="1548.4 1571.1 1593.9" y="1766.2" font-size="40" font-family="Liberation Serif" font-weight="normal" text-anchor="middle" transform="scale(0.880 1.080)">135</text><text x="1494.1" y="1907.5" font-size="40" font-family="Liberation Serif" font-weight="normal" text-anchor="middle" transform="scale(0.950 1.000)">°</text><text x="2216.1" y="1834.1" font-size="40" font-family="Liberation Serif" font-weight="normal" text-anchor="middle" transform="scale(0.660 1.040)">E</text></g>
<g fill="#000"><text x="2131.5 2154.2 2177" y="242.1" font-size="40" font-family="Liberation Serif" font-weight="normal" text-anchor="middle" transform="scale(0.880 1.080)">150</text><text x="2034.3" y="261.5" font-size="40" font-family="Liberation Serif" font-weight="normal" text-anchor="middle" transform="scale(0.950 1.000)">°</text><text x="2993.5" y="251.4" font-size="40" font-family="Liberation Serif" font-weight="normal" text-anchor="middle" transform="scale(0.660 1.040)">E</text></g>
<g fill="#000"><text x="2152.8 2175.5 2198.3" y="1766.2" font-size="40" font-family="Liberation Serif" font-weight="normal" text-anchor="middle" transform="scale(0.880 1.080)">150</text><text x="2054" y="1907.5" font-size="40" font-family="Liberation Serif" font-weight="normal" text-anchor="middle" transform="scale(0.950 1.000)">°</text><text x="3021.9" y="1834.1" font-size="40" font-family="Liberation Serif" font-weight="normal" text-anchor="middle" transform="scale(0.660 1.040)">E</text></g>
<g transform="translate(88 1754.2) rotate(-90)">
<g fill="#000"><text x="11.4" y="0" font-size="40" font-family="Liberation Serif" font-weight="normal" text-anchor="middle" transform="scale(0.880 1.080)">0</text><text x="28.2" y="0" font-size="40" font-family="Liberation Serif" font-weight="normal" text-anchor="middle" transform="scale(0.950 1.000)">°</text><text x="106.1" y="0" font-size="40" font-family="Liberation Serif" font-weight="normal" text-anchor="middle" transform="scale(0.660 1.040)">N</text></g>
</g>
<g transform="translate(2166.7 1746.5) rotate(-90)">
<g fill="#000"><text x="11.4" y="0" font-size="40" font-family="Liberation Serif" font-weight="normal" text-anchor="middle" transform="scale(0.880 1.080)">0</text><text x="28.2" y="0" font-size="40" font-family="Liberation Serif" font-weight="normal" text-anchor="middle" transform="scale(0.950 1.000)">°</text><text x="106.1" y="0" font-size="40" font-family="Liberation Serif" font-weight="normal" text-anchor="middle" transform="scale(0.660 1.040)">N</text></g>
</g>
<g transform="translate(88 1224.7) rotate(-90)">
<g fill="#000"><text x="11.4 34.1" y="0" font-size="40" font-family="Liberation Serif" font-weight="normal" text-anchor="middle" transform="scale(0.880 1.080)">15</text><text x="49.3" y="0" font-size="40" font-family="Liberation Serif" font-weight="normal" text-anchor="middle" transform="scale(0.950 1.000)">°</text><text x="136.4" y="0" font-size="40" font-family="Liberation Serif" font-weight="normal" text-anchor="middle" transform="scale(0.660 1.040)">N</text></g>
</g>
<g transform="translate(2166.7 1217) rotate(-90)">
<g fill="#000"><text x="11.4 34.1" y="0" font-size="40" font-family="Liberation Serif" font-weight="normal" text-anchor="middle" transform="scale(0.880 1.080)">15</text><text x="49.3" y="0" font-size="40" font-family="Liberation Serif" font-weight="normal" text-anchor="middle" transform="scale(0.950 1.000)">°</text><text x="136.4" y="0" font-size="40" font-family="Liberation Serif" font-weight="normal" text-anchor="middle" transform="scale(0.660 1.040)">N</text></g>
</g>
<g transform="translate(88 695.2) rotate(-90)">
<g fill="#000"><text x="11.4 34.1" y="0" font-size="40" font-family="Liberation Serif" font-weight="normal" text-anchor="middle" transform="scale(0.880 1.080)">30</text><text x="49.3" y="0" font-size="40" font-family="Liberation Serif" font-weight="normal" text-anchor="middle" transform="scale(0.950 1.000)">°</text><text x="136.4" y="0" font-size="40" font-family="Liberation Serif" font-weight="normal" text-anchor="middle" transform="scale(0.660 1.040)">N</text></g>
</g>
<g transform="translate(2166.7 687.5) rotate(-90)">
<g fill="#000"><text x="11.4 34.1" y="0" font-size="40" font-family="Liberation Serif" font-weight="normal" text-anchor="middle" transform="scale(0.880 1.080)">30</text><text x="49.3" y="0" font-size="40" font-family="Liberation Serif" font-weight="normal" text-anchor="middle" transform="scale(0.950 1.000)">°</text><text x="136.4" y="0" font-size="40" font-family="Liberation Serif" font-weight="normal" text-anchor="middle" transform="scale(0.660 1.040)">N</text></g>
</g>
<g fill="#000"><text x="961.9 999.4 1036.9 1074.4 1258.5 1296" y="108.5" font-size="67" font-family="Liberation Sans" font-weight="bold" text-anchor="middle" transform="scale(0.880 1.000)">202527</text><text x="998.9 1065.9 1201.5 1268.4 1335.4 1402.4 1469.4 1536.3 1603.3" y="108.5" font-size="67" font-family="'Liberation Sans','Noto Sans CJK SC',sans-serif" font-weight="bold" transform="scale(0.963 1)">年第号台风<tspan font-family="'Noto Sans CJK SC',sans-serif">“</tspan>天琴<tspan font-family="'Noto Sans CJK SC',sans-serif">”</tspan></text></g>
<g fill="#000"><text x="817 1878.2" y="160.3" font-size="49.5" font-family="Liberation Serif" font-weight="normal" text-anchor="middle" transform="scale(0.900 1.120)">()</text><text x="858 886 914.1 942.1 970.2 998.2 1026.2 1054.3 1110.4 1138.4 1194.5 1222.6 1278.7 1306.7 1446.9 1475 1503 1531.1 1559.1 1587.2 1615.2 1643.3 1699.3 1727.4 1783.5 1811.5 1867.6 1895.7" y="164.8" font-size="49.5" font-family="Liberation Serif" font-weight="normal" text-anchor="middle" transform="scale(0.880 1.080)">2025112818192920251128200353</text><text x="1080.5 1158.5 1626.1 1704" y="178" font-size="49.5" font-family="Liberation Serif" font-weight="normal" text-anchor="middle" transform="scale(0.950 1.000)">::::</text><text x="999.4 1019.9" y="178" font-size="49.5" font-family="Liberation Serif" font-weight="normal" text-anchor="middle" transform="scale(1.200 1.000)">--</text></g>
<g fill="#000"><text x="2219 2258.7 2298.4 2338.1 2377.8" y="285.6" font-size="40" font-family="'Liberation Serif','Noto Serif CJK SC',serif">台风眼时间</text></g>
<g fill="#000"><text x="2553.2 2831.1 2900.5" y="285.6" font-size="44" font-family="Liberation Serif" font-weight="normal" text-anchor="middle" transform="scale(0.950 1.000)">:::</text><text x="2781.2 2806.2 2831.2 2856.2 2881.2 2906.2 2931.2 2956.2 3006.2 3031.2 3081.2 3106.2 3156.2 3181.2" y="264.4" font-size="44" font-family="Liberation Serif" font-weight="normal" text-anchor="middle" transform="scale(0.880 1.080)">20251128184942</text><text x="3139.9" y="256.2" font-size="44" font-family="Liberation Serif" font-weight="normal" text-anchor="middle" transform="scale(0.900 1.120)">(</text></g>
<g fill="#000"><text x="2832 2874.7 2917.4" y="285.6" font-size="44" font-family="'Liberation Serif','Noto Serif CJK SC',serif" transform="translate(0 0)">北京时</text></g>
<g fill="#000"><text x="3298.8" y="256.2" font-size="44" font-family="Liberation Serif" font-weight="normal" text-anchor="middle" transform="scale(0.900 1.120)">)</text></g>
<g fill="#000"><text x="2219 2258.7 2298.4 2338.1 2377.8" y="378.6" font-size="40" font-family="'Liberation Serif','Noto Serif CJK SC',serif">台风眼位置</text></g>
<g fill="#000"><text x="2553.2" y="378.6" font-size="44" font-family="Liberation Serif" font-weight="normal" text-anchor="middle" transform="scale(0.950 1.000)">:</text></g>
<g fill="#000"><text x="2827.3 2852.3 2877.3 2952.3 3027.3 3052.3" y="350.6" font-size="44" font-family="Liberation Serif" font-weight="normal" text-anchor="middle" transform="scale(0.880 1.080)">113057</text><text x="2684.7 2757.9 2855.6" y="378.6" font-size="44" font-family="Liberation Serif" font-weight="normal" text-anchor="middle" transform="scale(0.950 1.000)">°′″</text><text x="4169.7" y="364" font-size="44" font-family="Liberation Serif" font-weight="normal" text-anchor="middle" transform="scale(0.660 1.040)">E</text></g>
<g fill="#000"><text x="2827.3 2852.3 2927.3 2952.3 3027.3 3052.3" y="413.7" font-size="44" font-family="Liberation Serif" font-weight="normal" text-anchor="middle" transform="scale(0.880 1.080)">125241</text><text x="2661.6 2757.9 2855.6" y="446.8" font-size="44" font-family="Liberation Serif" font-weight="normal" text-anchor="middle" transform="scale(0.950 1.000)">°′″</text><text x="4169.7" y="429.6" font-size="44" font-family="Liberation Serif" font-weight="normal" text-anchor="middle" transform="scale(0.660 1.040)">N</text></g>
<g fill="#000"><text x="2219 2258.7 2298.4 2338.1 2377.8" y="524" font-size="40" font-family="'Liberation Serif','Noto Serif CJK SC',serif">十级风半径</text></g>
<g fill="#000"><text x="2553.2" y="524" font-size="44" font-family="Liberation Serif" font-weight="normal" text-anchor="middle" transform="scale(0.950 1.000)">:</text></g>
<g fill="#000"><text x="2073.3" y="521" font-size="44" font-family="Liberation Serif" font-weight="normal" text-anchor="middle" transform="scale(1.200 1.000)">-</text></g>
<g fill="#000"><text x="2234.2" y="521" font-size="44" font-family="Liberation Serif" font-weight="normal" text-anchor="middle" transform="scale(1.200 1.000)">-</text></g>
<g fill="#000"><text x="2577.5 2635.8" y="517.4" font-size="40" font-family="Liberation Serif" font-weight="normal" text-anchor="middle" transform="scale(0.900 1.120)">()</text><text x="3538.3 3567.8" y="556.1" font-size="40" font-family="Liberation Serif" font-weight="normal" text-anchor="middle" transform="scale(0.660 1.040)">KM</text></g>
<g fill="#000"><text x="2073.3" y="592" font-size="44" font-family="Liberation Serif" font-weight="normal" text-anchor="middle" transform="scale(1.200 1.000)">-</text></g>
<g fill="#000"><text x="2232.5" y="592" font-size="44" font-family="Liberation Serif" font-weight="normal" text-anchor="middle" transform="scale(1.200 1.000)">-</text></g>
<g fill="#000"><text x="2219 2258.7 2298.4 2338.1 2377.8" y="666" font-size="40" font-family="'Liberation Serif','Noto Serif CJK SC',serif">七级风半径</text></g>
<g fill="#000"><text x="2553.2" y="666" font-size="44" font-family="Liberation Serif" font-weight="normal" text-anchor="middle" transform="scale(0.950 1.000)">:</text></g>
<g fill="#000"><text x="2827.3 2852.3 2877.3" y="620.2" font-size="44" font-family="Liberation Serif" font-weight="normal" text-anchor="middle" transform="scale(0.880 1.080)">411</text></g>
<g fill="#000"><text x="2234.2" y="668.8" font-size="44" font-family="Liberation Serif" font-weight="normal" text-anchor="middle" transform="scale(1.200 1.000)">-</text></g>
<g fill="#000"><text x="2577.5 2635.8" y="644.5" font-size="40" font-family="Liberation Serif" font-weight="normal" text-anchor="middle" transform="scale(0.900 1.120)">()</text><text x="3538.3 3567.8" y="692.9" font-size="40" font-family="Liberation Serif" font-weight="normal" text-anchor="middle" transform="scale(0.660 1.040)">KM</text></g>
<g fill="#000"><text x="2827.3 2852.3 2877.3" y="682.3" font-size="44" font-family="Liberation Serif" font-weight="normal" text-anchor="middle" transform="scale(0.880 1.080)">329</text></g>
<g fill="#000"><text x="2234.2" y="735" font-size="44" font-family="Liberation Serif" font-weight="normal" text-anchor="middle" transform="scale(1.200 1.000)">-</text></g>
<g fill="#000"><text x="2219 2258.7 2298.4 2338.1 2377.8" y="811" font-size="40" font-family="'Liberation Serif','Noto Serif CJK SC',serif">最大风速值</text></g>
<g fill="#000"><text x="2553.2" y="811" font-size="44" font-family="Liberation Serif" font-weight="normal" text-anchor="middle" transform="scale(0.950 1.000)">:</text></g>
<g fill="#000"><text x="2836.4 2861.4 2911.4" y="750" font-size="44" font-family="Liberation Serif" font-weight="normal" text-anchor="middle" transform="scale(0.880 1.080)">193</text><text x="2673.7" y="810" font-size="44" font-family="Liberation Serif" font-weight="normal" text-anchor="middle" transform="scale(0.950 1.000)">.</text></g>
<g fill="#000"><text x="2907.1 2997.6" y="724.4" font-size="44" font-family="Liberation Serif" font-weight="normal" text-anchor="middle" transform="scale(0.900 1.120)">()</text><text x="3990.9" y="778.8" font-size="44" font-family="Liberation Serif" font-weight="normal" text-anchor="middle" transform="scale(0.660 1.040)">m</text><text x="2795.8 2818.9" y="810" font-size="44" font-family="Liberation Serif" font-weight="normal" text-anchor="middle" transform="scale(0.950 1.000)">/s</text></g>
<rect x="2398.6" y="1667.5" width="55" height="13.2" fill="#ffffff" shape-rendering="crispEdges"/>
<rect x="2398.6" y="1654.6" width="55" height="13.2" fill="#cfcfff" shape-rendering="crispEdges"/>
<rect x="2398.6" y="1641.8" width="55" height="13.2" fill="#afafff" shape-rendering="crispEdges"/>
<rect x="2398.6" y="1629" width="55" height="13.2" fill="#8f8fff" shape-rendering="crispEdges"/>
<rect x="2398.6" y="1616.1" width="55" height="13.2" fill="#6f6fff" shape-rendering="crispEdges"/>
<rect x="2398.6" y="1603.3" width="55" height="13.2" fill="#4f4fff" shape-rendering="crispEdges"/>
<rect x="2398.6" y="1590.5" width="55" height="13.2" fill="#2f2fff" shape-rendering="crispEdges"/>
<rect x="2398.6" y="1577.6" width="55" height="13.2" fill="#0f0fff" shape-rendering="crispEdges"/>
<rect x="2398.6" y="1564.8" width="55" height="13.2" fill="#0008ff" shape-rendering="crispEdges"/>
<rect x="2398.6" y="1552" width="55" height="13.2" fill="#0018ff" shape-rendering="crispEdges"/>
<rect x="2398.6" y="1539.1" width="55" height="13.2" fill="#0028ff" shape-rendering="crispEdges"/>
<rect x="2398.6" y="1526.3" width="55" height="13.2" fill="#0038ff" shape-rendering="crispEdges"/>
<rect x="2398.6" y="1513.5" width="55" height="13.2" fill="#0048ff" shape-rendering="crispEdges"/>
<rect x="2398.6" y="1500.6" width="55" height="13.2" fill="#0058ff" shape-rendering="crispEdges"/>
<rect x="2398.6" y="1487.8" width="55" height="13.2" fill="#0068ff" shape-rendering="crispEdges"/>
<rect x="2398.6" y="1475" width="55" height="13.2" fill="#0078ff" shape-rendering="crispEdges"/>
<rect x="2398.6" y="1462.1" width="55" height="13.2" fill="#0087ff" shape-rendering="crispEdges"/>
<rect x="2398.6" y="1449.3" width="55" height="13.2" fill="#0097ff" shape-rendering="crispEdges"/>
<rect x="2398.6" y="1436.5" width="55" height="13.2" fill="#00a7ff" shape-rendering="crispEdges"/>
<rect x="2398.6" y="1423.6" width="55" height="13.2" fill="#00b7ff" shape-rendering="crispEdges"/>
<rect x="2398.6" y="1410.8" width="55" height="13.2" fill="#00c7ff" shape-rendering="crispEdges"/>
<rect x="2398.6" y="1398" width="55" height="13.2" fill="#00d7ff" shape-rendering="crispEdges"/>
<rect x="2398.6" y="1385.1" width="55" height="13.2" fill="#00e7ff" shape-rendering="crispEdges"/>
<rect x="2398.6" y="1372.3" width="55" height="13.2" fill="#00f7ff" shape-rendering="crispEdges"/>
<rect x="2398.6" y="1359.5" width="55" height="13.2" fill="#08fff7" shape-rendering="crispEdges"/>
<rect x="2398.6" y="1346.6" width="55" height="13.2" fill="#18ffe7" shape-rendering="crispEdges"/>
<rect x="2398.6" y="1333.8" width="55" height="13.2" fill="#28ffd7" shape-rendering="crispEdges"/>
<rect x="2398.6" y="1321" width="55" height="13.2" fill="#38ffc7" shape-rendering="crispEdges"/>
<rect x="2398.6" y="1308.1" width="55" height="13.2" fill="#48ffb7" shape-rendering="crispEdges"/>
<rect x="2398.6" y="1295.3" width="55" height="13.2" fill="#58ffa7" shape-rendering="crispEdges"/>
<rect x="2398.6" y="1282.5" width="55" height="13.2" fill="#68ff97" shape-rendering="crispEdges"/>
<rect x="2398.6" y="1269.6" width="55" height="13.2" fill="#78ff87" shape-rendering="crispEdges"/>
<rect x="2398.6" y="1256.8" width="55" height="13.2" fill="#87ff78" shape-rendering="crispEdges"/>
<rect x="2398.6" y="1244" width="55" height="13.2" fill="#97ff68" shape-rendering="crispEdges"/>
<rect x="2398.6" y="1231.2" width="55" height="13.2" fill="#a7ff58" shape-rendering="crispEdges"/>
<rect x="2398.6" y="1218.3" width="55" height="13.2" fill="#b7ff48" shape-rendering="crispEdges"/>
<rect x="2398.6" y="1205.5" width="55" height="13.2" fill="#c7ff38" shape-rendering="crispEdges"/>
<rect x="2398.6" y="1192.7" width="55" height="13.2" fill="#d7ff28" shape-rendering="crispEdges"/>
<rect x="2398.6" y="1179.8" width="55" height="13.2" fill="#e7ff18" shape-rendering="crispEdges"/>
<rect x="2398.6" y="1167" width="55" height="13.2" fill="#f7ff08" shape-rendering="crispEdges"/>
<rect x="2398.6" y="1154.2" width="55" height="13.2" fill="#fff700" shape-rendering="crispEdges"/>
<rect x="2398.6" y="1141.3" width="55" height="13.2" fill="#ffe700" shape-rendering="crispEdges"/>
<rect x="2398.6" y="1128.5" width="55" height="13.2" fill="#ffd700" shape-rendering="crispEdges"/>
<rect x="2398.6" y="1115.7" width="55" height="13.2" fill="#ffc700" shape-rendering="crispEdges"/>
<rect x="2398.6" y="1102.8" width="55" height="13.2" fill="#ffb700" shape-rendering="crispEdges"/>
<rect x="2398.6" y="1090" width="55" height="13.2" fill="#ffa700" shape-rendering="crispEdges"/>
<rect x="2398.6" y="1077.2" width="55" height="13.2" fill="#ff9700" shape-rendering="crispEdges"/>
<rect x="2398.6" y="1064.3" width="55" height="13.2" fill="#ff8700" shape-rendering="crispEdges"/>
<rect x="2398.6" y="1051.5" width="55" height="13.2" fill="#ff7800" shape-rendering="crispEdges"/>
<rect x="2398.6" y="1038.7" width="55" height="13.2" fill="#ff6800" shape-rendering="crispEdges"/>
<rect x="2398.6" y="1025.8" width="55" height="13.2" fill="#ff5800" shape-rendering="crispEdges"/>
<rect x="2398.6" y="1013" width="55" height="13.2" fill="#ff4800" shape-rendering="crispEdges"/>
<rect x="2398.6" y="1000.2" width="55" height="13.2" fill="#ff3800" shape-rendering="crispEdges"/>
<rect x="2398.6" y="987.3" width="55" height="13.2" fill="#ff2800" shape-rendering="crispEdges"/>
<rect x="2398.6" y="974.5" width="55" height="13.2" fill="#ff1800" shape-rendering="crispEdges"/>
<rect x="2398.6" y="961.7" width="55" height="13.2" fill="#ff0800" shape-rendering="crispEdges"/>
<rect x="2398.6" y="948.8" width="55" height="13.2" fill="#f70000" shape-rendering="crispEdges"/>
<rect x="2398.6" y="936" width="55" height="13.2" fill="#e70000" shape-rendering="crispEdges"/>
<rect x="2398.6" y="923.2" width="55" height="13.2" fill="#d70000" shape-rendering="crispEdges"/>
<rect x="2398.6" y="910.3" width="55" height="13.2" fill="#c70000" shape-rendering="crispEdges"/>
<rect x="2398.6" y="897.5" width="55" height="13.2" fill="#b70000" shape-rendering="crispEdges"/>
<rect x="2398.6" y="884.7" width="55" height="13.2" fill="#a70000" shape-rendering="crispEdges"/>
<rect x="2398.6" y="871.8" width="55" height="13.2" fill="#970000" shape-rendering="crispEdges"/>
<rect x="2398.6" y="859" width="55" height="13.2" fill="#870000" shape-rendering="crispEdges"/>
<rect x="2398.6" y="859.2" width="55" height="821.3" fill="none" stroke="#000" stroke-width="1.6"/>
<g fill="#000"><text x="1850.4" y="699" font-size="44" font-family="Liberation Serif" font-weight="normal" text-anchor="middle" transform="scale(1.350 1.300)">≥</text><text x="2871.6 2896.6" y="841.4" font-size="44" font-family="Liberation Serif" font-weight="normal" text-anchor="middle" transform="scale(0.880 1.080)">24</text><text x="2861.6 2952" y="812.5" font-size="44" font-family="Liberation Serif" font-weight="normal" text-anchor="middle" transform="scale(0.900 1.120)">()</text><text x="3928.8" y="873.8" font-size="44" font-family="Liberation Serif" font-weight="normal" text-anchor="middle" transform="scale(0.660 1.040)">m</text><text x="2752.6 2775.8" y="908.7" font-size="44" font-family="Liberation Serif" font-weight="normal" text-anchor="middle" transform="scale(0.950 1.000)">/s</text></g>
<g fill="#000"><text x="2828.4 2853.4" y="930.6" font-size="44" font-family="Liberation Serif" font-weight="normal" text-anchor="middle" transform="scale(0.880 1.080)">21</text></g>
<g fill="#000"><text x="2828.4 2853.4" y="1018.3" font-size="44" font-family="Liberation Serif" font-weight="normal" text-anchor="middle" transform="scale(0.880 1.080)">18</text></g>
<g fill="#000"><text x="2828.4 2853.4" y="1106.5" font-size="44" font-family="Liberation Serif" font-weight="normal" text-anchor="middle" transform="scale(0.880 1.080)">15</text></g>
<g fill="#000"><text x="2828.4 2853.4" y="1210.1" font-size="44" font-family="Liberation Serif" font-weight="normal" text-anchor="middle" transform="scale(0.880 1.080)">12</text></g>
<g fill="#000"><text x="2836.4" y="1301.6" font-size="44" font-family="Liberation Serif" font-weight="normal" text-anchor="middle" transform="scale(0.880 1.080)">9</text></g>
<g fill="#000"><text x="2836.4" y="1392" font-size="44" font-family="Liberation Serif" font-weight="normal" text-anchor="middle" transform="scale(0.880 1.080)">6</text></g>
<g fill="#000"><text x="2836.4" y="1486.8" font-size="44" font-family="Liberation Serif" font-weight="normal" text-anchor="middle" transform="scale(0.880 1.080)">3</text></g>
<g fill="#000"><text x="2836.4" y="1568.1" font-size="44" font-family="Liberation Serif" font-weight="normal" text-anchor="middle" transform="scale(0.880 1.080)">0</text></g>
<g fill="#000"><text x="2279.5 2345.5 2411.5 2455.5" y="1761" font-size="44" font-family="'Liberation Serif','Noto Serif CJK SC',serif">坐标系：</text></g>
<g fill="#000"><text x="3837.9 3871.2 3904.5 3937.9" y="1693.3" font-size="44" font-family="Liberation Serif" font-weight="normal" text-anchor="middle" transform="scale(0.660 1.040)">CGCS</text><text x="2978.4 3003.4 3028.4 3053.4" y="1630.6" font-size="44" font-family="Liberation Serif" font-weight="normal" text-anchor="middle" transform="scale(0.880 1.080)">2000</text></g>
<g fill="#000"><text x="2279.5 2345.5 2411.5 2455.5" y="1834" font-size="44" font-family="'Liberation Serif','Noto Serif CJK SC',serif">比例尺：</text></g>
<g fill="#000"><text x="2878.6 2954.1 2979.5 3030.5 3055.9 3081.4 3132.3 3157.7 3183.2" y="1698.1" font-size="44" font-family="Liberation Serif" font-weight="normal" text-anchor="middle" transform="scale(0.880 1.080)">122138000</text><text x="2783.6 2877.9" y="1834" font-size="44" font-family="Liberation Serif" font-weight="normal" text-anchor="middle" transform="scale(0.950 1.000)">,,</text><text x="2544.4" y="1834" font-size="44" font-family="'Liberation Serif','Noto Serif CJK SC',serif">：</text></g>
<g fill="#000"><text x="2287 2325.9 2364.8 2403.7" y="1913.5" font-size="40" font-family="'Liberation Serif','Noto Serif CJK SC',serif">卫星名称</text></g>
<g fill="#000"><text x="2442.6" y="1913.5" font-size="40" font-family="'Liberation Serif','Noto Serif CJK SC',serif">：</text></g>
<g fill="#000"><text x="3804.5 3837.9 3937.9" y="1839.9" font-size="44" font-family="Liberation Serif" font-weight="normal" text-anchor="middle" transform="scale(0.660 1.040)">HYB</text><text x="2129.2" y="1913.5" font-size="44" font-family="Liberation Serif" font-weight="normal" text-anchor="middle" transform="scale(1.200 1.000)">-</text><text x="2928.4" y="1771.8" font-size="44" font-family="Liberation Serif" font-weight="normal" text-anchor="middle" transform="scale(0.880 1.080)">2</text></g>
<g fill="#000"><text x="2287 2344.9 2402.8" y="1991" font-size="40" font-family="'Liberation Serif','Noto Serif CJK SC',serif">传感器</text></g>
<g fill="#000"><text x="2441.7" y="1991" font-size="40" font-family="'Liberation Serif','Noto Serif CJK SC',serif">：</text></g>
<g fill="#000"><text x="3803 3836.4 3869.7" y="1914.4" font-size="44" font-family="Liberation Serif" font-weight="normal" text-anchor="middle" transform="scale(0.660 1.040)">SCA</text></g>
<g fill="#000"><text x="2287 2344.9 2402.8" y="2071" font-size="40" font-family="'Liberation Serif','Noto Serif CJK SC',serif">轨道号</text></g>
<g fill="#000"><text x="2441.7" y="2071" font-size="40" font-family="'Liberation Serif','Noto Serif CJK SC',serif">：</text></g>
<g fill="#000"><text x="2853.4 2878.4 2903.4 2928.4 2953.4" y="1917.6" font-size="44" font-family="Liberation Serif" font-weight="normal" text-anchor="middle" transform="scale(0.880 1.080)">35659</text></g>
<g fill="#000"><text x="219 263.7 308.4 353.1 397.8 442.5 487.2 531.9 576.6 621.3 666 710.7 755.4 800.1 844.8" y="2067" font-size="44.7" font-family="'Liberation Serif','Noto Serif CJK SC',serif">制图单位：国家卫星海洋应用中心</text></g>
<g fill="#000"><text x="0 43.5 87 130.4" y="0" font-size="43.5" font-family="'Liberation Serif','Noto Serif CJK SC',serif" transform="translate(988 2067) scale(0.89 1)">制图时间</text></g>
<g fill="#000"><text x="1142.8" y="2067" font-size="43.5" font-family="'Liberation Serif','Noto Serif CJK SC',serif">：</text></g>
<g fill="#000"><text x="1381.2 1406.2 1431.2 1456.2 1531.2 1556.2 1631.2 1656.2" y="1913.9" font-size="44" font-family="Liberation Serif" font-weight="normal" text-anchor="middle" transform="scale(0.880 1.080)">20251129</text><text x="1292.5 1380.5 1468.5" y="2067" font-size="44" font-family="'Liberation Serif','Noto Serif CJK SC',serif">年月日</text></g>
<g><ellipse cx="105.7" cy="2023.1" rx="77.5" ry="16.5" transform="rotate(-22.6 105.7 2023.1)" fill="none" stroke="#dc3c46" stroke-width="1.1"/><circle cx="102.7" cy="2026.3" r="56.8" fill="#fff" stroke="#2a8fc8" stroke-width="1.3"/><clipPath id="lg"><circle cx="102.7" cy="2026.3" r="45.3"/></clipPath><g clip-path="url(#lg)"><g fill="none" stroke="#2a8fc8" stroke-width="1.1"><path d="M103.6 1980.6L103.6 2051.7"/><path d="M57 2026.3L149.4 2026.3"/><ellipse cx="103.2" cy="2026.3" rx="22.5" ry="45.3"/><path d="M68 1993.5C70 1995 75.7 2000.3 80.1 2002.7C84.4 2005.1 90.1 2006.7 93.9 2007.8C97.8 2008.9 99.8 2009.2 103.2 2009.2C106.6 2009.2 110.4 2008.9 114.3 2007.8C118.1 2006.7 122.4 2005 126.3 2002.7C130.1 2000.5 135.5 1995.8 137.4 1994.4"/><path d="M93.9 1985.6C94.5 1985.2 96.1 1983.9 97.6 1983.3C99.2 1982.8 101.5 1982.4 103.2 1982.4C104.9 1982.4 106.5 1982.8 107.8 1983.3C109.1 1983.9 110.5 1985.2 111 1985.6"/><path d="M95.8 1986.1L71.7 1996.3"/><path d="M109.6 1986.1L135.5 1996.3"/></g><path d="M55.1 2027.7C55.6 2027.5 55.6 2027.5 58.3 2026.8C61.1 2026 67.3 2023.5 71.7 2023.1C76.1 2022.6 80.7 2022.8 84.7 2024C88.7 2025.2 92.7 2028 95.8 2030.5C98.8 2032.9 101 2036.5 103.2 2038.8C105.3 2041.1 106.4 2043.1 108.7 2044.3C111 2045.6 114.1 2046.3 117 2046.2C120 2046 123.2 2044.8 126.3 2043.4C129.3 2042 132.6 2039.9 135.5 2037.9C138.4 2035.9 141.7 2033.4 143.8 2031.4C146 2029.4 147.2 2027.1 148.4 2025.8C149.7 2024.6 150.8 2024.3 151.2 2024L151.2 2079.4L55.1 2079.4z" fill="#2a8fc8"/><path d="M57 2037.9C57.4 2037.5 57.3 2037.1 59.7 2036C62.2 2034.9 67.6 2032 71.7 2031.4C75.9 2030.8 81 2031.1 84.7 2032.3C88.4 2033.5 91.1 2036.3 93.9 2038.8C96.7 2041.2 99 2044.8 101.3 2047.1C103.6 2049.4 105.2 2051.4 107.8 2052.6C110.4 2053.9 113.9 2054.6 117 2054.5C120.1 2054.3 123.2 2053.1 126.3 2051.7C129.3 2050.3 132.4 2048.5 135.5 2046.2C138.6 2043.9 142.4 2040 144.8 2037.9C147.1 2035.7 148.6 2034 149.4 2033.2" fill="none" stroke="#fff" stroke-width="2.4"/><path d="M60.6 2048C61.1 2047.7 61 2047.2 63.4 2046.2C65.9 2045.1 71.6 2042 75.4 2041.5C79.3 2041.1 83.1 2041.9 86.5 2043.4C89.9 2044.9 93 2048.3 95.8 2050.8C98.5 2053.3 100.7 2056.3 103.2 2058.2C105.6 2060.1 107.8 2061.6 110.6 2062.3C113.3 2063.1 116.7 2063.3 119.8 2062.8C122.9 2062.3 126 2061 129 2059.1C132.1 2057.3 135.8 2054 138.3 2051.7C140.7 2049.4 142 2047.1 143.8 2045.2C145.7 2043.4 148.4 2041.4 149.4 2040.6" fill="none" stroke="#fff" stroke-width="2.4"/></g><circle cx="102.7" cy="2026.3" r="45.3" fill="none" stroke="#2a8fc8" stroke-width="1.3"/><polygon points="69.4,2006 93,1999 94.8,2006 71.3,2013.4" fill="#2a8fc8"/><polygon points="105.5,1996.3 128.6,1991.6 130,1998.1 107.3,2003.2" fill="#2a8fc8"/><polygon points="95.3,2001.8 100.4,1997.2 105.9,1999 105.5,2005.5 99.9,2008.3 94.8,2006.4" fill="#fff" stroke="#2a8fc8" stroke-width="1"/><text x="0" y="0" font-size="8.2" font-family="'Liberation Serif','Noto Serif CJK SC',serif" fill="#2a8fc8" text-anchor="middle" transform="translate(59.9 1998.5) rotate(-57) translate(0 3.1)">国</text><text x="0" y="0" font-size="8.2" font-family="'Liberation Serif','Noto Serif CJK SC',serif" fill="#2a8fc8" text-anchor="middle" transform="translate(67.1 1989.8) rotate(-44.3) translate(0 3.1)">家</text><text x="0" y="0" font-size="8.2" font-family="'Liberation Serif','Noto Serif CJK SC',serif" fill="#2a8fc8" text-anchor="middle" transform="translate(75.9 1982.9) rotate(-31.7) translate(0 3.1)">卫</text><text x="0" y="0" font-size="8.2" font-family="'Liberation Serif','Noto Serif CJK SC',serif" fill="#2a8fc8" text-anchor="middle" transform="translate(86.1 1978.1) rotate(-19) translate(0 3.1)">星</text><text x="0" y="0" font-size="8.2" font-family="'Liberation Serif','Noto Serif CJK SC',serif" fill="#2a8fc8" text-anchor="middle" transform="translate(97.1 1975.6) rotate(-6.3) translate(0 3.1)">海</text><text x="0" y="0" font-size="8.2" font-family="'Liberation Serif','Noto Serif CJK SC',serif" fill="#2a8fc8" text-anchor="middle" transform="translate(108.3 1975.6) rotate(6.3) translate(0 3.1)">洋</text><text x="0" y="0" font-size="8.2" font-family="'Liberation Serif','Noto Serif CJK SC',serif" fill="#2a8fc8" text-anchor="middle" transform="translate(119.3 1978.1) rotate(19) translate(0 3.1)">应</text><text x="0" y="0" font-size="8.2" font-family="'Liberation Serif','Noto Serif CJK SC',serif" fill="#2a8fc8" text-anchor="middle" transform="translate(129.5 1982.9) rotate(31.7) translate(0 3.1)">用</text><text x="0" y="0" font-size="8.2" font-family="'Liberation Serif','Noto Serif CJK SC',serif" fill="#2a8fc8" text-anchor="middle" transform="translate(138.3 1989.8) rotate(44.3) translate(0 3.1)">中</text><text x="0" y="0" font-size="8.2" font-family="'Liberation Serif','Noto Serif CJK SC',serif" fill="#2a8fc8" text-anchor="middle" transform="translate(145.5 1998.5) rotate(57) translate(0 3.1)">心</text><path id="lgarc" d="M154 2045A54.6 54.6 0 1 0 51.4 2045" fill="none"/><text x="0" y="0" font-size="6.6" font-family="Liberation Sans" fill="#2a8fc8" text-anchor="middle" transform="translate(56.3 2047.9) rotate(65) translate(0 2.3)">N</text><text x="0" y="0" font-size="6.6" font-family="Liberation Sans" fill="#2a8fc8" text-anchor="middle" transform="translate(57.5 2050.4) rotate(62) translate(0 2.3)">A</text><text x="0" y="0" font-size="6.6" font-family="Liberation Sans" fill="#2a8fc8" text-anchor="middle" transform="translate(58.8 2052.7) rotate(59) translate(0 2.3)">T</text><text x="0" y="0" font-size="6.6" font-family="Liberation Sans" fill="#2a8fc8" text-anchor="middle" transform="translate(60.3 2055) rotate(55.9) translate(0 2.3)">I</text><text x="0" y="0" font-size="6.6" font-family="Liberation Sans" fill="#2a8fc8" text-anchor="middle" transform="translate(61.9 2057.2) rotate(52.9) translate(0 2.3)">O</text><text x="0" y="0" font-size="6.6" font-family="Liberation Sans" fill="#2a8fc8" text-anchor="middle" transform="translate(63.5 2059.3) rotate(49.9) translate(0 2.3)">N</text><text x="0" y="0" font-size="6.6" font-family="Liberation Sans" fill="#2a8fc8" text-anchor="middle" transform="translate(65.3 2061.3) rotate(46.9) translate(0 2.3)">A</text><text x="0" y="0" font-size="6.6" font-family="Liberation Sans" fill="#2a8fc8" text-anchor="middle" transform="translate(67.2 2063.2) rotate(43.8) translate(0 2.3)">L</text><text x="0" y="0" font-size="6.6" font-family="Liberation Sans" fill="#2a8fc8" text-anchor="middle" transform="translate(71.3 2066.8) rotate(37.8) translate(0 2.3)">S</text><text x="0" y="0" font-size="6.6" font-family="Liberation Sans" fill="#2a8fc8" text-anchor="middle" transform="translate(73.5 2068.4) rotate(34.8) translate(0 2.3)">A</text><text x="0" y="0" font-size="6.6" font-family="Liberation Sans" fill="#2a8fc8" text-anchor="middle" transform="translate(75.8 2069.8) rotate(31.7) translate(0 2.3)">T</text><text x="0" y="0" font-size="6.6" font-family="Liberation Sans" fill="#2a8fc8" text-anchor="middle" transform="translate(78.1 2071.2) rotate(28.7) translate(0 2.3)">E</text><text x="0" y="0" font-size="6.6" font-family="Liberation Sans" fill="#2a8fc8" text-anchor="middle" transform="translate(80.5 2072.4) rotate(25.7) translate(0 2.3)">L</text><text x="0" y="0" font-size="6.6" font-family="Liberation Sans" fill="#2a8fc8" text-anchor="middle" transform="translate(83 2073.5) rotate(22.7) translate(0 2.3)">L</text><text x="0" y="0" font-size="6.6" font-family="Liberation Sans" fill="#2a8fc8" text-anchor="middle" transform="translate(85.5 2074.5) rotate(19.7) translate(0 2.3)">I</text><text x="0" y="0" font-size="6.6" font-family="Liberation Sans" fill="#2a8fc8" text-anchor="middle" transform="translate(88 2075.4) rotate(16.6) translate(0 2.3)">T</text><text x="0" y="0" font-size="6.6" font-family="Liberation Sans" fill="#2a8fc8" text-anchor="middle" transform="translate(90.7 2076.1) rotate(13.6) translate(0 2.3)">E</text><text x="0" y="0" font-size="6.6" font-family="Liberation Sans" fill="#2a8fc8" text-anchor="middle" transform="translate(96 2077.1) rotate(7.6) translate(0 2.3)">O</text><text x="0" y="0" font-size="6.6" font-family="Liberation Sans" fill="#2a8fc8" text-anchor="middle" transform="translate(98.7 2077.3) rotate(4.5) translate(0 2.3)">C</text><text x="0" y="0" font-size="6.6" font-family="Liberation Sans" fill="#2a8fc8" text-anchor="middle" transform="translate(101.3 2077.5) rotate(1.5) translate(0 2.3)">E</text><text x="0" y="0" font-size="6.6" font-family="Liberation Sans" fill="#2a8fc8" text-anchor="middle" transform="translate(104.1 2077.5) rotate(-1.5) translate(0 2.3)">A</text><text x="0" y="0" font-size="6.6" font-family="Liberation Sans" fill="#2a8fc8" text-anchor="middle" transform="translate(106.7 2077.3) rotate(-4.5) translate(0 2.3)">N</text><text x="0" y="0" font-size="6.6" font-family="Liberation Sans" fill="#2a8fc8" text-anchor="middle" transform="translate(112.1 2076.6) rotate(-10.6) translate(0 2.3)">A</text><text x="0" y="0" font-size="6.6" font-family="Liberation Sans" fill="#2a8fc8" text-anchor="middle" transform="translate(114.7 2076.1) rotate(-13.6) translate(0 2.3)">P</text><text x="0" y="0" font-size="6.6" font-family="Liberation Sans" fill="#2a8fc8" text-anchor="middle" transform="translate(117.4 2075.4) rotate(-16.6) translate(0 2.3)">P</text><text x="0" y="0" font-size="6.6" font-family="Liberation Sans" fill="#2a8fc8" text-anchor="middle" transform="translate(119.9 2074.5) rotate(-19.7) translate(0 2.3)">L</text><text x="0" y="0" font-size="6.6" font-family="Liberation Sans" fill="#2a8fc8" text-anchor="middle" transform="translate(122.4 2073.5) rotate(-22.7) translate(0 2.3)">I</text><text x="0" y="0" font-size="6.6" font-family="Liberation Sans" fill="#2a8fc8" text-anchor="middle" transform="translate(124.9 2072.4) rotate(-25.7) translate(0 2.3)">C</text><text x="0" y="0" font-size="6.6" font-family="Liberation Sans" fill="#2a8fc8" text-anchor="middle" transform="translate(127.3 2071.2) rotate(-28.7) translate(0 2.3)">A</text><text x="0" y="0" font-size="6.6" font-family="Liberation Sans" fill="#2a8fc8" text-anchor="middle" transform="translate(129.6 2069.8) rotate(-31.7) translate(0 2.3)">T</text><text x="0" y="0" font-size="6.6" font-family="Liberation Sans" fill="#2a8fc8" text-anchor="middle" transform="translate(131.9 2068.4) rotate(-34.8) translate(0 2.3)">I</text><text x="0" y="0" font-size="6.6" font-family="Liberation Sans" fill="#2a8fc8" text-anchor="middle" transform="translate(134.1 2066.8) rotate(-37.8) translate(0 2.3)">O</text><text x="0" y="0" font-size="6.6" font-family="Liberation Sans" fill="#2a8fc8" text-anchor="middle" transform="translate(136.2 2065) rotate(-40.8) translate(0 2.3)">N</text><text x="0" y="0" font-size="6.6" font-family="Liberation Sans" fill="#2a8fc8" text-anchor="middle" transform="translate(140.1 2061.3) rotate(-46.9) translate(0 2.3)">S</text><text x="0" y="0" font-size="6.6" font-family="Liberation Sans" fill="#2a8fc8" text-anchor="middle" transform="translate(141.9 2059.3) rotate(-49.9) translate(0 2.3)">E</text><text x="0" y="0" font-size="6.6" font-family="Liberation Sans" fill="#2a8fc8" text-anchor="middle" transform="translate(143.5 2057.2) rotate(-52.9) translate(0 2.3)">R</text><text x="0" y="0" font-size="6.6" font-family="Liberation Sans" fill="#2a8fc8" text-anchor="middle" transform="translate(145.1 2055) rotate(-55.9) translate(0 2.3)">V</text><text x="0" y="0" font-size="6.6" font-family="Liberation Sans" fill="#2a8fc8" text-anchor="middle" transform="translate(146.6 2052.7) rotate(-59) translate(0 2.3)">I</text><text x="0" y="0" font-size="6.6" font-family="Liberation Sans" fill="#2a8fc8" text-anchor="middle" transform="translate(147.9 2050.4) rotate(-62) translate(0 2.3)">C</text><text x="0" y="0" font-size="6.6" font-family="Liberation Sans" fill="#2a8fc8" text-anchor="middle" transform="translate(149.1 2047.9) rotate(-65) translate(0 2.3)">E</text><polyline points="177.2,1993.3 177.5,1995 177,1997.1 175.7,1999.4 173.6,2002.1 170.8,2004.9 167.3,2007.9 163.1,2011.1 158.2,2014.5 152.8,2017.9 146.9,2021.4 140.6,2024.9 133.8,2028.3 126.7,2031.8 119.4,2035.1 112,2038.3 104.5,2041.3 97,2044.2 89.6,2046.8 82.3,2049.1 75.4,2051.1 68.7,2052.9 62.5,2054.3 56.7,2055.4 51.5,2056.1 46.9,2056.5 42.9,2056.5 39.6,2056.1 37,2055.4 35.2,2054.3 34.1,2052.8" fill="none" stroke="#dc3c46" stroke-width="1.1"/><circle cx="167.4" cy="1992.1" r="2" fill="#dc3c46"/></g></svg></body></html>
